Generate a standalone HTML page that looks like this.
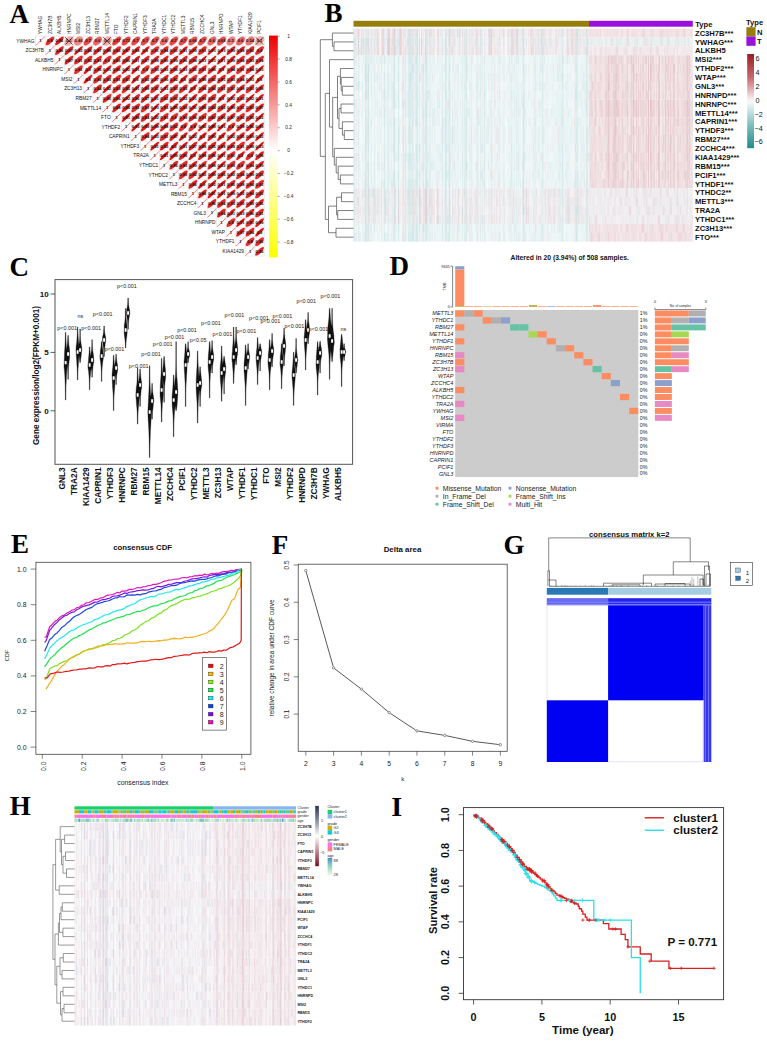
<!DOCTYPE html>
<html><head><meta charset="utf-8"><style>
html,body{margin:0;padding:0;background:#fff;}
svg{display:block;font-family:"Liberation Sans", sans-serif;}
</style></head><body>
<svg width="767" height="1041" viewBox="0 0 767 1041">
<rect width="767" height="1041" fill="#fff"/>
<text x="9.5" y="23" font-size="27" fill="#000" font-weight="bold" font-family='"Liberation Serif", serif'>A</text>
<g font-size="4.8" fill="#111">
<text transform="translate(41.97 34) rotate(-90)">YWHAG</text>
<text transform="translate(51.5 34) rotate(-90)">ZC3H7B</text>
<text transform="translate(61.02 34) rotate(-90)">ALKBH5</text>
<text transform="translate(70.55 34) rotate(-90)">HNRNPC</text>
<text transform="translate(80.08 34) rotate(-90)">MSI2</text>
<text transform="translate(89.61 34) rotate(-90)">ZC3H13</text>
<text transform="translate(99.14 34) rotate(-90)">RBM27</text>
<text transform="translate(108.67 34) rotate(-90)">METTL14</text>
<text transform="translate(118.2 34) rotate(-90)">FTO</text>
<text transform="translate(127.73 34) rotate(-90)">YTHDF2</text>
<text transform="translate(137.26 34) rotate(-90)">CAPRIN1</text>
<text transform="translate(146.79 34) rotate(-90)">YTHDF3</text>
<text transform="translate(156.32 34) rotate(-90)">TRA2A</text>
<text transform="translate(165.85 34) rotate(-90)">YTHDC1</text>
<text transform="translate(175.38 34) rotate(-90)">YTHDC2</text>
<text transform="translate(184.91 34) rotate(-90)">METTL3</text>
<text transform="translate(194.44 34) rotate(-90)">RBM15</text>
<text transform="translate(203.97 34) rotate(-90)">ZCCHC4</text>
<text transform="translate(213.5 34) rotate(-90)">GNL3</text>
<text transform="translate(223.03 34) rotate(-90)">HNRNPD</text>
<text transform="translate(232.56 34) rotate(-90)">WTAP</text>
<text transform="translate(242.09 34) rotate(-90)">YTHDF1</text>
<text transform="translate(251.62 34) rotate(-90)">KIAA1429</text>
<text transform="translate(261.16 34) rotate(-90)">PCIF1</text>
</g><g font-size="4.8" fill="#111" text-anchor="end">
<text x="34.4" y="42.68">YWHAG</text>
<text x="43.93" y="52.24">ZC3H7B</text>
<text x="53.46" y="61.8">ALKBH5</text>
<text x="62.99" y="71.36">HNRNPC</text>
<text x="72.52" y="80.92">MSI2</text>
<text x="82.05" y="90.48">ZC3H13</text>
<text x="91.58" y="100.04">RBM27</text>
<text x="101.11" y="109.6">METTL14</text>
<text x="110.64" y="119.16">FTO</text>
<text x="120.17" y="128.72">YTHDF2</text>
<text x="129.7" y="138.28">CAPRIN1</text>
<text x="139.23" y="147.84">YTHDF3</text>
<text x="148.76" y="157.4">TRA2A</text>
<text x="158.29" y="166.96">YTHDC1</text>
<text x="167.82" y="176.52">YTHDC2</text>
<text x="177.35" y="186.08">METTL3</text>
<text x="186.88" y="195.64">RBM15</text>
<text x="196.41" y="205.2">ZCCHC4</text>
<text x="205.94" y="214.76">GNL3</text>
<text x="215.47" y="224.32">HNRNPD</text>
<text x="225" y="233.88">WTAP</text>
<text x="234.53" y="243.44">YTHDF1</text>
<text x="244.06" y="253">KIAA1429</text>
</g>
<path d="M35.6 36.2H264.32M45.13 45.76H264.32M54.66 55.32H264.32M64.19 64.88H264.32M73.72 74.44H264.32M83.25 84H264.32M92.78 93.56H264.32M102.31 103.12H264.32M111.84 112.68H264.32M121.37 122.24H264.32M130.9 131.8H264.32M140.43 141.36H264.32M149.96 150.92H264.32M159.49 160.48H264.32M169.02 170.04H264.32M178.55 179.6H264.32M188.08 189.16H264.32M197.61 198.72H264.32M207.14 208.28H264.32M216.67 217.84H264.32M226.2 227.4H264.32M235.73 236.96H264.32M245.26 246.52H264.32M245.26 256.08H264.32M35.6 36.2V45.76M45.13 36.2V55.32M54.66 36.2V64.88M64.19 36.2V74.44M73.72 36.2V84M83.25 36.2V93.56M92.78 36.2V103.12M102.31 36.2V112.68M111.84 36.2V122.24M121.37 36.2V131.8M130.9 36.2V141.36M140.43 36.2V150.92M149.96 36.2V160.48M159.49 36.2V170.04M169.02 36.2V179.6M178.55 36.2V189.16M188.08 36.2V198.72M197.61 36.2V208.28M207.14 36.2V217.84M216.67 36.2V227.4M226.2 36.2V236.96M235.73 36.2V246.52M245.26 36.2V256.08M254.79 36.2V256.08M264.32 36.2V256.08" stroke="#d6d6d6" fill="none" stroke-width="0.5"/>
<g transform="rotate(-45)"><ellipse cx="6.31" cy="64.25" rx="5.75" ry="2.3" fill="#e62f2f"/><ellipse cx="13.05" cy="70.99" rx="5.85" ry="1.93" fill="#e41f1f"/><ellipse cx="19.79" cy="77.73" rx="5.3" ry="4" fill="#f7adad"/><ellipse cx="26.53" cy="84.46" rx="5.18" ry="3.78" fill="#f18787"/><ellipse cx="33.27" cy="91.2" rx="5.59" ry="2.82" fill="#e94949"/><ellipse cx="40.01" cy="97.94" rx="5.42" ry="3.25" fill="#ec6363"/><ellipse cx="46.75" cy="104.68" rx="5.3" ry="4" fill="#f7adad"/><ellipse cx="53.49" cy="111.42" rx="5.71" ry="2.47" fill="#e73737"/><ellipse cx="60.22" cy="118.16" rx="5.62" ry="2.72" fill="#e84444"/><ellipse cx="66.96" cy="124.9" rx="5.59" ry="2.82" fill="#e94949"/><ellipse cx="73.7" cy="131.63" rx="5.59" ry="2.82" fill="#e94949"/><ellipse cx="80.44" cy="138.37" rx="5.59" ry="2.82" fill="#e94949"/><ellipse cx="87.18" cy="145.11" rx="5.42" ry="3.25" fill="#ec6363"/><ellipse cx="93.92" cy="151.85" rx="5.59" ry="2.82" fill="#e94949"/><ellipse cx="100.66" cy="158.59" rx="5.59" ry="2.82" fill="#e94949"/><ellipse cx="107.4" cy="165.33" rx="5.53" ry="3" fill="#ea5353"/><ellipse cx="114.13" cy="172.07" rx="5.59" ry="2.82" fill="#e94949"/><ellipse cx="120.87" cy="178.81" rx="5.42" ry="3.25" fill="#ec6363"/><ellipse cx="127.61" cy="185.54" rx="5.56" ry="2.91" fill="#ea4e4e"/><ellipse cx="134.35" cy="192.28" rx="5.25" ry="3.64" fill="#ef7d7d"/><ellipse cx="141.09" cy="199.02" rx="5.42" ry="3.25" fill="#ec6363"/><ellipse cx="147.83" cy="205.76" rx="5.32" ry="3.49" fill="#ee7272"/><ellipse cx="154.57" cy="212.5" rx="5.3" ry="4" fill="#f7adad"/><ellipse cx="6.29" cy="77.75" rx="5.85" ry="1.93" fill="#e41f1f"/><ellipse cx="13.03" cy="84.49" rx="5.87" ry="1.84" fill="#e41c1c"/><ellipse cx="19.77" cy="91.22" rx="5.94" ry="1.45" fill="#e21010"/><ellipse cx="26.51" cy="97.96" rx="5.85" ry="1.92" fill="#e41f1f"/><ellipse cx="33.25" cy="104.7" rx="5.86" ry="1.88" fill="#e41e1e"/><ellipse cx="39.99" cy="111.44" rx="5.87" ry="1.81" fill="#e41b1b"/><ellipse cx="46.73" cy="118.18" rx="5.79" ry="2.16" fill="#e52929"/><ellipse cx="53.46" cy="124.92" rx="5.86" ry="1.88" fill="#e41d1d"/><ellipse cx="60.2" cy="131.66" rx="5.88" ry="1.77" fill="#e31919"/><ellipse cx="66.94" cy="138.39" rx="5.92" ry="1.6" fill="#e31414"/><ellipse cx="73.68" cy="145.13" rx="5.77" ry="2.23" fill="#e62c2c"/><ellipse cx="80.42" cy="151.87" rx="5.82" ry="2.06" fill="#e52525"/><ellipse cx="87.16" cy="158.61" rx="5.77" ry="2.23" fill="#e62c2c"/><ellipse cx="93.9" cy="165.35" rx="5.92" ry="1.58" fill="#e31313"/><ellipse cx="100.64" cy="172.09" rx="5.9" ry="1.71" fill="#e31717"/><ellipse cx="107.37" cy="178.83" rx="5.76" ry="2.27" fill="#e62d2d"/><ellipse cx="114.11" cy="185.57" rx="5.95" ry="1.38" fill="#e20e0e"/><ellipse cx="120.85" cy="192.3" rx="5.95" ry="1.41" fill="#e20e0e"/><ellipse cx="127.59" cy="199.04" rx="5.89" ry="1.75" fill="#e31919"/><ellipse cx="134.33" cy="205.78" rx="5.88" ry="1.78" fill="#e31a1a"/><ellipse cx="141.07" cy="212.52" rx="5.79" ry="2.18" fill="#e52929"/><ellipse cx="147.81" cy="219.26" rx="5.76" ry="2.29" fill="#e62e2e"/><ellipse cx="6.27" cy="91.25" rx="5.86" ry="1.86" fill="#e41d1d"/><ellipse cx="13.01" cy="97.98" rx="5.77" ry="2.26" fill="#e62d2d"/><ellipse cx="19.75" cy="104.72" rx="5.79" ry="2.15" fill="#e52828"/><ellipse cx="26.49" cy="111.46" rx="5.8" ry="2.11" fill="#e52727"/><ellipse cx="33.23" cy="118.2" rx="5.76" ry="2.28" fill="#e62e2e"/><ellipse cx="39.97" cy="124.94" rx="5.85" ry="1.92" fill="#e41f1f"/><ellipse cx="46.7" cy="131.68" rx="5.84" ry="1.94" fill="#e42020"/><ellipse cx="53.44" cy="138.42" rx="5.93" ry="1.55" fill="#e31212"/><ellipse cx="60.18" cy="145.15" rx="5.86" ry="1.87" fill="#e41d1d"/><ellipse cx="66.92" cy="151.89" rx="5.89" ry="1.76" fill="#e31919"/><ellipse cx="73.66" cy="158.63" rx="5.86" ry="1.89" fill="#e41e1e"/><ellipse cx="80.4" cy="165.37" rx="5.89" ry="1.74" fill="#e31818"/><ellipse cx="87.14" cy="172.11" rx="5.85" ry="1.93" fill="#e41f1f"/><ellipse cx="93.88" cy="178.85" rx="5.81" ry="2.08" fill="#e52525"/><ellipse cx="100.61" cy="185.59" rx="5.96" ry="1.36" fill="#e20e0e"/><ellipse cx="107.35" cy="192.33" rx="5.96" ry="1.37" fill="#e20e0e"/><ellipse cx="114.09" cy="199.06" rx="5.93" ry="1.55" fill="#e31212"/><ellipse cx="120.83" cy="205.8" rx="5.9" ry="1.69" fill="#e31717"/><ellipse cx="127.57" cy="212.54" rx="5.82" ry="2.05" fill="#e52424"/><ellipse cx="134.31" cy="219.28" rx="5.8" ry="2.12" fill="#e52727"/><ellipse cx="141.05" cy="226.02" rx="5.81" ry="2.07" fill="#e52525"/><ellipse cx="6.25" cy="104.74" rx="5.77" ry="2.25" fill="#e62c2c"/><ellipse cx="12.99" cy="111.48" rx="5.91" ry="1.63" fill="#e31515"/><ellipse cx="19.73" cy="118.22" rx="5.84" ry="1.98" fill="#e42121"/><ellipse cx="26.47" cy="124.96" rx="5.93" ry="1.54" fill="#e21212"/><ellipse cx="33.21" cy="131.7" rx="5.83" ry="1.99" fill="#e42222"/><ellipse cx="39.94" cy="138.44" rx="5.95" ry="1.41" fill="#e20e0e"/><ellipse cx="46.68" cy="145.18" rx="5.93" ry="1.54" fill="#e21212"/><ellipse cx="53.42" cy="151.91" rx="5.75" ry="2.3" fill="#e62f2f"/><ellipse cx="60.16" cy="158.65" rx="5.8" ry="2.14" fill="#e52828"/><ellipse cx="66.9" cy="165.39" rx="5.94" ry="1.47" fill="#e21010"/><ellipse cx="73.64" cy="172.13" rx="5.85" ry="1.92" fill="#e41f1f"/><ellipse cx="80.38" cy="178.87" rx="5.95" ry="1.39" fill="#e20e0e"/><ellipse cx="87.12" cy="185.61" rx="5.84" ry="1.98" fill="#e42121"/><ellipse cx="93.85" cy="192.35" rx="5.77" ry="2.25" fill="#e62c2c"/><ellipse cx="100.59" cy="199.09" rx="5.88" ry="1.77" fill="#e31919"/><ellipse cx="107.33" cy="205.82" rx="5.91" ry="1.62" fill="#e31414"/><ellipse cx="114.07" cy="212.56" rx="5.81" ry="2.09" fill="#e52626"/><ellipse cx="120.81" cy="219.3" rx="5.77" ry="2.24" fill="#e62c2c"/><ellipse cx="127.55" cy="226.04" rx="5.82" ry="2.04" fill="#e52424"/><ellipse cx="134.29" cy="232.78" rx="5.95" ry="1.41" fill="#e20e0e"/><ellipse cx="6.23" cy="118.24" rx="5.91" ry="1.64" fill="#e31515"/><ellipse cx="12.97" cy="124.98" rx="5.78" ry="2.21" fill="#e52b2b"/><ellipse cx="19.71" cy="131.72" rx="5.8" ry="2.11" fill="#e52626"/><ellipse cx="26.45" cy="138.46" rx="5.77" ry="2.22" fill="#e62b2b"/><ellipse cx="33.18" cy="145.2" rx="5.77" ry="2.26" fill="#e62d2d"/><ellipse cx="39.92" cy="151.94" rx="5.92" ry="1.6" fill="#e31414"/><ellipse cx="46.66" cy="158.67" rx="5.79" ry="2.16" fill="#e52929"/><ellipse cx="53.4" cy="165.41" rx="5.87" ry="1.84" fill="#e41c1c"/><ellipse cx="60.14" cy="172.15" rx="5.85" ry="1.94" fill="#e42020"/><ellipse cx="66.88" cy="178.89" rx="5.79" ry="2.15" fill="#e52828"/><ellipse cx="73.62" cy="185.63" rx="5.9" ry="1.67" fill="#e31616"/><ellipse cx="80.36" cy="192.37" rx="5.78" ry="2.2" fill="#e52a2a"/><ellipse cx="87.09" cy="199.11" rx="5.89" ry="1.76" fill="#e31919"/><ellipse cx="93.83" cy="205.85" rx="5.78" ry="2.21" fill="#e52b2b"/><ellipse cx="100.57" cy="212.58" rx="5.84" ry="1.96" fill="#e42121"/><ellipse cx="107.31" cy="219.32" rx="5.8" ry="2.14" fill="#e52828"/><ellipse cx="114.05" cy="226.06" rx="5.81" ry="2.09" fill="#e52626"/><ellipse cx="120.79" cy="232.8" rx="5.95" ry="1.4" fill="#e20e0e"/><ellipse cx="127.53" cy="239.54" rx="5.92" ry="1.59" fill="#e31414"/><ellipse cx="6.21" cy="131.74" rx="5.82" ry="2.06" fill="#e52424"/><ellipse cx="12.95" cy="138.48" rx="5.93" ry="1.5" fill="#e21111"/><ellipse cx="19.69" cy="145.22" rx="5.8" ry="2.14" fill="#e52828"/><ellipse cx="26.42" cy="151.96" rx="5.83" ry="1.98" fill="#e42121"/><ellipse cx="33.16" cy="158.7" rx="5.93" ry="1.53" fill="#e21212"/><ellipse cx="39.9" cy="165.43" rx="5.89" ry="1.76" fill="#e31919"/><ellipse cx="46.64" cy="172.17" rx="5.77" ry="2.23" fill="#e62b2b"/><ellipse cx="53.38" cy="178.91" rx="5.96" ry="1.38" fill="#e20e0e"/><ellipse cx="60.12" cy="185.65" rx="5.8" ry="2.14" fill="#e52828"/><ellipse cx="66.86" cy="192.39" rx="5.81" ry="2.1" fill="#e52626"/><ellipse cx="73.6" cy="199.13" rx="5.91" ry="1.62" fill="#e31515"/><ellipse cx="80.33" cy="205.87" rx="5.82" ry="2.04" fill="#e52424"/><ellipse cx="87.07" cy="212.61" rx="5.81" ry="2.07" fill="#e52525"/><ellipse cx="93.81" cy="219.34" rx="5.77" ry="2.25" fill="#e62c2c"/><ellipse cx="100.55" cy="226.08" rx="5.77" ry="2.23" fill="#e62c2c"/><ellipse cx="107.29" cy="232.82" rx="5.87" ry="1.81" fill="#e41b1b"/><ellipse cx="114.03" cy="239.56" rx="5.8" ry="2.11" fill="#e52727"/><ellipse cx="120.77" cy="246.3" rx="5.88" ry="1.8" fill="#e31a1a"/><ellipse cx="6.19" cy="145.24" rx="5.83" ry="2" fill="#e42222"/><ellipse cx="12.93" cy="151.98" rx="5.85" ry="1.93" fill="#e41f1f"/><ellipse cx="19.66" cy="158.72" rx="5.95" ry="1.41" fill="#e20e0e"/><ellipse cx="26.4" cy="165.46" rx="5.85" ry="1.91" fill="#e41e1e"/><ellipse cx="33.14" cy="172.19" rx="5.87" ry="1.82" fill="#e41b1b"/><ellipse cx="39.88" cy="178.93" rx="5.93" ry="1.52" fill="#e21111"/><ellipse cx="46.62" cy="185.67" rx="5.79" ry="2.16" fill="#e52929"/><ellipse cx="53.36" cy="192.41" rx="5.79" ry="2.18" fill="#e52a2a"/><ellipse cx="60.1" cy="199.15" rx="5.94" ry="1.47" fill="#e21010"/><ellipse cx="66.84" cy="205.89" rx="5.92" ry="1.58" fill="#e31313"/><ellipse cx="73.57" cy="212.63" rx="5.81" ry="2.11" fill="#e52626"/><ellipse cx="80.31" cy="219.37" rx="5.79" ry="2.15" fill="#e52828"/><ellipse cx="87.05" cy="226.1" rx="5.91" ry="1.66" fill="#e31616"/><ellipse cx="93.79" cy="232.84" rx="5.95" ry="1.43" fill="#e20f0f"/><ellipse cx="100.53" cy="239.58" rx="5.79" ry="2.15" fill="#e52828"/><ellipse cx="107.27" cy="246.32" rx="5.95" ry="1.42" fill="#e20f0f"/><ellipse cx="114.01" cy="253.06" rx="5.93" ry="1.5" fill="#e21111"/><ellipse cx="6.17" cy="158.74" rx="5.88" ry="1.79" fill="#e31a1a"/><ellipse cx="12.9" cy="165.48" rx="5.84" ry="1.96" fill="#e42121"/><ellipse cx="19.64" cy="172.22" rx="5.78" ry="2.22" fill="#e62b2b"/><ellipse cx="26.38" cy="178.95" rx="5.76" ry="2.27" fill="#e62d2d"/><ellipse cx="33.12" cy="185.69" rx="5.95" ry="1.41" fill="#e20e0e"/><ellipse cx="39.86" cy="192.43" rx="5.8" ry="2.12" fill="#e52727"/><ellipse cx="46.6" cy="199.17" rx="5.9" ry="1.69" fill="#e31717"/><ellipse cx="53.34" cy="205.91" rx="5.81" ry="2.1" fill="#e52626"/><ellipse cx="60.08" cy="212.65" rx="5.92" ry="1.57" fill="#e31313"/><ellipse cx="66.81" cy="219.39" rx="5.88" ry="1.8" fill="#e41b1b"/><ellipse cx="73.55" cy="226.13" rx="5.81" ry="2.07" fill="#e52525"/><ellipse cx="80.29" cy="232.86" rx="5.79" ry="2.17" fill="#e52929"/><ellipse cx="87.03" cy="239.6" rx="5.9" ry="1.68" fill="#e31616"/><ellipse cx="93.77" cy="246.34" rx="5.77" ry="2.25" fill="#e62c2c"/><ellipse cx="100.51" cy="253.08" rx="5.8" ry="2.12" fill="#e52727"/><ellipse cx="107.25" cy="259.82" rx="5.87" ry="1.84" fill="#e41c1c"/><ellipse cx="6.14" cy="172.24" rx="5.93" ry="1.54" fill="#e21212"/><ellipse cx="12.88" cy="178.98" rx="5.88" ry="1.78" fill="#e31a1a"/><ellipse cx="19.62" cy="185.71" rx="5.81" ry="2.08" fill="#e52525"/><ellipse cx="26.36" cy="192.45" rx="5.94" ry="1.46" fill="#e21010"/><ellipse cx="33.1" cy="199.19" rx="5.8" ry="2.14" fill="#e52828"/><ellipse cx="39.84" cy="205.93" rx="5.76" ry="2.29" fill="#e62e2e"/><ellipse cx="46.58" cy="212.67" rx="5.81" ry="2.09" fill="#e52626"/><ellipse cx="53.32" cy="219.41" rx="5.85" ry="1.94" fill="#e42020"/><ellipse cx="60.05" cy="226.15" rx="5.77" ry="2.26" fill="#e62d2d"/><ellipse cx="66.79" cy="232.89" rx="5.79" ry="2.17" fill="#e52929"/><ellipse cx="73.53" cy="239.62" rx="5.83" ry="2.01" fill="#e42222"/><ellipse cx="80.27" cy="246.36" rx="5.87" ry="1.82" fill="#e41b1b"/><ellipse cx="87.01" cy="253.1" rx="5.78" ry="2.2" fill="#e52a2a"/><ellipse cx="93.75" cy="259.84" rx="5.83" ry="2.01" fill="#e42323"/><ellipse cx="100.49" cy="266.58" rx="5.94" ry="1.49" fill="#e21111"/><ellipse cx="6.12" cy="185.74" rx="5.95" ry="1.39" fill="#e20e0e"/><ellipse cx="12.86" cy="192.47" rx="5.89" ry="1.74" fill="#e31919"/><ellipse cx="19.6" cy="199.21" rx="5.9" ry="1.71" fill="#e31717"/><ellipse cx="26.34" cy="205.95" rx="5.87" ry="1.81" fill="#e41b1b"/><ellipse cx="33.08" cy="212.69" rx="5.78" ry="2.19" fill="#e52a2a"/><ellipse cx="39.82" cy="219.43" rx="5.76" ry="2.28" fill="#e62e2e"/><ellipse cx="46.56" cy="226.17" rx="5.76" ry="2.29" fill="#e62e2e"/><ellipse cx="53.29" cy="232.91" rx="5.94" ry="1.47" fill="#e21010"/><ellipse cx="60.03" cy="239.65" rx="5.9" ry="1.7" fill="#e31717"/><ellipse cx="66.77" cy="246.38" rx="5.95" ry="1.41" fill="#e20e0e"/><ellipse cx="73.51" cy="253.12" rx="5.76" ry="2.29" fill="#e62e2e"/><ellipse cx="80.25" cy="259.86" rx="5.88" ry="1.76" fill="#e31919"/><ellipse cx="86.99" cy="266.6" rx="5.85" ry="1.91" fill="#e41e1e"/><ellipse cx="93.73" cy="273.34" rx="5.9" ry="1.67" fill="#e31616"/><ellipse cx="6.1" cy="199.23" rx="5.82" ry="2.05" fill="#e52424"/><ellipse cx="12.84" cy="205.97" rx="5.96" ry="1.36" fill="#e20e0e"/><ellipse cx="19.58" cy="212.71" rx="5.77" ry="2.24" fill="#e62c2c"/><ellipse cx="26.32" cy="219.45" rx="5.87" ry="1.85" fill="#e41c1c"/><ellipse cx="33.06" cy="226.19" rx="5.9" ry="1.66" fill="#e31616"/><ellipse cx="39.8" cy="232.93" rx="5.94" ry="1.48" fill="#e21010"/><ellipse cx="46.53" cy="239.67" rx="5.9" ry="1.66" fill="#e31616"/><ellipse cx="53.27" cy="246.41" rx="5.9" ry="1.7" fill="#e31717"/><ellipse cx="60.01" cy="253.14" rx="5.92" ry="1.6" fill="#e31414"/><ellipse cx="66.75" cy="259.88" rx="5.94" ry="1.47" fill="#e21010"/><ellipse cx="73.49" cy="266.62" rx="5.83" ry="2.02" fill="#e52323"/><ellipse cx="80.23" cy="273.36" rx="5.89" ry="1.71" fill="#e31818"/><ellipse cx="86.97" cy="280.1" rx="5.94" ry="1.48" fill="#e21010"/><ellipse cx="6.08" cy="212.73" rx="5.93" ry="1.52" fill="#e21111"/><ellipse cx="12.82" cy="219.47" rx="5.84" ry="1.96" fill="#e42121"/><ellipse cx="19.56" cy="226.21" rx="5.92" ry="1.6" fill="#e31414"/><ellipse cx="26.3" cy="232.95" rx="5.93" ry="1.52" fill="#e21212"/><ellipse cx="33.04" cy="239.69" rx="5.87" ry="1.82" fill="#e41b1b"/><ellipse cx="39.77" cy="246.43" rx="5.88" ry="1.77" fill="#e31a1a"/><ellipse cx="46.51" cy="253.17" rx="5.83" ry="2" fill="#e42222"/><ellipse cx="53.25" cy="259.9" rx="5.87" ry="1.81" fill="#e41b1b"/><ellipse cx="59.99" cy="266.64" rx="5.88" ry="1.79" fill="#e31a1a"/><ellipse cx="66.73" cy="273.38" rx="5.77" ry="2.24" fill="#e62c2c"/><ellipse cx="73.47" cy="280.12" rx="5.88" ry="1.76" fill="#e31919"/><ellipse cx="80.21" cy="286.86" rx="5.96" ry="1.37" fill="#e20e0e"/><ellipse cx="6.06" cy="226.23" rx="5.93" ry="1.51" fill="#e21111"/><ellipse cx="12.8" cy="232.97" rx="5.9" ry="1.67" fill="#e31616"/><ellipse cx="19.54" cy="239.71" rx="5.83" ry="1.99" fill="#e42222"/><ellipse cx="26.28" cy="246.45" rx="5.9" ry="1.66" fill="#e31616"/><ellipse cx="33.01" cy="253.19" rx="5.87" ry="1.82" fill="#e41b1b"/><ellipse cx="39.75" cy="259.93" rx="5.84" ry="1.94" fill="#e42020"/><ellipse cx="46.49" cy="266.66" rx="5.93" ry="1.55" fill="#e31212"/><ellipse cx="53.23" cy="273.4" rx="5.77" ry="2.24" fill="#e62c2c"/><ellipse cx="59.97" cy="280.14" rx="5.91" ry="1.65" fill="#e31515"/><ellipse cx="66.71" cy="286.88" rx="5.76" ry="2.28" fill="#e62e2e"/><ellipse cx="73.45" cy="293.62" rx="5.88" ry="1.8" fill="#e31a1a"/><ellipse cx="6.04" cy="239.73" rx="5.85" ry="1.91" fill="#e41f1f"/><ellipse cx="12.78" cy="246.47" rx="5.8" ry="2.12" fill="#e52727"/><ellipse cx="19.52" cy="253.21" rx="5.9" ry="1.7" fill="#e31717"/><ellipse cx="26.25" cy="259.95" rx="5.86" ry="1.89" fill="#e41e1e"/><ellipse cx="32.99" cy="266.69" rx="5.88" ry="1.78" fill="#e31a1a"/><ellipse cx="39.73" cy="273.42" rx="5.94" ry="1.46" fill="#e21010"/><ellipse cx="46.47" cy="280.16" rx="5.81" ry="2.1" fill="#e52626"/><ellipse cx="53.21" cy="286.9" rx="5.76" ry="2.29" fill="#e62e2e"/><ellipse cx="59.95" cy="293.64" rx="5.82" ry="2.06" fill="#e52525"/><ellipse cx="66.69" cy="300.38" rx="5.89" ry="1.72" fill="#e31818"/><ellipse cx="6.02" cy="253.23" rx="5.8" ry="2.14" fill="#e52828"/><ellipse cx="12.76" cy="259.97" rx="5.79" ry="2.17" fill="#e52929"/><ellipse cx="19.49" cy="266.71" rx="5.94" ry="1.48" fill="#e21010"/><ellipse cx="26.23" cy="273.45" rx="5.89" ry="1.74" fill="#e31818"/><ellipse cx="32.97" cy="280.18" rx="5.84" ry="1.94" fill="#e42020"/><ellipse cx="39.71" cy="286.92" rx="5.94" ry="1.49" fill="#e21111"/><ellipse cx="46.45" cy="293.66" rx="5.82" ry="2.04" fill="#e52424"/><ellipse cx="53.19" cy="300.4" rx="5.89" ry="1.73" fill="#e31818"/><ellipse cx="59.93" cy="307.14" rx="5.79" ry="2.15" fill="#e52828"/><ellipse cx="6" cy="266.73" rx="5.84" ry="1.95" fill="#e42020"/><ellipse cx="12.73" cy="273.47" rx="5.92" ry="1.59" fill="#e31414"/><ellipse cx="19.47" cy="280.21" rx="5.94" ry="1.47" fill="#e21010"/><ellipse cx="26.21" cy="286.94" rx="5.93" ry="1.51" fill="#e21111"/><ellipse cx="32.95" cy="293.68" rx="5.83" ry="1.99" fill="#e42222"/><ellipse cx="39.69" cy="300.42" rx="5.87" ry="1.81" fill="#e41b1b"/><ellipse cx="46.43" cy="307.16" rx="5.82" ry="2.05" fill="#e52424"/><ellipse cx="53.17" cy="313.9" rx="5.78" ry="2.2" fill="#e52a2a"/><ellipse cx="5.98" cy="280.23" rx="5.86" ry="1.89" fill="#e41e1e"/><ellipse cx="12.71" cy="286.97" rx="5.92" ry="1.55" fill="#e31212"/><ellipse cx="19.45" cy="293.7" rx="5.93" ry="1.54" fill="#e21212"/><ellipse cx="26.19" cy="300.44" rx="5.9" ry="1.69" fill="#e31717"/><ellipse cx="32.93" cy="307.18" rx="5.95" ry="1.42" fill="#e20f0f"/><ellipse cx="39.67" cy="313.92" rx="5.81" ry="2.08" fill="#e52525"/><ellipse cx="46.41" cy="320.66" rx="5.79" ry="2.17" fill="#e52929"/><ellipse cx="5.95" cy="293.73" rx="5.85" ry="1.94" fill="#e42020"/><ellipse cx="12.69" cy="300.46" rx="5.81" ry="2.09" fill="#e52525"/><ellipse cx="19.43" cy="307.2" rx="5.8" ry="2.14" fill="#e52828"/><ellipse cx="26.17" cy="313.94" rx="5.84" ry="1.97" fill="#e42121"/><ellipse cx="32.91" cy="320.68" rx="5.88" ry="1.77" fill="#e31a1a"/><ellipse cx="39.65" cy="327.42" rx="5.86" ry="1.9" fill="#e41e1e"/><ellipse cx="5.93" cy="307.22" rx="5.82" ry="2.05" fill="#e52424"/><ellipse cx="12.67" cy="313.96" rx="5.93" ry="1.55" fill="#e31212"/><ellipse cx="19.41" cy="320.7" rx="5.95" ry="1.38" fill="#e20e0e"/><ellipse cx="26.15" cy="327.44" rx="5.85" ry="1.93" fill="#e41f1f"/><ellipse cx="32.89" cy="334.18" rx="5.77" ry="2.24" fill="#e62c2c"/><ellipse cx="5.91" cy="320.72" rx="5.76" ry="2.28" fill="#e62e2e"/><ellipse cx="12.65" cy="327.46" rx="5.93" ry="1.51" fill="#e21111"/><ellipse cx="19.39" cy="334.2" rx="5.76" ry="2.27" fill="#e62d2d"/><ellipse cx="26.13" cy="340.94" rx="5.9" ry="1.69" fill="#e31717"/><ellipse cx="5.89" cy="334.22" rx="5.87" ry="1.83" fill="#e41b1b"/><ellipse cx="12.63" cy="340.96" rx="5.82" ry="2.06" fill="#e52424"/><ellipse cx="19.37" cy="347.7" rx="5.92" ry="1.6" fill="#e31414"/><ellipse cx="5.87" cy="347.72" rx="5.76" ry="2.29" fill="#e62e2e"/><ellipse cx="12.61" cy="354.46" rx="5.78" ry="2.2" fill="#e52a2a"/><ellipse cx="5.85" cy="361.22" rx="5.85" ry="1.93" fill="#e41f1f"/></g>
<path d="M36.1 45.23L44.63 36.7M45.63 54.79L54.16 46.26M55.16 64.35L63.69 55.82M64.69 73.91L73.22 65.38M74.22 83.47L82.75 74.94M83.75 93.03L92.28 84.5M93.28 102.59L101.81 94.06M102.81 112.15L111.34 103.62M112.34 121.71L120.87 113.18M121.87 131.27L130.4 122.74M131.4 140.83L139.93 132.3M140.93 150.39L149.46 141.86M150.46 159.95L158.99 151.42M159.99 169.51L168.52 160.98M169.52 179.07L178.05 170.54M179.05 188.63L187.58 180.1M188.58 198.19L197.11 189.66M198.11 207.75L206.64 199.22M207.64 217.31L216.17 208.78M217.17 226.87L225.7 218.34M226.7 236.43L235.23 227.9M236.23 245.99L244.76 237.46M245.76 255.55L254.29 247.02" stroke="#ee2222" fill="none" stroke-width="0.6"/>
<path d="M65.19 37.2L72.72 44.73M65.19 44.73L72.72 37.2M103.31 37.2L110.84 44.73M103.31 44.73L110.84 37.2M255.79 37.2L263.32 44.73M255.79 44.73L263.32 37.2" stroke="#111" fill="none" stroke-width="0.7"/>
<g font-size="4.1" fill="#111" text-anchor="middle" font-weight="bold">
<text x="49.9" y="42.42">0.8</text>
<text x="59.42" y="42.42">0.86</text>
<text x="68.95" y="42.42">0.1</text>
<text x="78.48" y="42.42">0.46</text>
<text x="88.02" y="42.42">0.7</text>
<text x="97.55" y="42.42">0.6</text>
<text x="107.08" y="42.42">0.1</text>
<text x="116.61" y="42.42">0.77</text>
<text x="126.14" y="42.42">0.72</text>
<text x="135.66" y="42.42">0.7</text>
<text x="145.19" y="42.42">0.7</text>
<text x="154.72" y="42.42">0.7</text>
<text x="164.25" y="42.42">0.6</text>
<text x="173.78" y="42.42">0.7</text>
<text x="183.31" y="42.42">0.7</text>
<text x="192.84" y="42.42">0.66</text>
<text x="202.37" y="42.42">0.7</text>
<text x="211.9" y="42.42">0.6</text>
<text x="221.43" y="42.42">0.68</text>
<text x="230.96" y="42.42">0.5</text>
<text x="240.49" y="42.42">0.6</text>
<text x="250.02" y="42.42">0.54</text>
<text x="259.56" y="42.42">0.1</text>
<text x="59.42" y="51.98">0.86</text>
<text x="68.95" y="51.98">0.87</text>
<text x="78.48" y="51.98">0.92</text>
<text x="88.02" y="51.98">0.86</text>
<text x="97.55" y="51.98">0.87</text>
<text x="107.08" y="51.98">0.88</text>
<text x="116.61" y="51.98">0.82</text>
<text x="126.14" y="51.98">0.87</text>
<text x="135.66" y="51.98">0.88</text>
<text x="145.19" y="51.98">0.9</text>
<text x="154.72" y="51.98">0.81</text>
<text x="164.25" y="51.98">0.84</text>
<text x="173.78" y="51.98">0.81</text>
<text x="183.31" y="51.98">0.91</text>
<text x="192.84" y="51.98">0.89</text>
<text x="202.37" y="51.98">0.81</text>
<text x="211.9" y="51.98">0.93</text>
<text x="221.43" y="51.98">0.93</text>
<text x="230.96" y="51.98">0.89</text>
<text x="240.49" y="51.98">0.88</text>
<text x="250.02" y="51.98">0.82</text>
<text x="259.56" y="51.98">0.8</text>
<text x="68.95" y="61.54">0.87</text>
<text x="78.48" y="61.54">0.81</text>
<text x="88.02" y="61.54">0.82</text>
<text x="97.55" y="61.54">0.83</text>
<text x="107.08" y="61.54">0.8</text>
<text x="116.61" y="61.54">0.86</text>
<text x="126.14" y="61.54">0.86</text>
<text x="135.66" y="61.54">0.91</text>
<text x="145.19" y="61.54">0.87</text>
<text x="154.72" y="61.54">0.88</text>
<text x="164.25" y="61.54">0.86</text>
<text x="173.78" y="61.54">0.89</text>
<text x="183.31" y="61.54">0.86</text>
<text x="192.84" y="61.54">0.84</text>
<text x="202.37" y="61.54">0.93</text>
<text x="211.9" y="61.54">0.93</text>
<text x="221.43" y="61.54">0.91</text>
<text x="230.96" y="61.54">0.89</text>
<text x="240.49" y="61.54">0.84</text>
<text x="250.02" y="61.54">0.83</text>
<text x="259.56" y="61.54">0.84</text>
<text x="78.48" y="71.09">0.81</text>
<text x="88.02" y="71.09">0.9</text>
<text x="97.55" y="71.09">0.85</text>
<text x="107.08" y="71.09">0.91</text>
<text x="116.61" y="71.09">0.85</text>
<text x="126.14" y="71.09">0.92</text>
<text x="135.66" y="71.09">0.91</text>
<text x="145.19" y="71.09">0.8</text>
<text x="154.72" y="71.09">0.83</text>
<text x="164.25" y="71.09">0.92</text>
<text x="173.78" y="71.09">0.86</text>
<text x="183.31" y="71.09">0.93</text>
<text x="192.84" y="71.09">0.85</text>
<text x="202.37" y="71.09">0.81</text>
<text x="211.9" y="71.09">0.88</text>
<text x="221.43" y="71.09">0.9</text>
<text x="230.96" y="71.09">0.84</text>
<text x="240.49" y="71.09">0.81</text>
<text x="250.02" y="71.09">0.84</text>
<text x="259.56" y="71.09">0.93</text>
<text x="88.02" y="80.66">0.9</text>
<text x="97.55" y="80.66">0.82</text>
<text x="107.08" y="80.66">0.83</text>
<text x="116.61" y="80.66">0.81</text>
<text x="126.14" y="80.66">0.81</text>
<text x="135.66" y="80.66">0.9</text>
<text x="145.19" y="80.66">0.82</text>
<text x="154.72" y="80.66">0.87</text>
<text x="164.25" y="80.66">0.86</text>
<text x="173.78" y="80.66">0.82</text>
<text x="183.31" y="80.66">0.9</text>
<text x="192.84" y="80.66">0.82</text>
<text x="202.37" y="80.66">0.88</text>
<text x="211.9" y="80.66">0.82</text>
<text x="221.43" y="80.66">0.85</text>
<text x="230.96" y="80.66">0.83</text>
<text x="240.49" y="80.66">0.84</text>
<text x="250.02" y="80.66">0.93</text>
<text x="259.56" y="80.66">0.9</text>
<text x="97.55" y="90.22">0.84</text>
<text x="107.08" y="90.22">0.92</text>
<text x="116.61" y="90.22">0.83</text>
<text x="126.14" y="90.22">0.85</text>
<text x="135.66" y="90.22">0.91</text>
<text x="145.19" y="90.22">0.88</text>
<text x="154.72" y="90.22">0.81</text>
<text x="164.25" y="90.22">0.93</text>
<text x="173.78" y="90.22">0.83</text>
<text x="183.31" y="90.22">0.83</text>
<text x="192.84" y="90.22">0.9</text>
<text x="202.37" y="90.22">0.84</text>
<text x="211.9" y="90.22">0.84</text>
<text x="221.43" y="90.22">0.81</text>
<text x="230.96" y="90.22">0.81</text>
<text x="240.49" y="90.22">0.88</text>
<text x="250.02" y="90.22">0.83</text>
<text x="259.56" y="90.22">0.88</text>
<text x="107.08" y="99.78">0.85</text>
<text x="116.61" y="99.78">0.86</text>
<text x="126.14" y="99.78">0.92</text>
<text x="135.66" y="99.78">0.86</text>
<text x="145.19" y="99.78">0.87</text>
<text x="154.72" y="99.78">0.91</text>
<text x="164.25" y="99.78">0.82</text>
<text x="173.78" y="99.78">0.82</text>
<text x="183.31" y="99.78">0.92</text>
<text x="192.84" y="99.78">0.91</text>
<text x="202.37" y="99.78">0.83</text>
<text x="211.9" y="99.78">0.82</text>
<text x="221.43" y="99.78">0.9</text>
<text x="230.96" y="99.78">0.92</text>
<text x="240.49" y="99.78">0.83</text>
<text x="250.02" y="99.78">0.92</text>
<text x="259.56" y="99.78">0.91</text>
<text x="116.61" y="109.34">0.88</text>
<text x="126.14" y="109.34">0.85</text>
<text x="135.66" y="109.34">0.81</text>
<text x="145.19" y="109.34">0.81</text>
<text x="154.72" y="109.34">0.93</text>
<text x="164.25" y="109.34">0.83</text>
<text x="173.78" y="109.34">0.89</text>
<text x="183.31" y="109.34">0.83</text>
<text x="192.84" y="109.34">0.91</text>
<text x="202.37" y="109.34">0.88</text>
<text x="211.9" y="109.34">0.84</text>
<text x="221.43" y="109.34">0.82</text>
<text x="230.96" y="109.34">0.89</text>
<text x="240.49" y="109.34">0.81</text>
<text x="250.02" y="109.34">0.83</text>
<text x="259.56" y="109.34">0.87</text>
<text x="126.14" y="118.9">0.91</text>
<text x="135.66" y="118.9">0.88</text>
<text x="145.19" y="118.9">0.84</text>
<text x="154.72" y="118.9">0.92</text>
<text x="164.25" y="118.9">0.83</text>
<text x="173.78" y="118.9">0.8</text>
<text x="183.31" y="118.9">0.83</text>
<text x="192.84" y="118.9">0.86</text>
<text x="202.37" y="118.9">0.81</text>
<text x="211.9" y="118.9">0.82</text>
<text x="221.43" y="118.9">0.85</text>
<text x="230.96" y="118.9">0.87</text>
<text x="240.49" y="118.9">0.82</text>
<text x="250.02" y="118.9">0.85</text>
<text x="259.56" y="118.9">0.92</text>
<text x="135.66" y="128.46">0.93</text>
<text x="145.19" y="128.46">0.89</text>
<text x="154.72" y="128.46">0.89</text>
<text x="164.25" y="128.46">0.88</text>
<text x="173.78" y="128.46">0.82</text>
<text x="183.31" y="128.46">0.8</text>
<text x="192.84" y="128.46">0.8</text>
<text x="202.37" y="128.46">0.92</text>
<text x="211.9" y="128.46">0.89</text>
<text x="221.43" y="128.46">0.93</text>
<text x="230.96" y="128.46">0.8</text>
<text x="240.49" y="128.46">0.88</text>
<text x="250.02" y="128.46">0.86</text>
<text x="259.56" y="128.46">0.89</text>
<text x="145.19" y="138.01">0.84</text>
<text x="154.72" y="138.01">0.93</text>
<text x="164.25" y="138.01">0.81</text>
<text x="173.78" y="138.01">0.87</text>
<text x="183.31" y="138.01">0.9</text>
<text x="192.84" y="138.01">0.92</text>
<text x="202.37" y="138.01">0.9</text>
<text x="211.9" y="138.01">0.89</text>
<text x="221.43" y="138.01">0.9</text>
<text x="230.96" y="138.01">0.92</text>
<text x="240.49" y="138.01">0.85</text>
<text x="250.02" y="138.01">0.89</text>
<text x="259.56" y="138.01">0.92</text>
<text x="154.72" y="147.57">0.91</text>
<text x="164.25" y="147.57">0.85</text>
<text x="173.78" y="147.57">0.9</text>
<text x="183.31" y="147.57">0.91</text>
<text x="192.84" y="147.57">0.87</text>
<text x="202.37" y="147.57">0.88</text>
<text x="211.9" y="147.57">0.85</text>
<text x="221.43" y="147.57">0.88</text>
<text x="230.96" y="147.57">0.88</text>
<text x="240.49" y="147.57">0.81</text>
<text x="250.02" y="147.57">0.88</text>
<text x="259.56" y="147.57">0.93</text>
<text x="164.25" y="157.13">0.91</text>
<text x="173.78" y="157.13">0.89</text>
<text x="183.31" y="157.13">0.85</text>
<text x="192.84" y="157.13">0.9</text>
<text x="202.37" y="157.13">0.88</text>
<text x="211.9" y="157.13">0.86</text>
<text x="221.43" y="157.13">0.91</text>
<text x="230.96" y="157.13">0.81</text>
<text x="240.49" y="157.13">0.9</text>
<text x="250.02" y="157.13">0.8</text>
<text x="259.56" y="157.13">0.88</text>
<text x="173.78" y="166.69">0.86</text>
<text x="183.31" y="166.69">0.83</text>
<text x="192.84" y="166.69">0.89</text>
<text x="202.37" y="166.69">0.86</text>
<text x="211.9" y="166.69">0.88</text>
<text x="221.43" y="166.69">0.92</text>
<text x="230.96" y="166.69">0.83</text>
<text x="240.49" y="166.69">0.8</text>
<text x="250.02" y="166.69">0.84</text>
<text x="259.56" y="166.69">0.89</text>
<text x="183.31" y="176.25">0.83</text>
<text x="192.84" y="176.25">0.82</text>
<text x="202.37" y="176.25">0.92</text>
<text x="211.9" y="176.25">0.89</text>
<text x="221.43" y="176.25">0.86</text>
<text x="230.96" y="176.25">0.92</text>
<text x="240.49" y="176.25">0.84</text>
<text x="250.02" y="176.25">0.89</text>
<text x="259.56" y="176.25">0.83</text>
<text x="192.84" y="185.81">0.86</text>
<text x="202.37" y="185.81">0.9</text>
<text x="211.9" y="185.81">0.92</text>
<text x="221.43" y="185.81">0.91</text>
<text x="230.96" y="185.81">0.85</text>
<text x="240.49" y="185.81">0.88</text>
<text x="250.02" y="185.81">0.84</text>
<text x="259.56" y="185.81">0.82</text>
<text x="202.37" y="195.38">0.86</text>
<text x="211.9" y="195.38">0.91</text>
<text x="221.43" y="195.38">0.91</text>
<text x="230.96" y="195.38">0.89</text>
<text x="240.49" y="195.38">0.92</text>
<text x="250.02" y="195.38">0.84</text>
<text x="259.56" y="195.38">0.82</text>
<text x="211.9" y="204.94">0.86</text>
<text x="221.43" y="204.94">0.84</text>
<text x="230.96" y="204.94">0.83</text>
<text x="240.49" y="204.94">0.85</text>
<text x="250.02" y="204.94">0.88</text>
<text x="259.56" y="204.94">0.86</text>
<text x="221.43" y="214.5">0.84</text>
<text x="230.96" y="214.5">0.91</text>
<text x="240.49" y="214.5">0.93</text>
<text x="250.02" y="214.5">0.86</text>
<text x="259.56" y="214.5">0.81</text>
<text x="230.96" y="224.06">0.8</text>
<text x="240.49" y="224.06">0.91</text>
<text x="250.02" y="224.06">0.81</text>
<text x="259.56" y="224.06">0.89</text>
<text x="240.49" y="233.62">0.87</text>
<text x="250.02" y="233.62">0.84</text>
<text x="259.56" y="233.62">0.9</text>
<text x="250.02" y="243.18">0.8</text>
<text x="259.56" y="243.18">0.82</text>
<text x="259.56" y="252.74">0.86</text>
</g><g font-size="4.1" fill="#111" text-anchor="middle" font-weight="bold">
<text x="40.37" y="42.37">1</text>
<text x="49.9" y="51.93">1</text>
<text x="59.42" y="61.49">1</text>
<text x="68.95" y="71.05">1</text>
<text x="78.48" y="80.61">1</text>
<text x="88.02" y="90.17">1</text>
<text x="97.55" y="99.73">1</text>
<text x="107.08" y="109.29">1</text>
<text x="116.61" y="118.85">1</text>
<text x="126.14" y="128.41">1</text>
<text x="135.66" y="137.97">1</text>
<text x="145.19" y="147.53">1</text>
<text x="154.72" y="157.09">1</text>
<text x="164.25" y="166.65">1</text>
<text x="173.78" y="176.21">1</text>
<text x="183.31" y="185.77">1</text>
<text x="192.84" y="195.33">1</text>
<text x="202.37" y="204.89">1</text>
<text x="211.9" y="214.45">1</text>
<text x="221.43" y="224.01">1</text>
<text x="230.96" y="233.57">1</text>
<text x="240.49" y="243.13">1</text>
<text x="250.02" y="252.69">1</text>
</g>
<defs><linearGradient id="gA" x1="0" y1="0" x2="0" y2="1"><stop offset="0" stop-color="#ee0000"/><stop offset="0.5175" stop-color="#ffffff"/><stop offset="1" stop-color="#ffff00"/></linearGradient></defs>
<rect x="269" y="35.6" width="8.8" height="221.8" fill="url(#gA)"/>
<g font-size="4.8" fill="#222" text-anchor="middle">
<text x="288.6" y="37.9">1</text>
<text x="288.6" y="60.78">0.8</text>
<text x="288.6" y="83.66">0.6</text>
<text x="288.6" y="106.54">0.4</text>
<text x="288.6" y="129.42">0.2</text>
<text x="288.6" y="152.3">0</text>
<text x="288.6" y="175.18">−0.2</text>
<text x="288.6" y="198.06">−0.4</text>
<text x="288.6" y="220.94">−0.6</text>
<text x="288.6" y="243.82">−0.8</text>
</g>
<path d="M277.8 36.2H279.6M277.8 59.08H279.6M277.8 81.96H279.6M277.8 104.84H279.6M277.8 127.72H279.6M277.8 150.6H279.6M277.8 173.48H279.6M277.8 196.36H279.6M277.8 219.24H279.6M277.8 242.12H279.6" stroke="#444" fill="none" stroke-width="0.5"/>
<text x="324.6" y="22" font-size="27" fill="#000" font-weight="bold" font-family='"Liberation Serif", serif'>B</text>
<rect x="353.5" y="20.8" width="235.5" height="5.9" fill="#967d0c"/>
<rect x="589" y="20.8" width="103.8" height="5.9" fill="#9810dc"/>
<rect x="353.5" y="28.6" width="235.5" height="8.88" fill="#eee9eb"/>
<rect x="353.5" y="37.48" width="235.5" height="8.88" fill="#e8ecee"/>
<rect x="353.5" y="46.35" width="235.5" height="8.88" fill="#eee9eb"/>
<rect x="353.5" y="55.23" width="235.5" height="133.12" fill="#eaf4f5"/>
<rect x="353.5" y="188.35" width="235.5" height="35.5" fill="#ecedef"/>
<rect x="353.5" y="223.85" width="235.5" height="17.75" fill="#eaf4f5"/>
<rect x="589" y="28.6" width="103.8" height="8.88" fill="#f3e2e4"/>
<rect x="589" y="37.48" width="103.8" height="8.88" fill="#e8eef0"/>
<rect x="589" y="46.35" width="103.8" height="8.88" fill="#f2e8ea"/>
<rect x="589" y="55.23" width="103.8" height="44.38" fill="#eedbde"/>
<rect x="589" y="99.6" width="103.8" height="17.75" fill="#ecd5d8"/>
<rect x="589" y="117.35" width="103.8" height="71" fill="#eedbde"/>
<rect x="589" y="188.35" width="103.8" height="35.5" fill="#eeecef"/>
<rect x="589" y="223.85" width="103.8" height="17.75" fill="#f1e1e4"/>
<defs><linearGradient id="sN1" gradientUnits="userSpaceOnUse" x1="353.5" y1="0" x2="589" y2="0"><stop offset="0.0%" stop-color="#b4dada" stop-opacity="0.37"/><stop offset="0.4%" stop-color="#b4dada" stop-opacity="0.42"/><stop offset="0.9%" stop-color="#fff" stop-opacity="0.00"/><stop offset="1.3%" stop-color="#ecccd4" stop-opacity="0.32"/><stop offset="1.7%" stop-color="#ffffff" stop-opacity="0.25"/><stop offset="2.1%" stop-color="#b4dada" stop-opacity="0.29"/><stop offset="2.6%" stop-color="#fff" stop-opacity="0.00"/><stop offset="3.0%" stop-color="#ffffff" stop-opacity="0.42"/><stop offset="3.4%" stop-color="#ffffff" stop-opacity="0.37"/><stop offset="3.8%" stop-color="#fff" stop-opacity="0.00"/><stop offset="4.3%" stop-color="#ffffff" stop-opacity="0.08"/><stop offset="4.7%" stop-color="#ffffff" stop-opacity="0.16"/><stop offset="5.1%" stop-color="#78aaaa" stop-opacity="0.19"/><stop offset="5.5%" stop-color="#b4dada" stop-opacity="0.33"/><stop offset="6.0%" stop-color="#ecccd4" stop-opacity="0.34"/><stop offset="6.4%" stop-color="#78aaaa" stop-opacity="0.19"/><stop offset="6.8%" stop-color="#ffffff" stop-opacity="0.13"/><stop offset="7.2%" stop-color="#fff" stop-opacity="0.00"/><stop offset="7.7%" stop-color="#b4dada" stop-opacity="0.08"/><stop offset="8.1%" stop-color="#ffffff" stop-opacity="0.19"/><stop offset="8.5%" stop-color="#ffffff" stop-opacity="0.20"/><stop offset="8.9%" stop-color="#b4dada" stop-opacity="0.10"/><stop offset="9.4%" stop-color="#ffffff" stop-opacity="0.36"/><stop offset="9.8%" stop-color="#ffffff" stop-opacity="0.37"/><stop offset="10.2%" stop-color="#b4dada" stop-opacity="0.08"/><stop offset="10.6%" stop-color="#fff" stop-opacity="0.00"/><stop offset="11.1%" stop-color="#fff" stop-opacity="0.00"/><stop offset="11.5%" stop-color="#ffffff" stop-opacity="0.36"/><stop offset="11.9%" stop-color="#ecccd4" stop-opacity="0.21"/><stop offset="12.3%" stop-color="#ffffff" stop-opacity="0.37"/><stop offset="12.8%" stop-color="#fff" stop-opacity="0.00"/><stop offset="13.2%" stop-color="#b4dada" stop-opacity="0.40"/><stop offset="13.6%" stop-color="#fff" stop-opacity="0.00"/><stop offset="14.0%" stop-color="#ffffff" stop-opacity="0.21"/><stop offset="14.5%" stop-color="#ecccd4" stop-opacity="0.21"/><stop offset="14.9%" stop-color="#b4dada" stop-opacity="0.20"/><stop offset="15.3%" stop-color="#ffffff" stop-opacity="0.11"/><stop offset="15.7%" stop-color="#fff" stop-opacity="0.00"/><stop offset="16.2%" stop-color="#ecccd4" stop-opacity="0.14"/><stop offset="16.6%" stop-color="#fff" stop-opacity="0.00"/><stop offset="17.0%" stop-color="#b4dada" stop-opacity="0.23"/><stop offset="17.4%" stop-color="#b4dada" stop-opacity="0.39"/><stop offset="17.9%" stop-color="#ffffff" stop-opacity="0.10"/><stop offset="18.3%" stop-color="#ffffff" stop-opacity="0.26"/><stop offset="18.7%" stop-color="#ffffff" stop-opacity="0.35"/><stop offset="19.1%" stop-color="#b4dada" stop-opacity="0.37"/><stop offset="19.6%" stop-color="#fff" stop-opacity="0.00"/><stop offset="20.0%" stop-color="#ffffff" stop-opacity="0.39"/><stop offset="20.4%" stop-color="#ffffff" stop-opacity="0.45"/><stop offset="20.9%" stop-color="#ecccd4" stop-opacity="0.25"/><stop offset="21.3%" stop-color="#b4dada" stop-opacity="0.26"/><stop offset="21.7%" stop-color="#ffffff" stop-opacity="0.13"/><stop offset="22.1%" stop-color="#ecccd4" stop-opacity="0.44"/><stop offset="22.6%" stop-color="#ffffff" stop-opacity="0.21"/><stop offset="23.0%" stop-color="#fff" stop-opacity="0.00"/><stop offset="23.4%" stop-color="#b4dada" stop-opacity="0.40"/><stop offset="23.8%" stop-color="#b4dada" stop-opacity="0.37"/><stop offset="24.3%" stop-color="#b4dada" stop-opacity="0.36"/><stop offset="24.7%" stop-color="#b4dada" stop-opacity="0.18"/><stop offset="25.1%" stop-color="#b4dada" stop-opacity="0.34"/><stop offset="25.5%" stop-color="#ecccd4" stop-opacity="0.32"/><stop offset="26.0%" stop-color="#ffffff" stop-opacity="0.28"/><stop offset="26.4%" stop-color="#b4dada" stop-opacity="0.25"/><stop offset="26.8%" stop-color="#b4dada" stop-opacity="0.38"/><stop offset="27.2%" stop-color="#b4dada" stop-opacity="0.35"/><stop offset="27.7%" stop-color="#ffffff" stop-opacity="0.39"/><stop offset="28.1%" stop-color="#b4dada" stop-opacity="0.44"/><stop offset="28.5%" stop-color="#ffffff" stop-opacity="0.28"/><stop offset="28.9%" stop-color="#fff" stop-opacity="0.00"/><stop offset="29.4%" stop-color="#ecccd4" stop-opacity="0.26"/><stop offset="29.8%" stop-color="#b4dada" stop-opacity="0.35"/><stop offset="30.2%" stop-color="#fff" stop-opacity="0.00"/><stop offset="30.6%" stop-color="#b4dada" stop-opacity="0.33"/><stop offset="31.1%" stop-color="#b4dada" stop-opacity="0.37"/><stop offset="31.5%" stop-color="#b4dada" stop-opacity="0.09"/><stop offset="31.9%" stop-color="#fff" stop-opacity="0.00"/><stop offset="32.3%" stop-color="#b4dada" stop-opacity="0.16"/><stop offset="32.8%" stop-color="#b4dada" stop-opacity="0.10"/><stop offset="33.2%" stop-color="#ffffff" stop-opacity="0.10"/><stop offset="33.6%" stop-color="#fff" stop-opacity="0.00"/><stop offset="34.0%" stop-color="#ffffff" stop-opacity="0.15"/><stop offset="34.5%" stop-color="#fff" stop-opacity="0.00"/><stop offset="34.9%" stop-color="#ffffff" stop-opacity="0.31"/><stop offset="35.3%" stop-color="#ffffff" stop-opacity="0.41"/><stop offset="35.7%" stop-color="#fff" stop-opacity="0.00"/><stop offset="36.2%" stop-color="#ffffff" stop-opacity="0.23"/><stop offset="36.6%" stop-color="#fff" stop-opacity="0.00"/><stop offset="37.0%" stop-color="#ffffff" stop-opacity="0.09"/><stop offset="37.4%" stop-color="#ffffff" stop-opacity="0.28"/><stop offset="37.9%" stop-color="#b4dada" stop-opacity="0.43"/><stop offset="38.3%" stop-color="#ffffff" stop-opacity="0.38"/><stop offset="38.7%" stop-color="#ffffff" stop-opacity="0.13"/><stop offset="39.1%" stop-color="#b4dada" stop-opacity="0.43"/><stop offset="39.6%" stop-color="#b4dada" stop-opacity="0.21"/><stop offset="40.0%" stop-color="#ffffff" stop-opacity="0.12"/><stop offset="40.4%" stop-color="#b4dada" stop-opacity="0.13"/><stop offset="40.9%" stop-color="#78aaaa" stop-opacity="0.22"/><stop offset="41.3%" stop-color="#ffffff" stop-opacity="0.19"/><stop offset="41.7%" stop-color="#ffffff" stop-opacity="0.44"/><stop offset="42.1%" stop-color="#b4dada" stop-opacity="0.18"/><stop offset="42.6%" stop-color="#ffffff" stop-opacity="0.23"/><stop offset="43.0%" stop-color="#ecccd4" stop-opacity="0.26"/><stop offset="43.4%" stop-color="#ffffff" stop-opacity="0.13"/><stop offset="43.8%" stop-color="#ffffff" stop-opacity="0.19"/><stop offset="44.3%" stop-color="#b4dada" stop-opacity="0.08"/><stop offset="44.7%" stop-color="#ffffff" stop-opacity="0.43"/><stop offset="45.1%" stop-color="#ffffff" stop-opacity="0.18"/><stop offset="45.5%" stop-color="#fff" stop-opacity="0.00"/><stop offset="46.0%" stop-color="#ffffff" stop-opacity="0.30"/><stop offset="46.4%" stop-color="#b4dada" stop-opacity="0.30"/><stop offset="46.8%" stop-color="#ffffff" stop-opacity="0.36"/><stop offset="47.2%" stop-color="#b4dada" stop-opacity="0.20"/><stop offset="47.7%" stop-color="#b4dada" stop-opacity="0.25"/><stop offset="48.1%" stop-color="#b4dada" stop-opacity="0.30"/><stop offset="48.5%" stop-color="#fff" stop-opacity="0.00"/><stop offset="48.9%" stop-color="#ffffff" stop-opacity="0.42"/><stop offset="49.4%" stop-color="#b4dada" stop-opacity="0.09"/><stop offset="49.8%" stop-color="#ffffff" stop-opacity="0.29"/><stop offset="50.2%" stop-color="#b4dada" stop-opacity="0.26"/><stop offset="50.6%" stop-color="#ffffff" stop-opacity="0.22"/><stop offset="51.1%" stop-color="#ffffff" stop-opacity="0.19"/><stop offset="51.5%" stop-color="#ffffff" stop-opacity="0.39"/><stop offset="51.9%" stop-color="#ffffff" stop-opacity="0.19"/><stop offset="52.3%" stop-color="#ecccd4" stop-opacity="0.13"/><stop offset="52.8%" stop-color="#b4dada" stop-opacity="0.26"/><stop offset="53.2%" stop-color="#ffffff" stop-opacity="0.30"/><stop offset="53.6%" stop-color="#ffffff" stop-opacity="0.17"/><stop offset="54.0%" stop-color="#b4dada" stop-opacity="0.33"/><stop offset="54.5%" stop-color="#fff" stop-opacity="0.00"/><stop offset="54.9%" stop-color="#ecccd4" stop-opacity="0.45"/><stop offset="55.3%" stop-color="#ffffff" stop-opacity="0.39"/><stop offset="55.7%" stop-color="#b4dada" stop-opacity="0.43"/><stop offset="56.2%" stop-color="#ffffff" stop-opacity="0.19"/><stop offset="56.6%" stop-color="#ffffff" stop-opacity="0.31"/><stop offset="57.0%" stop-color="#ffffff" stop-opacity="0.31"/><stop offset="57.4%" stop-color="#fff" stop-opacity="0.00"/><stop offset="57.9%" stop-color="#fff" stop-opacity="0.00"/><stop offset="58.3%" stop-color="#ffffff" stop-opacity="0.10"/><stop offset="58.7%" stop-color="#b4dada" stop-opacity="0.41"/><stop offset="59.1%" stop-color="#fff" stop-opacity="0.00"/><stop offset="59.6%" stop-color="#ffffff" stop-opacity="0.30"/><stop offset="60.0%" stop-color="#ecccd4" stop-opacity="0.22"/><stop offset="60.4%" stop-color="#fff" stop-opacity="0.00"/><stop offset="60.9%" stop-color="#ffffff" stop-opacity="0.31"/><stop offset="61.3%" stop-color="#ecccd4" stop-opacity="0.29"/><stop offset="61.7%" stop-color="#ffffff" stop-opacity="0.28"/><stop offset="62.1%" stop-color="#b4dada" stop-opacity="0.27"/><stop offset="62.6%" stop-color="#fff" stop-opacity="0.00"/><stop offset="63.0%" stop-color="#ffffff" stop-opacity="0.35"/><stop offset="63.4%" stop-color="#fff" stop-opacity="0.00"/><stop offset="63.8%" stop-color="#b4dada" stop-opacity="0.11"/><stop offset="64.3%" stop-color="#ffffff" stop-opacity="0.13"/><stop offset="64.7%" stop-color="#ffffff" stop-opacity="0.40"/><stop offset="65.1%" stop-color="#ffffff" stop-opacity="0.37"/><stop offset="65.5%" stop-color="#fff" stop-opacity="0.00"/><stop offset="66.0%" stop-color="#ffffff" stop-opacity="0.14"/><stop offset="66.4%" stop-color="#b4dada" stop-opacity="0.16"/><stop offset="66.8%" stop-color="#fff" stop-opacity="0.00"/><stop offset="67.2%" stop-color="#b4dada" stop-opacity="0.38"/><stop offset="67.7%" stop-color="#fff" stop-opacity="0.00"/><stop offset="68.1%" stop-color="#ffffff" stop-opacity="0.17"/><stop offset="68.5%" stop-color="#b4dada" stop-opacity="0.21"/><stop offset="68.9%" stop-color="#ffffff" stop-opacity="0.39"/><stop offset="69.4%" stop-color="#b4dada" stop-opacity="0.24"/><stop offset="69.8%" stop-color="#ffffff" stop-opacity="0.30"/><stop offset="70.2%" stop-color="#b4dada" stop-opacity="0.23"/><stop offset="70.6%" stop-color="#fff" stop-opacity="0.00"/><stop offset="71.1%" stop-color="#fff" stop-opacity="0.00"/><stop offset="71.5%" stop-color="#ffffff" stop-opacity="0.41"/><stop offset="71.9%" stop-color="#b4dada" stop-opacity="0.08"/><stop offset="72.3%" stop-color="#78aaaa" stop-opacity="0.31"/><stop offset="72.8%" stop-color="#ffffff" stop-opacity="0.12"/><stop offset="73.2%" stop-color="#fff" stop-opacity="0.00"/><stop offset="73.6%" stop-color="#fff" stop-opacity="0.00"/><stop offset="74.0%" stop-color="#ffffff" stop-opacity="0.41"/><stop offset="74.5%" stop-color="#fff" stop-opacity="0.00"/><stop offset="74.9%" stop-color="#ffffff" stop-opacity="0.14"/><stop offset="75.3%" stop-color="#ffffff" stop-opacity="0.26"/><stop offset="75.7%" stop-color="#fff" stop-opacity="0.00"/><stop offset="76.2%" stop-color="#ffffff" stop-opacity="0.43"/><stop offset="76.6%" stop-color="#b4dada" stop-opacity="0.25"/><stop offset="77.0%" stop-color="#ffffff" stop-opacity="0.33"/><stop offset="77.4%" stop-color="#b4dada" stop-opacity="0.35"/><stop offset="77.9%" stop-color="#fff" stop-opacity="0.00"/><stop offset="78.3%" stop-color="#ffffff" stop-opacity="0.17"/><stop offset="78.7%" stop-color="#fff" stop-opacity="0.00"/><stop offset="79.1%" stop-color="#ecccd4" stop-opacity="0.21"/><stop offset="79.6%" stop-color="#ffffff" stop-opacity="0.18"/><stop offset="80.0%" stop-color="#b4dada" stop-opacity="0.14"/><stop offset="80.4%" stop-color="#b4dada" stop-opacity="0.43"/><stop offset="80.9%" stop-color="#ffffff" stop-opacity="0.44"/><stop offset="81.3%" stop-color="#fff" stop-opacity="0.00"/><stop offset="81.7%" stop-color="#fff" stop-opacity="0.00"/><stop offset="82.1%" stop-color="#ffffff" stop-opacity="0.10"/><stop offset="82.6%" stop-color="#ecccd4" stop-opacity="0.27"/><stop offset="83.0%" stop-color="#ffffff" stop-opacity="0.11"/><stop offset="83.4%" stop-color="#ffffff" stop-opacity="0.43"/><stop offset="83.8%" stop-color="#fff" stop-opacity="0.00"/><stop offset="84.3%" stop-color="#ffffff" stop-opacity="0.23"/><stop offset="84.7%" stop-color="#fff" stop-opacity="0.00"/><stop offset="85.1%" stop-color="#ffffff" stop-opacity="0.19"/><stop offset="85.5%" stop-color="#fff" stop-opacity="0.00"/><stop offset="86.0%" stop-color="#fff" stop-opacity="0.00"/><stop offset="86.4%" stop-color="#ffffff" stop-opacity="0.27"/><stop offset="86.8%" stop-color="#b4dada" stop-opacity="0.11"/><stop offset="87.2%" stop-color="#ffffff" stop-opacity="0.28"/><stop offset="87.7%" stop-color="#b4dada" stop-opacity="0.40"/><stop offset="88.1%" stop-color="#ffffff" stop-opacity="0.28"/><stop offset="88.5%" stop-color="#b4dada" stop-opacity="0.22"/><stop offset="88.9%" stop-color="#b4dada" stop-opacity="0.42"/><stop offset="89.4%" stop-color="#ffffff" stop-opacity="0.39"/><stop offset="89.8%" stop-color="#ffffff" stop-opacity="0.20"/><stop offset="90.2%" stop-color="#fff" stop-opacity="0.00"/><stop offset="90.6%" stop-color="#b4dada" stop-opacity="0.20"/><stop offset="91.1%" stop-color="#fff" stop-opacity="0.00"/><stop offset="91.5%" stop-color="#fff" stop-opacity="0.00"/><stop offset="91.9%" stop-color="#ffffff" stop-opacity="0.24"/><stop offset="92.3%" stop-color="#ffffff" stop-opacity="0.10"/><stop offset="92.8%" stop-color="#ffffff" stop-opacity="0.15"/><stop offset="93.2%" stop-color="#ffffff" stop-opacity="0.12"/><stop offset="93.6%" stop-color="#ffffff" stop-opacity="0.36"/><stop offset="94.0%" stop-color="#ecccd4" stop-opacity="0.32"/><stop offset="94.5%" stop-color="#b4dada" stop-opacity="0.24"/><stop offset="94.9%" stop-color="#b4dada" stop-opacity="0.43"/><stop offset="95.3%" stop-color="#b4dada" stop-opacity="0.18"/><stop offset="95.7%" stop-color="#ffffff" stop-opacity="0.13"/><stop offset="96.2%" stop-color="#fff" stop-opacity="0.00"/><stop offset="96.6%" stop-color="#fff" stop-opacity="0.00"/><stop offset="97.0%" stop-color="#b4dada" stop-opacity="0.19"/><stop offset="97.4%" stop-color="#fff" stop-opacity="0.00"/><stop offset="97.9%" stop-color="#b4dada" stop-opacity="0.09"/><stop offset="98.3%" stop-color="#fff" stop-opacity="0.00"/><stop offset="98.7%" stop-color="#fff" stop-opacity="0.00"/><stop offset="99.1%" stop-color="#78aaaa" stop-opacity="0.43"/><stop offset="99.6%" stop-color="#ffffff" stop-opacity="0.24"/><stop offset="100.0%" stop-color="#ffffff" stop-opacity="0.08"/></linearGradient></defs>
<defs><linearGradient id="sN2" gradientUnits="userSpaceOnUse" x1="353.5" y1="0" x2="589" y2="0" spreadMethod="repeat"><stop offset="0.0%" stop-color="#e4c4cc" stop-opacity="0.19"/><stop offset="0.6%" stop-color="#fff" stop-opacity="0.00"/><stop offset="1.1%" stop-color="#ffffff" stop-opacity="0.19"/><stop offset="1.7%" stop-color="#e4c4cc" stop-opacity="0.21"/><stop offset="2.2%" stop-color="#fff" stop-opacity="0.00"/><stop offset="2.8%" stop-color="#e4c4cc" stop-opacity="0.14"/><stop offset="3.3%" stop-color="#ffffff" stop-opacity="0.20"/><stop offset="3.9%" stop-color="#ffffff" stop-opacity="0.24"/><stop offset="4.4%" stop-color="#ffffff" stop-opacity="0.21"/><stop offset="5.0%" stop-color="#ffffff" stop-opacity="0.25"/><stop offset="5.5%" stop-color="#fff" stop-opacity="0.00"/><stop offset="6.1%" stop-color="#ffffff" stop-opacity="0.23"/><stop offset="6.6%" stop-color="#ffffff" stop-opacity="0.10"/><stop offset="7.2%" stop-color="#b4dada" stop-opacity="0.11"/><stop offset="7.7%" stop-color="#ffffff" stop-opacity="0.11"/><stop offset="8.3%" stop-color="#e4c4cc" stop-opacity="0.22"/><stop offset="8.8%" stop-color="#b4dada" stop-opacity="0.12"/><stop offset="9.4%" stop-color="#fff" stop-opacity="0.00"/><stop offset="9.9%" stop-color="#ffffff" stop-opacity="0.05"/><stop offset="10.5%" stop-color="#fff" stop-opacity="0.00"/><stop offset="11.0%" stop-color="#fff" stop-opacity="0.00"/><stop offset="11.6%" stop-color="#e4c4cc" stop-opacity="0.08"/><stop offset="12.2%" stop-color="#ffffff" stop-opacity="0.18"/><stop offset="12.7%" stop-color="#b4dada" stop-opacity="0.21"/><stop offset="13.3%" stop-color="#ffffff" stop-opacity="0.15"/><stop offset="13.8%" stop-color="#ffffff" stop-opacity="0.12"/><stop offset="14.4%" stop-color="#ffffff" stop-opacity="0.11"/><stop offset="14.9%" stop-color="#ffffff" stop-opacity="0.19"/><stop offset="15.5%" stop-color="#e4c4cc" stop-opacity="0.21"/><stop offset="16.0%" stop-color="#b4dada" stop-opacity="0.18"/><stop offset="16.6%" stop-color="#b4dada" stop-opacity="0.12"/><stop offset="17.1%" stop-color="#b4dada" stop-opacity="0.15"/><stop offset="17.7%" stop-color="#ffffff" stop-opacity="0.06"/><stop offset="18.2%" stop-color="#b4dada" stop-opacity="0.20"/><stop offset="18.8%" stop-color="#ffffff" stop-opacity="0.24"/><stop offset="19.3%" stop-color="#b4dada" stop-opacity="0.06"/><stop offset="19.9%" stop-color="#b4dada" stop-opacity="0.24"/><stop offset="20.4%" stop-color="#b4dada" stop-opacity="0.22"/><stop offset="21.0%" stop-color="#b4dada" stop-opacity="0.08"/><stop offset="21.5%" stop-color="#e4c4cc" stop-opacity="0.09"/><stop offset="22.1%" stop-color="#b4dada" stop-opacity="0.12"/><stop offset="22.7%" stop-color="#fff" stop-opacity="0.00"/><stop offset="23.2%" stop-color="#ffffff" stop-opacity="0.18"/><stop offset="23.8%" stop-color="#e4c4cc" stop-opacity="0.17"/><stop offset="24.3%" stop-color="#ffffff" stop-opacity="0.18"/><stop offset="24.9%" stop-color="#b4dada" stop-opacity="0.12"/><stop offset="25.4%" stop-color="#ffffff" stop-opacity="0.10"/><stop offset="26.0%" stop-color="#b4dada" stop-opacity="0.23"/><stop offset="26.5%" stop-color="#fff" stop-opacity="0.00"/><stop offset="27.1%" stop-color="#b4dada" stop-opacity="0.09"/><stop offset="27.6%" stop-color="#fff" stop-opacity="0.00"/><stop offset="28.2%" stop-color="#e4c4cc" stop-opacity="0.22"/><stop offset="28.7%" stop-color="#ffffff" stop-opacity="0.13"/><stop offset="29.3%" stop-color="#e4c4cc" stop-opacity="0.10"/><stop offset="29.8%" stop-color="#b4dada" stop-opacity="0.24"/><stop offset="30.4%" stop-color="#fff" stop-opacity="0.00"/><stop offset="30.9%" stop-color="#fff" stop-opacity="0.00"/><stop offset="31.5%" stop-color="#fff" stop-opacity="0.00"/><stop offset="32.0%" stop-color="#b4dada" stop-opacity="0.08"/><stop offset="32.6%" stop-color="#fff" stop-opacity="0.00"/><stop offset="33.1%" stop-color="#b4dada" stop-opacity="0.18"/><stop offset="33.7%" stop-color="#ffffff" stop-opacity="0.14"/><stop offset="34.3%" stop-color="#e4c4cc" stop-opacity="0.11"/><stop offset="34.8%" stop-color="#b4dada" stop-opacity="0.23"/><stop offset="35.4%" stop-color="#b4dada" stop-opacity="0.22"/><stop offset="35.9%" stop-color="#ffffff" stop-opacity="0.08"/><stop offset="36.5%" stop-color="#fff" stop-opacity="0.00"/><stop offset="37.0%" stop-color="#fff" stop-opacity="0.00"/><stop offset="37.6%" stop-color="#fff" stop-opacity="0.00"/><stop offset="38.1%" stop-color="#ffffff" stop-opacity="0.20"/><stop offset="38.7%" stop-color="#e4c4cc" stop-opacity="0.21"/><stop offset="39.2%" stop-color="#e4c4cc" stop-opacity="0.24"/><stop offset="39.8%" stop-color="#e4c4cc" stop-opacity="0.06"/><stop offset="40.3%" stop-color="#fff" stop-opacity="0.00"/><stop offset="40.9%" stop-color="#fff" stop-opacity="0.00"/><stop offset="41.4%" stop-color="#ffffff" stop-opacity="0.14"/><stop offset="42.0%" stop-color="#b4dada" stop-opacity="0.06"/><stop offset="42.5%" stop-color="#b4dada" stop-opacity="0.12"/><stop offset="43.1%" stop-color="#fff" stop-opacity="0.00"/><stop offset="43.6%" stop-color="#ffffff" stop-opacity="0.18"/><stop offset="44.2%" stop-color="#e4c4cc" stop-opacity="0.24"/><stop offset="44.8%" stop-color="#fff" stop-opacity="0.00"/><stop offset="45.3%" stop-color="#b4dada" stop-opacity="0.10"/><stop offset="45.9%" stop-color="#fff" stop-opacity="0.00"/><stop offset="46.4%" stop-color="#ffffff" stop-opacity="0.19"/><stop offset="47.0%" stop-color="#ffffff" stop-opacity="0.10"/><stop offset="47.5%" stop-color="#b4dada" stop-opacity="0.21"/><stop offset="48.1%" stop-color="#ffffff" stop-opacity="0.11"/><stop offset="48.6%" stop-color="#ffffff" stop-opacity="0.05"/><stop offset="49.2%" stop-color="#ffffff" stop-opacity="0.18"/><stop offset="49.7%" stop-color="#fff" stop-opacity="0.00"/><stop offset="50.3%" stop-color="#ffffff" stop-opacity="0.14"/><stop offset="50.8%" stop-color="#b4dada" stop-opacity="0.12"/><stop offset="51.4%" stop-color="#ffffff" stop-opacity="0.11"/><stop offset="51.9%" stop-color="#ffffff" stop-opacity="0.20"/><stop offset="52.5%" stop-color="#ffffff" stop-opacity="0.09"/><stop offset="53.0%" stop-color="#ffffff" stop-opacity="0.15"/><stop offset="53.6%" stop-color="#fff" stop-opacity="0.00"/><stop offset="54.1%" stop-color="#e4c4cc" stop-opacity="0.13"/><stop offset="54.7%" stop-color="#ffffff" stop-opacity="0.10"/><stop offset="55.2%" stop-color="#b4dada" stop-opacity="0.15"/><stop offset="55.8%" stop-color="#fff" stop-opacity="0.00"/><stop offset="56.4%" stop-color="#b4dada" stop-opacity="0.13"/><stop offset="56.9%" stop-color="#e4c4cc" stop-opacity="0.18"/><stop offset="57.5%" stop-color="#ffffff" stop-opacity="0.05"/><stop offset="58.0%" stop-color="#ffffff" stop-opacity="0.22"/><stop offset="58.6%" stop-color="#e4c4cc" stop-opacity="0.12"/><stop offset="59.1%" stop-color="#b4dada" stop-opacity="0.23"/><stop offset="59.7%" stop-color="#fff" stop-opacity="0.00"/><stop offset="60.2%" stop-color="#ffffff" stop-opacity="0.24"/><stop offset="60.8%" stop-color="#ffffff" stop-opacity="0.13"/><stop offset="61.3%" stop-color="#ffffff" stop-opacity="0.10"/><stop offset="61.9%" stop-color="#ffffff" stop-opacity="0.08"/><stop offset="62.4%" stop-color="#ffffff" stop-opacity="0.12"/><stop offset="63.0%" stop-color="#e4c4cc" stop-opacity="0.08"/><stop offset="63.5%" stop-color="#fff" stop-opacity="0.00"/><stop offset="64.1%" stop-color="#e4c4cc" stop-opacity="0.17"/><stop offset="64.6%" stop-color="#fff" stop-opacity="0.00"/><stop offset="65.2%" stop-color="#e4c4cc" stop-opacity="0.24"/><stop offset="65.7%" stop-color="#fff" stop-opacity="0.00"/><stop offset="66.3%" stop-color="#fff" stop-opacity="0.00"/><stop offset="66.9%" stop-color="#ffffff" stop-opacity="0.20"/><stop offset="67.4%" stop-color="#b4dada" stop-opacity="0.07"/><stop offset="68.0%" stop-color="#e4c4cc" stop-opacity="0.19"/><stop offset="68.5%" stop-color="#fff" stop-opacity="0.00"/><stop offset="69.1%" stop-color="#fff" stop-opacity="0.00"/><stop offset="69.6%" stop-color="#ffffff" stop-opacity="0.12"/><stop offset="70.2%" stop-color="#b4dada" stop-opacity="0.24"/><stop offset="70.7%" stop-color="#b4dada" stop-opacity="0.10"/><stop offset="71.3%" stop-color="#b4dada" stop-opacity="0.07"/><stop offset="71.8%" stop-color="#b4dada" stop-opacity="0.04"/><stop offset="72.4%" stop-color="#ffffff" stop-opacity="0.15"/><stop offset="72.9%" stop-color="#b4dada" stop-opacity="0.05"/><stop offset="73.5%" stop-color="#ffffff" stop-opacity="0.12"/><stop offset="74.0%" stop-color="#ffffff" stop-opacity="0.10"/><stop offset="74.6%" stop-color="#b4dada" stop-opacity="0.23"/><stop offset="75.1%" stop-color="#ffffff" stop-opacity="0.19"/><stop offset="75.7%" stop-color="#e4c4cc" stop-opacity="0.25"/><stop offset="76.2%" stop-color="#ffffff" stop-opacity="0.24"/><stop offset="76.8%" stop-color="#fff" stop-opacity="0.00"/><stop offset="77.3%" stop-color="#b4dada" stop-opacity="0.15"/><stop offset="77.9%" stop-color="#e4c4cc" stop-opacity="0.10"/><stop offset="78.5%" stop-color="#e4c4cc" stop-opacity="0.07"/><stop offset="79.0%" stop-color="#ffffff" stop-opacity="0.16"/><stop offset="79.6%" stop-color="#ffffff" stop-opacity="0.05"/><stop offset="80.1%" stop-color="#fff" stop-opacity="0.00"/><stop offset="80.7%" stop-color="#ffffff" stop-opacity="0.24"/><stop offset="81.2%" stop-color="#ffffff" stop-opacity="0.20"/><stop offset="81.8%" stop-color="#ffffff" stop-opacity="0.21"/><stop offset="82.3%" stop-color="#ffffff" stop-opacity="0.17"/><stop offset="82.9%" stop-color="#ffffff" stop-opacity="0.22"/><stop offset="83.4%" stop-color="#e4c4cc" stop-opacity="0.08"/><stop offset="84.0%" stop-color="#fff" stop-opacity="0.00"/><stop offset="84.5%" stop-color="#fff" stop-opacity="0.00"/><stop offset="85.1%" stop-color="#b4dada" stop-opacity="0.04"/><stop offset="85.6%" stop-color="#fff" stop-opacity="0.00"/><stop offset="86.2%" stop-color="#ffffff" stop-opacity="0.22"/><stop offset="86.7%" stop-color="#fff" stop-opacity="0.00"/><stop offset="87.3%" stop-color="#ffffff" stop-opacity="0.19"/><stop offset="87.8%" stop-color="#b4dada" stop-opacity="0.09"/><stop offset="88.4%" stop-color="#ffffff" stop-opacity="0.05"/><stop offset="89.0%" stop-color="#ffffff" stop-opacity="0.05"/><stop offset="89.5%" stop-color="#b4dada" stop-opacity="0.23"/><stop offset="90.1%" stop-color="#ffffff" stop-opacity="0.18"/><stop offset="90.6%" stop-color="#ffffff" stop-opacity="0.20"/><stop offset="91.2%" stop-color="#ffffff" stop-opacity="0.04"/><stop offset="91.7%" stop-color="#ffffff" stop-opacity="0.23"/><stop offset="92.3%" stop-color="#ffffff" stop-opacity="0.09"/><stop offset="92.8%" stop-color="#e4c4cc" stop-opacity="0.08"/><stop offset="93.4%" stop-color="#fff" stop-opacity="0.00"/><stop offset="93.9%" stop-color="#ffffff" stop-opacity="0.13"/><stop offset="94.5%" stop-color="#b4dada" stop-opacity="0.08"/><stop offset="95.0%" stop-color="#fff" stop-opacity="0.00"/><stop offset="95.6%" stop-color="#b4dada" stop-opacity="0.13"/><stop offset="96.1%" stop-color="#e4c4cc" stop-opacity="0.07"/><stop offset="96.7%" stop-color="#ffffff" stop-opacity="0.15"/><stop offset="97.2%" stop-color="#b4dada" stop-opacity="0.18"/><stop offset="97.8%" stop-color="#b4dada" stop-opacity="0.22"/><stop offset="98.3%" stop-color="#ffffff" stop-opacity="0.09"/><stop offset="98.9%" stop-color="#e4c4cc" stop-opacity="0.10"/><stop offset="99.4%" stop-color="#b4dada" stop-opacity="0.24"/><stop offset="100.0%" stop-color="#fff" stop-opacity="0.00"/></linearGradient></defs>
<defs><linearGradient id="sT1" gradientUnits="userSpaceOnUse" x1="589" y1="0" x2="692.8" y2="0"><stop offset="0.0%" stop-color="#ffffff" stop-opacity="0.12"/><stop offset="1.0%" stop-color="#f4e4e6" stop-opacity="0.28"/><stop offset="1.9%" stop-color="#fff" stop-opacity="0.00"/><stop offset="2.9%" stop-color="#dcb0b6" stop-opacity="0.30"/><stop offset="3.9%" stop-color="#ffffff" stop-opacity="0.22"/><stop offset="4.9%" stop-color="#ffffff" stop-opacity="0.10"/><stop offset="5.8%" stop-color="#dcb0b6" stop-opacity="0.38"/><stop offset="6.8%" stop-color="#fff" stop-opacity="0.00"/><stop offset="7.8%" stop-color="#ffffff" stop-opacity="0.40"/><stop offset="8.7%" stop-color="#f4e4e6" stop-opacity="0.25"/><stop offset="9.7%" stop-color="#fff" stop-opacity="0.00"/><stop offset="10.7%" stop-color="#ffffff" stop-opacity="0.09"/><stop offset="11.7%" stop-color="#ffffff" stop-opacity="0.12"/><stop offset="12.6%" stop-color="#f4e4e6" stop-opacity="0.40"/><stop offset="13.6%" stop-color="#ffffff" stop-opacity="0.34"/><stop offset="14.6%" stop-color="#fff" stop-opacity="0.00"/><stop offset="15.5%" stop-color="#ffffff" stop-opacity="0.42"/><stop offset="16.5%" stop-color="#dcb0b6" stop-opacity="0.17"/><stop offset="17.5%" stop-color="#f4e4e6" stop-opacity="0.23"/><stop offset="18.4%" stop-color="#dcb0b6" stop-opacity="0.39"/><stop offset="19.4%" stop-color="#dcb0b6" stop-opacity="0.39"/><stop offset="20.4%" stop-color="#f4e4e6" stop-opacity="0.26"/><stop offset="21.4%" stop-color="#fff" stop-opacity="0.00"/><stop offset="22.3%" stop-color="#fff" stop-opacity="0.00"/><stop offset="23.3%" stop-color="#dcb0b6" stop-opacity="0.23"/><stop offset="24.3%" stop-color="#dcb0b6" stop-opacity="0.25"/><stop offset="25.2%" stop-color="#c89098" stop-opacity="0.17"/><stop offset="26.2%" stop-color="#c89098" stop-opacity="0.29"/><stop offset="27.2%" stop-color="#fff" stop-opacity="0.00"/><stop offset="28.2%" stop-color="#dcb0b6" stop-opacity="0.33"/><stop offset="29.1%" stop-color="#fff" stop-opacity="0.00"/><stop offset="30.1%" stop-color="#ffffff" stop-opacity="0.14"/><stop offset="31.1%" stop-color="#fff" stop-opacity="0.00"/><stop offset="32.0%" stop-color="#dcb0b6" stop-opacity="0.37"/><stop offset="33.0%" stop-color="#fff" stop-opacity="0.00"/><stop offset="34.0%" stop-color="#ffffff" stop-opacity="0.28"/><stop offset="35.0%" stop-color="#ffffff" stop-opacity="0.10"/><stop offset="35.9%" stop-color="#ffffff" stop-opacity="0.34"/><stop offset="36.9%" stop-color="#dcb0b6" stop-opacity="0.30"/><stop offset="37.9%" stop-color="#f4e4e6" stop-opacity="0.39"/><stop offset="38.8%" stop-color="#ffffff" stop-opacity="0.38"/><stop offset="39.8%" stop-color="#fff" stop-opacity="0.00"/><stop offset="40.8%" stop-color="#dcb0b6" stop-opacity="0.41"/><stop offset="41.7%" stop-color="#fff" stop-opacity="0.00"/><stop offset="42.7%" stop-color="#c89098" stop-opacity="0.33"/><stop offset="43.7%" stop-color="#fff" stop-opacity="0.00"/><stop offset="44.7%" stop-color="#ffffff" stop-opacity="0.37"/><stop offset="45.6%" stop-color="#dcb0b6" stop-opacity="0.36"/><stop offset="46.6%" stop-color="#ffffff" stop-opacity="0.33"/><stop offset="47.6%" stop-color="#dcb0b6" stop-opacity="0.29"/><stop offset="48.5%" stop-color="#ffffff" stop-opacity="0.25"/><stop offset="49.5%" stop-color="#fff" stop-opacity="0.00"/><stop offset="50.5%" stop-color="#f4e4e6" stop-opacity="0.36"/><stop offset="51.5%" stop-color="#fff" stop-opacity="0.00"/><stop offset="52.4%" stop-color="#dcb0b6" stop-opacity="0.12"/><stop offset="53.4%" stop-color="#f4e4e6" stop-opacity="0.37"/><stop offset="54.4%" stop-color="#f4e4e6" stop-opacity="0.30"/><stop offset="55.3%" stop-color="#dcb0b6" stop-opacity="0.16"/><stop offset="56.3%" stop-color="#ffffff" stop-opacity="0.30"/><stop offset="57.3%" stop-color="#c89098" stop-opacity="0.25"/><stop offset="58.3%" stop-color="#ffffff" stop-opacity="0.33"/><stop offset="59.2%" stop-color="#dcb0b6" stop-opacity="0.34"/><stop offset="60.2%" stop-color="#dcb0b6" stop-opacity="0.10"/><stop offset="61.2%" stop-color="#f4e4e6" stop-opacity="0.13"/><stop offset="62.1%" stop-color="#fff" stop-opacity="0.00"/><stop offset="63.1%" stop-color="#fff" stop-opacity="0.00"/><stop offset="64.1%" stop-color="#ffffff" stop-opacity="0.24"/><stop offset="65.0%" stop-color="#f4e4e6" stop-opacity="0.24"/><stop offset="66.0%" stop-color="#ffffff" stop-opacity="0.35"/><stop offset="67.0%" stop-color="#dcb0b6" stop-opacity="0.36"/><stop offset="68.0%" stop-color="#dcb0b6" stop-opacity="0.37"/><stop offset="68.9%" stop-color="#ffffff" stop-opacity="0.38"/><stop offset="69.9%" stop-color="#ffffff" stop-opacity="0.10"/><stop offset="70.9%" stop-color="#ffffff" stop-opacity="0.21"/><stop offset="71.8%" stop-color="#fff" stop-opacity="0.00"/><stop offset="72.8%" stop-color="#ffffff" stop-opacity="0.23"/><stop offset="73.8%" stop-color="#c89098" stop-opacity="0.21"/><stop offset="74.8%" stop-color="#fff" stop-opacity="0.00"/><stop offset="75.7%" stop-color="#f4e4e6" stop-opacity="0.31"/><stop offset="76.7%" stop-color="#dcb0b6" stop-opacity="0.23"/><stop offset="77.7%" stop-color="#ffffff" stop-opacity="0.23"/><stop offset="78.6%" stop-color="#dcb0b6" stop-opacity="0.37"/><stop offset="79.6%" stop-color="#f4e4e6" stop-opacity="0.38"/><stop offset="80.6%" stop-color="#f4e4e6" stop-opacity="0.22"/><stop offset="81.6%" stop-color="#dcb0b6" stop-opacity="0.38"/><stop offset="82.5%" stop-color="#dcb0b6" stop-opacity="0.14"/><stop offset="83.5%" stop-color="#ffffff" stop-opacity="0.31"/><stop offset="84.5%" stop-color="#ffffff" stop-opacity="0.26"/><stop offset="85.4%" stop-color="#dcb0b6" stop-opacity="0.11"/><stop offset="86.4%" stop-color="#dcb0b6" stop-opacity="0.13"/><stop offset="87.4%" stop-color="#ffffff" stop-opacity="0.13"/><stop offset="88.3%" stop-color="#ffffff" stop-opacity="0.08"/><stop offset="89.3%" stop-color="#f4e4e6" stop-opacity="0.36"/><stop offset="90.3%" stop-color="#f4e4e6" stop-opacity="0.11"/><stop offset="91.3%" stop-color="#fff" stop-opacity="0.00"/><stop offset="92.2%" stop-color="#fff" stop-opacity="0.00"/><stop offset="93.2%" stop-color="#fff" stop-opacity="0.00"/><stop offset="94.2%" stop-color="#c89098" stop-opacity="0.24"/><stop offset="95.1%" stop-color="#dcb0b6" stop-opacity="0.39"/><stop offset="96.1%" stop-color="#dcb0b6" stop-opacity="0.14"/><stop offset="97.1%" stop-color="#dcb0b6" stop-opacity="0.36"/><stop offset="98.1%" stop-color="#ffffff" stop-opacity="0.36"/><stop offset="99.0%" stop-color="#fff" stop-opacity="0.00"/><stop offset="100.0%" stop-color="#ffffff" stop-opacity="0.31"/></linearGradient></defs>
<defs><linearGradient id="sT2" gradientUnits="userSpaceOnUse" x1="589" y1="0" x2="692.8" y2="0" spreadMethod="repeat"><stop offset="0.0%" stop-color="#ffffff" stop-opacity="0.23"/><stop offset="1.3%" stop-color="#ffffff" stop-opacity="0.26"/><stop offset="2.5%" stop-color="#ffffff" stop-opacity="0.22"/><stop offset="3.8%" stop-color="#fff" stop-opacity="0.00"/><stop offset="5.1%" stop-color="#ffffff" stop-opacity="0.21"/><stop offset="6.3%" stop-color="#d8b0b6" stop-opacity="0.06"/><stop offset="7.6%" stop-color="#ffffff" stop-opacity="0.16"/><stop offset="8.9%" stop-color="#fff" stop-opacity="0.00"/><stop offset="10.1%" stop-color="#ffffff" stop-opacity="0.07"/><stop offset="11.4%" stop-color="#ffffff" stop-opacity="0.12"/><stop offset="12.7%" stop-color="#fff" stop-opacity="0.00"/><stop offset="13.9%" stop-color="#c0d4d4" stop-opacity="0.12"/><stop offset="15.2%" stop-color="#fff" stop-opacity="0.00"/><stop offset="16.5%" stop-color="#c0d4d4" stop-opacity="0.07"/><stop offset="17.7%" stop-color="#ffffff" stop-opacity="0.22"/><stop offset="19.0%" stop-color="#ffffff" stop-opacity="0.27"/><stop offset="20.3%" stop-color="#d8b0b6" stop-opacity="0.16"/><stop offset="21.5%" stop-color="#ffffff" stop-opacity="0.11"/><stop offset="22.8%" stop-color="#ffffff" stop-opacity="0.26"/><stop offset="24.1%" stop-color="#ffffff" stop-opacity="0.18"/><stop offset="25.3%" stop-color="#d8b0b6" stop-opacity="0.16"/><stop offset="26.6%" stop-color="#d8b0b6" stop-opacity="0.15"/><stop offset="27.8%" stop-color="#ffffff" stop-opacity="0.16"/><stop offset="29.1%" stop-color="#ffffff" stop-opacity="0.14"/><stop offset="30.4%" stop-color="#d8b0b6" stop-opacity="0.09"/><stop offset="31.6%" stop-color="#d8b0b6" stop-opacity="0.06"/><stop offset="32.9%" stop-color="#fff" stop-opacity="0.00"/><stop offset="34.2%" stop-color="#c0d4d4" stop-opacity="0.07"/><stop offset="35.4%" stop-color="#fff" stop-opacity="0.00"/><stop offset="36.7%" stop-color="#ffffff" stop-opacity="0.21"/><stop offset="38.0%" stop-color="#fff" stop-opacity="0.00"/><stop offset="39.2%" stop-color="#ffffff" stop-opacity="0.13"/><stop offset="40.5%" stop-color="#d8b0b6" stop-opacity="0.26"/><stop offset="41.8%" stop-color="#d8b0b6" stop-opacity="0.26"/><stop offset="43.0%" stop-color="#fff" stop-opacity="0.00"/><stop offset="44.3%" stop-color="#ffffff" stop-opacity="0.21"/><stop offset="45.6%" stop-color="#fff" stop-opacity="0.00"/><stop offset="46.8%" stop-color="#ffffff" stop-opacity="0.25"/><stop offset="48.1%" stop-color="#c0d4d4" stop-opacity="0.15"/><stop offset="49.4%" stop-color="#c0d4d4" stop-opacity="0.08"/><stop offset="50.6%" stop-color="#d8b0b6" stop-opacity="0.16"/><stop offset="51.9%" stop-color="#ffffff" stop-opacity="0.15"/><stop offset="53.2%" stop-color="#ffffff" stop-opacity="0.11"/><stop offset="54.4%" stop-color="#ffffff" stop-opacity="0.20"/><stop offset="55.7%" stop-color="#ffffff" stop-opacity="0.06"/><stop offset="57.0%" stop-color="#d8b0b6" stop-opacity="0.11"/><stop offset="58.2%" stop-color="#d8b0b6" stop-opacity="0.18"/><stop offset="59.5%" stop-color="#d8b0b6" stop-opacity="0.13"/><stop offset="60.8%" stop-color="#d8b0b6" stop-opacity="0.09"/><stop offset="62.0%" stop-color="#ffffff" stop-opacity="0.17"/><stop offset="63.3%" stop-color="#d8b0b6" stop-opacity="0.06"/><stop offset="64.6%" stop-color="#c0d4d4" stop-opacity="0.25"/><stop offset="65.8%" stop-color="#ffffff" stop-opacity="0.06"/><stop offset="67.1%" stop-color="#fff" stop-opacity="0.00"/><stop offset="68.4%" stop-color="#fff" stop-opacity="0.00"/><stop offset="69.6%" stop-color="#ffffff" stop-opacity="0.11"/><stop offset="70.9%" stop-color="#fff" stop-opacity="0.00"/><stop offset="72.2%" stop-color="#fff" stop-opacity="0.00"/><stop offset="73.4%" stop-color="#d8b0b6" stop-opacity="0.28"/><stop offset="74.7%" stop-color="#d8b0b6" stop-opacity="0.11"/><stop offset="75.9%" stop-color="#fff" stop-opacity="0.00"/><stop offset="77.2%" stop-color="#ffffff" stop-opacity="0.09"/><stop offset="78.5%" stop-color="#ffffff" stop-opacity="0.05"/><stop offset="79.7%" stop-color="#c0d4d4" stop-opacity="0.26"/><stop offset="81.0%" stop-color="#d8b0b6" stop-opacity="0.28"/><stop offset="82.3%" stop-color="#ffffff" stop-opacity="0.19"/><stop offset="83.5%" stop-color="#ffffff" stop-opacity="0.11"/><stop offset="84.8%" stop-color="#ffffff" stop-opacity="0.07"/><stop offset="86.1%" stop-color="#ffffff" stop-opacity="0.29"/><stop offset="87.3%" stop-color="#c0d4d4" stop-opacity="0.24"/><stop offset="88.6%" stop-color="#ffffff" stop-opacity="0.15"/><stop offset="89.9%" stop-color="#d8b0b6" stop-opacity="0.26"/><stop offset="91.1%" stop-color="#ffffff" stop-opacity="0.09"/><stop offset="92.4%" stop-color="#fff" stop-opacity="0.00"/><stop offset="93.7%" stop-color="#ffffff" stop-opacity="0.05"/><stop offset="94.9%" stop-color="#ffffff" stop-opacity="0.10"/><stop offset="96.2%" stop-color="#d8b0b6" stop-opacity="0.12"/><stop offset="97.5%" stop-color="#ffffff" stop-opacity="0.28"/><stop offset="98.7%" stop-color="#fff" stop-opacity="0.00"/><stop offset="100.0%" stop-color="#d8b0b6" stop-opacity="0.23"/></linearGradient></defs>
<rect x="353.5" y="28.6" width="235.5" height="213" fill="url(#sN1)"/>
<defs><linearGradient id="sNp" gradientUnits="userSpaceOnUse" x1="353.5" y1="0" x2="589" y2="0" spreadMethod="repeat"><stop offset="0.0%" stop-color="#f0d0d4" stop-opacity="0.41"/><stop offset="0.4%" stop-color="#ffffff" stop-opacity="0.19"/><stop offset="0.9%" stop-color="#e0a8b0" stop-opacity="0.15"/><stop offset="1.3%" stop-color="#ffffff" stop-opacity="0.34"/><stop offset="1.7%" stop-color="#f0d0d4" stop-opacity="0.25"/><stop offset="2.1%" stop-color="#e0a8b0" stop-opacity="0.43"/><stop offset="2.6%" stop-color="#fff" stop-opacity="0.00"/><stop offset="3.0%" stop-color="#fff" stop-opacity="0.00"/><stop offset="3.4%" stop-color="#e0a8b0" stop-opacity="0.42"/><stop offset="3.8%" stop-color="#fff" stop-opacity="0.00"/><stop offset="4.3%" stop-color="#e0a8b0" stop-opacity="0.20"/><stop offset="4.7%" stop-color="#fff" stop-opacity="0.00"/><stop offset="5.1%" stop-color="#ffffff" stop-opacity="0.35"/><stop offset="5.5%" stop-color="#fff" stop-opacity="0.00"/><stop offset="6.0%" stop-color="#fff" stop-opacity="0.00"/><stop offset="6.4%" stop-color="#fff" stop-opacity="0.00"/><stop offset="6.8%" stop-color="#fff" stop-opacity="0.00"/><stop offset="7.2%" stop-color="#f0d0d4" stop-opacity="0.14"/><stop offset="7.7%" stop-color="#fff" stop-opacity="0.00"/><stop offset="8.1%" stop-color="#e0a8b0" stop-opacity="0.11"/><stop offset="8.5%" stop-color="#fff" stop-opacity="0.00"/><stop offset="8.9%" stop-color="#fff" stop-opacity="0.00"/><stop offset="9.4%" stop-color="#e0a8b0" stop-opacity="0.23"/><stop offset="9.8%" stop-color="#e0a8b0" stop-opacity="0.17"/><stop offset="10.2%" stop-color="#e0a8b0" stop-opacity="0.34"/><stop offset="10.6%" stop-color="#f0d0d4" stop-opacity="0.58"/><stop offset="11.1%" stop-color="#ffffff" stop-opacity="0.35"/><stop offset="11.5%" stop-color="#ffffff" stop-opacity="0.44"/><stop offset="11.9%" stop-color="#fff" stop-opacity="0.00"/><stop offset="12.3%" stop-color="#e0a8b0" stop-opacity="0.44"/><stop offset="12.8%" stop-color="#e0a8b0" stop-opacity="0.45"/><stop offset="13.2%" stop-color="#ffffff" stop-opacity="0.41"/><stop offset="13.6%" stop-color="#ffffff" stop-opacity="0.48"/><stop offset="14.0%" stop-color="#fff" stop-opacity="0.00"/><stop offset="14.5%" stop-color="#e0a8b0" stop-opacity="0.46"/><stop offset="14.9%" stop-color="#e0a8b0" stop-opacity="0.57"/><stop offset="15.3%" stop-color="#e0a8b0" stop-opacity="0.60"/><stop offset="15.7%" stop-color="#fff" stop-opacity="0.00"/><stop offset="16.2%" stop-color="#f0d0d4" stop-opacity="0.14"/><stop offset="16.6%" stop-color="#e0a8b0" stop-opacity="0.37"/><stop offset="17.0%" stop-color="#f0d0d4" stop-opacity="0.17"/><stop offset="17.4%" stop-color="#e0a8b0" stop-opacity="0.45"/><stop offset="17.9%" stop-color="#f0d0d4" stop-opacity="0.51"/><stop offset="18.3%" stop-color="#fff" stop-opacity="0.00"/><stop offset="18.7%" stop-color="#f0d0d4" stop-opacity="0.57"/><stop offset="19.1%" stop-color="#ffffff" stop-opacity="0.48"/><stop offset="19.6%" stop-color="#e0a8b0" stop-opacity="0.42"/><stop offset="20.0%" stop-color="#e0a8b0" stop-opacity="0.59"/><stop offset="20.4%" stop-color="#e0a8b0" stop-opacity="0.43"/><stop offset="20.9%" stop-color="#ffffff" stop-opacity="0.58"/><stop offset="21.3%" stop-color="#fff" stop-opacity="0.00"/><stop offset="21.7%" stop-color="#ffffff" stop-opacity="0.20"/><stop offset="22.1%" stop-color="#ffffff" stop-opacity="0.25"/><stop offset="22.6%" stop-color="#ffffff" stop-opacity="0.43"/><stop offset="23.0%" stop-color="#f0d0d4" stop-opacity="0.34"/><stop offset="23.4%" stop-color="#fff" stop-opacity="0.00"/><stop offset="23.8%" stop-color="#fff" stop-opacity="0.00"/><stop offset="24.3%" stop-color="#fff" stop-opacity="0.00"/><stop offset="24.7%" stop-color="#fff" stop-opacity="0.00"/><stop offset="25.1%" stop-color="#fff" stop-opacity="0.00"/><stop offset="25.5%" stop-color="#fff" stop-opacity="0.00"/><stop offset="26.0%" stop-color="#fff" stop-opacity="0.00"/><stop offset="26.4%" stop-color="#f0d0d4" stop-opacity="0.28"/><stop offset="26.8%" stop-color="#fff" stop-opacity="0.00"/><stop offset="27.2%" stop-color="#fff" stop-opacity="0.00"/><stop offset="27.7%" stop-color="#e0a8b0" stop-opacity="0.16"/><stop offset="28.1%" stop-color="#ffffff" stop-opacity="0.17"/><stop offset="28.5%" stop-color="#ffffff" stop-opacity="0.32"/><stop offset="28.9%" stop-color="#e0a8b0" stop-opacity="0.54"/><stop offset="29.4%" stop-color="#fff" stop-opacity="0.00"/><stop offset="29.8%" stop-color="#ffffff" stop-opacity="0.55"/><stop offset="30.2%" stop-color="#ffffff" stop-opacity="0.23"/><stop offset="30.6%" stop-color="#e0a8b0" stop-opacity="0.47"/><stop offset="31.1%" stop-color="#ffffff" stop-opacity="0.25"/><stop offset="31.5%" stop-color="#f0d0d4" stop-opacity="0.55"/><stop offset="31.9%" stop-color="#fff" stop-opacity="0.00"/><stop offset="32.3%" stop-color="#e0a8b0" stop-opacity="0.25"/><stop offset="32.8%" stop-color="#fff" stop-opacity="0.00"/><stop offset="33.2%" stop-color="#e0a8b0" stop-opacity="0.33"/><stop offset="33.6%" stop-color="#fff" stop-opacity="0.00"/><stop offset="34.0%" stop-color="#e0a8b0" stop-opacity="0.25"/><stop offset="34.5%" stop-color="#ffffff" stop-opacity="0.31"/><stop offset="34.9%" stop-color="#fff" stop-opacity="0.00"/><stop offset="35.3%" stop-color="#fff" stop-opacity="0.00"/><stop offset="35.7%" stop-color="#e0a8b0" stop-opacity="0.36"/><stop offset="36.2%" stop-color="#e0a8b0" stop-opacity="0.36"/><stop offset="36.6%" stop-color="#fff" stop-opacity="0.00"/><stop offset="37.0%" stop-color="#fff" stop-opacity="0.00"/><stop offset="37.4%" stop-color="#fff" stop-opacity="0.00"/><stop offset="37.9%" stop-color="#fff" stop-opacity="0.00"/><stop offset="38.3%" stop-color="#ffffff" stop-opacity="0.44"/><stop offset="38.7%" stop-color="#fff" stop-opacity="0.00"/><stop offset="39.1%" stop-color="#fff" stop-opacity="0.00"/><stop offset="39.6%" stop-color="#fff" stop-opacity="0.00"/><stop offset="40.0%" stop-color="#ffffff" stop-opacity="0.53"/><stop offset="40.4%" stop-color="#ffffff" stop-opacity="0.14"/><stop offset="40.9%" stop-color="#e0a8b0" stop-opacity="0.25"/><stop offset="41.3%" stop-color="#ffffff" stop-opacity="0.54"/><stop offset="41.7%" stop-color="#e0a8b0" stop-opacity="0.13"/><stop offset="42.1%" stop-color="#f0d0d4" stop-opacity="0.40"/><stop offset="42.6%" stop-color="#fff" stop-opacity="0.00"/><stop offset="43.0%" stop-color="#fff" stop-opacity="0.00"/><stop offset="43.4%" stop-color="#fff" stop-opacity="0.00"/><stop offset="43.8%" stop-color="#ffffff" stop-opacity="0.32"/><stop offset="44.3%" stop-color="#f0d0d4" stop-opacity="0.35"/><stop offset="44.7%" stop-color="#ffffff" stop-opacity="0.57"/><stop offset="45.1%" stop-color="#e0a8b0" stop-opacity="0.54"/><stop offset="45.5%" stop-color="#fff" stop-opacity="0.00"/><stop offset="46.0%" stop-color="#ffffff" stop-opacity="0.56"/><stop offset="46.4%" stop-color="#f0d0d4" stop-opacity="0.46"/><stop offset="46.8%" stop-color="#fff" stop-opacity="0.00"/><stop offset="47.2%" stop-color="#fff" stop-opacity="0.00"/><stop offset="47.7%" stop-color="#f0d0d4" stop-opacity="0.44"/><stop offset="48.1%" stop-color="#fff" stop-opacity="0.00"/><stop offset="48.5%" stop-color="#fff" stop-opacity="0.00"/><stop offset="48.9%" stop-color="#fff" stop-opacity="0.00"/><stop offset="49.4%" stop-color="#fff" stop-opacity="0.00"/><stop offset="49.8%" stop-color="#fff" stop-opacity="0.00"/><stop offset="50.2%" stop-color="#ffffff" stop-opacity="0.23"/><stop offset="50.6%" stop-color="#f0d0d4" stop-opacity="0.40"/><stop offset="51.1%" stop-color="#f0d0d4" stop-opacity="0.12"/><stop offset="51.5%" stop-color="#ffffff" stop-opacity="0.20"/><stop offset="51.9%" stop-color="#f0d0d4" stop-opacity="0.41"/><stop offset="52.3%" stop-color="#e0a8b0" stop-opacity="0.31"/><stop offset="52.8%" stop-color="#fff" stop-opacity="0.00"/><stop offset="53.2%" stop-color="#fff" stop-opacity="0.00"/><stop offset="53.6%" stop-color="#fff" stop-opacity="0.00"/><stop offset="54.0%" stop-color="#fff" stop-opacity="0.00"/><stop offset="54.5%" stop-color="#f0d0d4" stop-opacity="0.27"/><stop offset="54.9%" stop-color="#ffffff" stop-opacity="0.49"/><stop offset="55.3%" stop-color="#ffffff" stop-opacity="0.54"/><stop offset="55.7%" stop-color="#ffffff" stop-opacity="0.33"/><stop offset="56.2%" stop-color="#fff" stop-opacity="0.00"/><stop offset="56.6%" stop-color="#ffffff" stop-opacity="0.25"/><stop offset="57.0%" stop-color="#fff" stop-opacity="0.00"/><stop offset="57.4%" stop-color="#e0a8b0" stop-opacity="0.34"/><stop offset="57.9%" stop-color="#e0a8b0" stop-opacity="0.57"/><stop offset="58.3%" stop-color="#f0d0d4" stop-opacity="0.57"/><stop offset="58.7%" stop-color="#e0a8b0" stop-opacity="0.49"/><stop offset="59.1%" stop-color="#ffffff" stop-opacity="0.31"/><stop offset="59.6%" stop-color="#fff" stop-opacity="0.00"/><stop offset="60.0%" stop-color="#fff" stop-opacity="0.00"/><stop offset="60.4%" stop-color="#ffffff" stop-opacity="0.23"/><stop offset="60.9%" stop-color="#fff" stop-opacity="0.00"/><stop offset="61.3%" stop-color="#fff" stop-opacity="0.00"/><stop offset="61.7%" stop-color="#ffffff" stop-opacity="0.32"/><stop offset="62.1%" stop-color="#f0d0d4" stop-opacity="0.45"/><stop offset="62.6%" stop-color="#fff" stop-opacity="0.00"/><stop offset="63.0%" stop-color="#ffffff" stop-opacity="0.39"/><stop offset="63.4%" stop-color="#ffffff" stop-opacity="0.54"/><stop offset="63.8%" stop-color="#e0a8b0" stop-opacity="0.17"/><stop offset="64.3%" stop-color="#ffffff" stop-opacity="0.41"/><stop offset="64.7%" stop-color="#ffffff" stop-opacity="0.23"/><stop offset="65.1%" stop-color="#fff" stop-opacity="0.00"/><stop offset="65.5%" stop-color="#e0a8b0" stop-opacity="0.34"/><stop offset="66.0%" stop-color="#e0a8b0" stop-opacity="0.23"/><stop offset="66.4%" stop-color="#fff" stop-opacity="0.00"/><stop offset="66.8%" stop-color="#fff" stop-opacity="0.00"/><stop offset="67.2%" stop-color="#e0a8b0" stop-opacity="0.59"/><stop offset="67.7%" stop-color="#f0d0d4" stop-opacity="0.59"/><stop offset="68.1%" stop-color="#e0a8b0" stop-opacity="0.34"/><stop offset="68.5%" stop-color="#fff" stop-opacity="0.00"/><stop offset="68.9%" stop-color="#e0a8b0" stop-opacity="0.16"/><stop offset="69.4%" stop-color="#e0a8b0" stop-opacity="0.47"/><stop offset="69.8%" stop-color="#e0a8b0" stop-opacity="0.39"/><stop offset="70.2%" stop-color="#fff" stop-opacity="0.00"/><stop offset="70.6%" stop-color="#fff" stop-opacity="0.00"/><stop offset="71.1%" stop-color="#ffffff" stop-opacity="0.16"/><stop offset="71.5%" stop-color="#e0a8b0" stop-opacity="0.48"/><stop offset="71.9%" stop-color="#fff" stop-opacity="0.00"/><stop offset="72.3%" stop-color="#fff" stop-opacity="0.00"/><stop offset="72.8%" stop-color="#ffffff" stop-opacity="0.43"/><stop offset="73.2%" stop-color="#ffffff" stop-opacity="0.10"/><stop offset="73.6%" stop-color="#f0d0d4" stop-opacity="0.39"/><stop offset="74.0%" stop-color="#ffffff" stop-opacity="0.47"/><stop offset="74.5%" stop-color="#e0a8b0" stop-opacity="0.25"/><stop offset="74.9%" stop-color="#fff" stop-opacity="0.00"/><stop offset="75.3%" stop-color="#e0a8b0" stop-opacity="0.55"/><stop offset="75.7%" stop-color="#e0a8b0" stop-opacity="0.43"/><stop offset="76.2%" stop-color="#e0a8b0" stop-opacity="0.23"/><stop offset="76.6%" stop-color="#e0a8b0" stop-opacity="0.12"/><stop offset="77.0%" stop-color="#fff" stop-opacity="0.00"/><stop offset="77.4%" stop-color="#fff" stop-opacity="0.00"/><stop offset="77.9%" stop-color="#e0a8b0" stop-opacity="0.35"/><stop offset="78.3%" stop-color="#ffffff" stop-opacity="0.28"/><stop offset="78.7%" stop-color="#e0a8b0" stop-opacity="0.31"/><stop offset="79.1%" stop-color="#ffffff" stop-opacity="0.37"/><stop offset="79.6%" stop-color="#f0d0d4" stop-opacity="0.20"/><stop offset="80.0%" stop-color="#e0a8b0" stop-opacity="0.57"/><stop offset="80.4%" stop-color="#fff" stop-opacity="0.00"/><stop offset="80.9%" stop-color="#e0a8b0" stop-opacity="0.60"/><stop offset="81.3%" stop-color="#fff" stop-opacity="0.00"/><stop offset="81.7%" stop-color="#fff" stop-opacity="0.00"/><stop offset="82.1%" stop-color="#fff" stop-opacity="0.00"/><stop offset="82.6%" stop-color="#ffffff" stop-opacity="0.52"/><stop offset="83.0%" stop-color="#fff" stop-opacity="0.00"/><stop offset="83.4%" stop-color="#fff" stop-opacity="0.00"/><stop offset="83.8%" stop-color="#e0a8b0" stop-opacity="0.48"/><stop offset="84.3%" stop-color="#fff" stop-opacity="0.00"/><stop offset="84.7%" stop-color="#fff" stop-opacity="0.00"/><stop offset="85.1%" stop-color="#fff" stop-opacity="0.00"/><stop offset="85.5%" stop-color="#ffffff" stop-opacity="0.55"/><stop offset="86.0%" stop-color="#e0a8b0" stop-opacity="0.23"/><stop offset="86.4%" stop-color="#f0d0d4" stop-opacity="0.40"/><stop offset="86.8%" stop-color="#fff" stop-opacity="0.00"/><stop offset="87.2%" stop-color="#f0d0d4" stop-opacity="0.40"/><stop offset="87.7%" stop-color="#fff" stop-opacity="0.00"/><stop offset="88.1%" stop-color="#fff" stop-opacity="0.00"/><stop offset="88.5%" stop-color="#ffffff" stop-opacity="0.10"/><stop offset="88.9%" stop-color="#fff" stop-opacity="0.00"/><stop offset="89.4%" stop-color="#fff" stop-opacity="0.00"/><stop offset="89.8%" stop-color="#ffffff" stop-opacity="0.38"/><stop offset="90.2%" stop-color="#ffffff" stop-opacity="0.39"/><stop offset="90.6%" stop-color="#f0d0d4" stop-opacity="0.39"/><stop offset="91.1%" stop-color="#e0a8b0" stop-opacity="0.51"/><stop offset="91.5%" stop-color="#fff" stop-opacity="0.00"/><stop offset="91.9%" stop-color="#fff" stop-opacity="0.00"/><stop offset="92.3%" stop-color="#f0d0d4" stop-opacity="0.10"/><stop offset="92.8%" stop-color="#e0a8b0" stop-opacity="0.53"/><stop offset="93.2%" stop-color="#e0a8b0" stop-opacity="0.16"/><stop offset="93.6%" stop-color="#e0a8b0" stop-opacity="0.34"/><stop offset="94.0%" stop-color="#fff" stop-opacity="0.00"/><stop offset="94.5%" stop-color="#fff" stop-opacity="0.00"/><stop offset="94.9%" stop-color="#e0a8b0" stop-opacity="0.21"/><stop offset="95.3%" stop-color="#f0d0d4" stop-opacity="0.19"/><stop offset="95.7%" stop-color="#fff" stop-opacity="0.00"/><stop offset="96.2%" stop-color="#e0a8b0" stop-opacity="0.34"/><stop offset="96.6%" stop-color="#ffffff" stop-opacity="0.40"/><stop offset="97.0%" stop-color="#fff" stop-opacity="0.00"/><stop offset="97.4%" stop-color="#fff" stop-opacity="0.00"/><stop offset="97.9%" stop-color="#e0a8b0" stop-opacity="0.55"/><stop offset="98.3%" stop-color="#fff" stop-opacity="0.00"/><stop offset="98.7%" stop-color="#ffffff" stop-opacity="0.27"/><stop offset="99.1%" stop-color="#fff" stop-opacity="0.00"/><stop offset="99.6%" stop-color="#fff" stop-opacity="0.00"/><stop offset="100.0%" stop-color="#ffffff" stop-opacity="0.52"/></linearGradient></defs>
<rect x="353.5" y="28.6" width="235.5" height="26.62" fill="url(#sNp)" opacity="0.75"/>
<rect x="316.5" y="188.35" width="235.5" height="35.5" fill="url(#sNp)" opacity="0.45" transform="translate(37 0)"/>
<rect x="589" y="55.23" width="103.8" height="133.12" fill="url(#sT1)"/>
<rect x="296.3" y="28.6" width="235.5" height="8.88" fill="url(#sN2)" transform="translate(57.2 0)"/>
<rect x="577.3" y="28.6" width="103.8" height="8.88" fill="url(#sT2)" transform="translate(11.7 0)"/>
<rect x="391.4" y="37.48" width="235.5" height="8.88" fill="url(#sN2)" transform="translate(-37.9 0)"/>
<rect x="593.1" y="37.48" width="103.8" height="8.88" fill="url(#sT2)" transform="translate(-4.1 0)"/>
<rect x="393.5" y="46.35" width="235.5" height="8.88" fill="url(#sN2)" transform="translate(-40 0)"/>
<rect x="604" y="46.35" width="103.8" height="8.88" fill="url(#sT2)" transform="translate(-15 0)"/>
<rect x="373.3" y="55.23" width="235.5" height="8.88" fill="url(#sN2)" transform="translate(-19.8 0)"/>
<rect x="609" y="55.23" width="103.8" height="8.88" fill="url(#sT2)" transform="translate(-20 0)"/>
<rect x="331.9" y="64.1" width="235.5" height="8.88" fill="url(#sN2)" transform="translate(21.6 0)"/>
<rect x="587.6" y="64.1" width="103.8" height="8.88" fill="url(#sT2)" transform="translate(1.4 0)"/>
<rect x="378.6" y="72.97" width="235.5" height="8.88" fill="url(#sN2)" transform="translate(-25.1 0)"/>
<rect x="603.7" y="72.97" width="103.8" height="8.88" fill="url(#sT2)" transform="translate(-14.7 0)"/>
<rect x="396.4" y="81.85" width="235.5" height="8.88" fill="url(#sN2)" transform="translate(-42.9 0)"/>
<rect x="612.1" y="81.85" width="103.8" height="8.88" fill="url(#sT2)" transform="translate(-23.1 0)"/>
<rect x="360.9" y="90.72" width="235.5" height="8.88" fill="url(#sN2)" transform="translate(-7.4 0)"/>
<rect x="614.5" y="90.72" width="103.8" height="8.88" fill="url(#sT2)" transform="translate(-25.5 0)"/>
<rect x="350.8" y="99.6" width="235.5" height="8.88" fill="url(#sN2)" transform="translate(2.7 0)"/>
<rect x="603.7" y="99.6" width="103.8" height="8.88" fill="url(#sT2)" transform="translate(-14.7 0)"/>
<rect x="320.8" y="108.47" width="235.5" height="8.88" fill="url(#sN2)" transform="translate(32.7 0)"/>
<rect x="603" y="108.47" width="103.8" height="8.88" fill="url(#sT2)" transform="translate(-14 0)"/>
<rect x="310.8" y="117.35" width="235.5" height="8.88" fill="url(#sN2)" transform="translate(42.7 0)"/>
<rect x="562.3" y="117.35" width="103.8" height="8.88" fill="url(#sT2)" transform="translate(26.7 0)"/>
<rect x="301.9" y="126.22" width="235.5" height="8.88" fill="url(#sN2)" transform="translate(51.6 0)"/>
<rect x="605.3" y="126.22" width="103.8" height="8.88" fill="url(#sT2)" transform="translate(-16.3 0)"/>
<rect x="302" y="135.1" width="235.5" height="8.88" fill="url(#sN2)" transform="translate(51.5 0)"/>
<rect x="590.7" y="135.1" width="103.8" height="8.88" fill="url(#sT2)" transform="translate(-1.7 0)"/>
<rect x="307.3" y="143.97" width="235.5" height="8.88" fill="url(#sN2)" transform="translate(46.2 0)"/>
<rect x="591.2" y="143.97" width="103.8" height="8.88" fill="url(#sT2)" transform="translate(-2.2 0)"/>
<rect x="348.6" y="152.85" width="235.5" height="8.88" fill="url(#sN2)" transform="translate(4.9 0)"/>
<rect x="603.5" y="152.85" width="103.8" height="8.88" fill="url(#sT2)" transform="translate(-14.5 0)"/>
<rect x="322.6" y="161.72" width="235.5" height="8.88" fill="url(#sN2)" transform="translate(30.9 0)"/>
<rect x="596.9" y="161.72" width="103.8" height="8.88" fill="url(#sT2)" transform="translate(-7.9 0)"/>
<rect x="307.4" y="170.6" width="235.5" height="8.88" fill="url(#sN2)" transform="translate(46.1 0)"/>
<rect x="576.6" y="170.6" width="103.8" height="8.88" fill="url(#sT2)" transform="translate(12.4 0)"/>
<rect x="362" y="179.47" width="235.5" height="8.88" fill="url(#sN2)" transform="translate(-8.5 0)"/>
<rect x="617.1" y="179.47" width="103.8" height="8.88" fill="url(#sT2)" transform="translate(-28.1 0)"/>
<rect x="381.3" y="188.35" width="235.5" height="8.88" fill="url(#sN2)" transform="translate(-27.8 0)"/>
<rect x="594" y="188.35" width="103.8" height="8.88" fill="url(#sT2)" transform="translate(-5 0)"/>
<rect x="369.1" y="197.22" width="235.5" height="8.88" fill="url(#sN2)" transform="translate(-15.6 0)"/>
<rect x="584" y="197.22" width="103.8" height="8.88" fill="url(#sT2)" transform="translate(5 0)"/>
<rect x="412.9" y="206.1" width="235.5" height="8.88" fill="url(#sN2)" transform="translate(-59.4 0)"/>
<rect x="590.9" y="206.1" width="103.8" height="8.88" fill="url(#sT2)" transform="translate(-1.9 0)"/>
<rect x="306.4" y="214.97" width="235.5" height="8.88" fill="url(#sN2)" transform="translate(47.1 0)"/>
<rect x="561.8" y="214.97" width="103.8" height="8.88" fill="url(#sT2)" transform="translate(27.2 0)"/>
<rect x="330.9" y="223.85" width="235.5" height="8.88" fill="url(#sN2)" transform="translate(22.6 0)"/>
<rect x="577.8" y="223.85" width="103.8" height="8.88" fill="url(#sT2)" transform="translate(11.2 0)"/>
<rect x="341.2" y="232.72" width="235.5" height="8.88" fill="url(#sN2)" transform="translate(12.3 0)"/>
<rect x="559" y="232.72" width="103.8" height="8.88" fill="url(#sT2)" transform="translate(30 0)"/>
<g font-size="7.6" font-weight="bold" fill="#111">
<text x="695" y="35.74">ZC3H7B***</text>
<text x="695" y="44.61">YWHAG***</text>
<text x="695" y="53.49">ALKBH5</text>
<text x="695" y="62.36">MSI2***</text>
<text x="695" y="71.24">YTHDF2***</text>
<text x="695" y="80.11">WTAP***</text>
<text x="695" y="88.99">GNL3***</text>
<text x="695" y="97.86">HNRNPD***</text>
<text x="695" y="106.74">HNRNPC***</text>
<text x="695" y="115.61">METTL14***</text>
<text x="695" y="124.49">CAPRIN1***</text>
<text x="695" y="133.36">YTHDF3***</text>
<text x="695" y="142.24">RBM27***</text>
<text x="695" y="151.11">ZCCHC4***</text>
<text x="695" y="159.99">KIAA1429***</text>
<text x="695" y="168.86">RBM15***</text>
<text x="695" y="177.74">PCIF1***</text>
<text x="695" y="186.61">YTHDF1***</text>
<text x="695" y="195.49">YTHDC2**</text>
<text x="695" y="204.36">METTL3***</text>
<text x="695" y="213.24">TRA2A</text>
<text x="695" y="222.11">YTHDC1***</text>
<text x="695" y="230.99">ZC3H13***</text>
<text x="695" y="239.86">FTO***</text>
<text x="695.3" y="26.8">Type</text>
<text x="746" y="24.8">Type</text>
<text x="757" y="34.7">N</text><text x="757" y="44.2">T</text>
</g>
<rect x="746.4" y="27.2" width="9.2" height="9.3" fill="#967d0c"/>
<rect x="746.4" y="36.5" width="9.2" height="9.3" fill="#9810dc"/>
<defs><linearGradient id="gB" x1="0" y1="0" x2="0" y2="1"><stop offset="0" stop-color="#9b1c22"/><stop offset="0.25" stop-color="#c46a6e"/><stop offset="0.49" stop-color="#fbf2f2"/><stop offset="0.52" stop-color="#f2f8f8"/><stop offset="0.75" stop-color="#7fbfbf"/><stop offset="1" stop-color="#218a8c"/></linearGradient></defs>
<rect x="747.2" y="54" width="6.8" height="94.2" fill="url(#gB)"/>
<g font-size="7.2" fill="#111">
<text x="755.6" y="61.3">6</text>
<text x="755.6" y="75.15">4</text>
<text x="755.6" y="89">2</text>
<text x="755.6" y="102.85">0</text>
<text x="754.6" y="116.7">−2</text>
<text x="754.6" y="130.55">−4</text>
<text x="754.6" y="144.4">−6</text>
</g>
<path d="M353.5 41.91H334V50.79H353.5M353.5 33.04H332.4V46.35H334M353.5 86.29H342.3V95.16H353.5M353.5 77.41H341.2V90.72H342.3M353.5 68.54H340.4V84.07H341.2M353.5 104.04H341V112.91H353.5M353.5 130.66H344.3V139.54H353.5M353.5 121.79H342.4V135.1H344.3M341 108.47H339V128.44H342.4M340.4 76.3H337.5V118.46H339M353.5 175.04H340.4V183.91H353.5M353.5 166.16H338.2V179.47H340.4M353.5 157.29H336.2V172.82H338.2M353.5 148.41H334.3V165.05H336.2M337.5 97.38H332.7V156.73H334.3M353.5 59.66H329.5V127.06H332.7M353.5 192.79H341.5V201.66H353.5M353.5 210.54H337.7V219.41H353.5M341.5 197.22H336.6V214.97H337.7M353.5 228.29H336V237.16H353.5M336.6 206.1H328.5V232.72H336M329.5 93.36H325.3V219.41H328.5M332.4 39.69H320.3V156.39H325.3" stroke="#555" fill="none" stroke-width="0.75"/>
<text x="9.5" y="275.5" font-size="27" fill="#000" font-weight="bold" font-family='"Liberation Serif", serif'>C</text>
<rect x="55" y="279.6" width="297.6" height="184.7" fill="none" stroke="#555" stroke-width="1"/>
<g font-size="8" font-weight="bold" fill="#111" text-anchor="end">
<text x="48.6" y="413.7">0</text>
<text x="48.6" y="355.3">5</text>
<text x="48.6" y="296.9">10</text>
</g>
<path d="M50.5 410.8H55M50.5 352.4H55M50.5 294H55" stroke="#333" fill="none" stroke-width="0.8"/>
<text font-size="8.2" font-weight="bold" fill="#111" text-anchor="middle" transform="translate(39.4 375.5) rotate(-90)">Gene expression/log2(FPKM+0.001)</text>
<g font-size="8.3" font-weight="bold" fill="#111" text-anchor="end">
<text transform="translate(64.7 467.3) rotate(-90)">GNL3</text>
<text transform="translate(76.7 467.3) rotate(-90)">TRA2A</text>
<text transform="translate(88.7 467.3) rotate(-90)">KIAA1429</text>
<text transform="translate(100.7 467.3) rotate(-90)">CAPRIN1</text>
<text transform="translate(112.7 467.3) rotate(-90)">YTHDF3</text>
<text transform="translate(124.7 467.3) rotate(-90)">HNRNPC</text>
<text transform="translate(136.7 467.3) rotate(-90)">RBM27</text>
<text transform="translate(148.7 467.3) rotate(-90)">RBM15</text>
<text transform="translate(160.7 467.3) rotate(-90)">METTL14</text>
<text transform="translate(172.7 467.3) rotate(-90)">ZCCHC4</text>
<text transform="translate(184.7 467.3) rotate(-90)">PCIF1</text>
<text transform="translate(196.7 467.3) rotate(-90)">YTHDC2</text>
<text transform="translate(208.7 467.3) rotate(-90)">METTL3</text>
<text transform="translate(220.7 467.3) rotate(-90)">ZC3H13</text>
<text transform="translate(232.7 467.3) rotate(-90)">WTAP</text>
<text transform="translate(244.7 467.3) rotate(-90)">YTHDF1</text>
<text transform="translate(256.7 467.3) rotate(-90)">YTHDC1</text>
<text transform="translate(268.7 467.3) rotate(-90)">FTO</text>
<text transform="translate(280.7 467.3) rotate(-90)">MSI2</text>
<text transform="translate(292.7 467.3) rotate(-90)">YTHDF2</text>
<text transform="translate(304.7 467.3) rotate(-90)">HNRNPD</text>
<text transform="translate(316.7 467.3) rotate(-90)">ZC3H7B</text>
<text transform="translate(328.7 467.3) rotate(-90)">YWHAG</text>
<text transform="translate(340.7 467.3) rotate(-90)">ALKBH5</text>
</g>
<path d="M65.95 332.4L66.02 337.23L66.14 342.06L66.41 346.89L66.77 351.71L66.94 356.54L67.09 361.37L67.35 366.2L66.86 371.03L66.51 375.86L66.3 380.69L66.07 385.51L66 390.34L65.96 395.17L65.95 400L65.35 400L65.34 395.17L65.3 390.34L65.23 385.51L65 380.69L64.79 375.86L64.44 371.03L63.95 366.2L64.21 361.37L64.36 356.54L64.53 351.71L64.89 346.89L65.16 342.06L65.28 337.23L65.35 332.4ZM68.4 335.5L68.51 338.63L68.7 341.76L68.96 344.89L69.38 348.01L69.7 351.14L69.57 354.27L69.68 357.4L69.28 360.53L68.86 363.66L68.6 366.79L68.5 369.91L68.43 373.04L68.41 376.17L68.4 379.3L67.8 379.3L67.79 376.17L67.77 373.04L67.7 369.91L67.6 366.79L67.34 363.66L66.92 360.53L66.52 357.4L66.63 354.27L66.5 351.14L66.82 348.01L67.24 344.89L67.5 341.76L67.69 338.63L67.8 335.5ZM77.95 327L78.01 330.79L78.09 334.57L78.32 338.36L78.6 342.14L79.11 345.93L79.4 349.71L79.12 353.5L78.93 357.29L78.62 361.07L78.41 364.86L78.12 368.64L78.02 372.43L77.97 376.21L77.95 380L77.35 380L77.33 376.21L77.28 372.43L77.18 368.64L76.89 364.86L76.68 361.07L76.37 357.29L76.18 353.5L75.9 349.71L76.19 345.93L76.7 342.14L76.98 338.36L77.21 334.57L77.29 330.79L77.35 327ZM80.4 329L80.4 331.4L80.41 333.8L80.44 336.2L80.54 338.6L80.72 341L81.09 343.4L81.48 345.8L81.86 348.2L81.81 350.6L81.43 353L81.28 355.4L80.91 357.8L80.63 360.2L80.4 362.6L79.8 362.6L79.57 360.2L79.29 357.8L78.92 355.4L78.77 353L78.39 350.6L78.34 348.2L78.72 345.8L79.11 343.4L79.48 341L79.66 338.6L79.76 336.2L79.79 333.8L79.8 331.4L79.8 329ZM89.95 347L90.05 350.05L90.25 353.1L90.52 356.15L90.81 359.2L91.03 362.25L91.44 365.3L91.31 368.35L90.69 371.4L90.48 374.45L90.17 377.5L90.03 380.55L89.98 383.6L89.96 386.65L89.95 389.7L89.35 389.7L89.34 386.65L89.32 383.6L89.27 380.55L89.13 377.5L88.82 374.45L88.61 371.4L87.99 368.35L87.86 365.3L88.27 362.25L88.49 359.2L88.78 356.15L89.05 353.1L89.25 350.05L89.35 347ZM92.4 339.7L92.41 342.38L92.44 345.06L92.56 347.74L92.73 350.41L93.15 353.09L93.59 355.77L93.71 358.45L93.92 361.13L93.43 363.81L93.04 366.49L92.8 369.16L92.55 371.84L92.46 374.52L92.4 377.2L91.8 377.2L91.74 374.52L91.65 371.84L91.4 369.16L91.16 366.49L90.77 363.81L90.28 361.13L90.49 358.45L90.61 355.77L91.05 353.09L91.47 350.41L91.64 347.74L91.76 345.06L91.79 342.38L91.8 339.7ZM101.95 341.7L102.17 344.54L102.39 347.37L102.92 350.21L103.09 353.04L103.49 355.88L103.32 358.71L102.82 361.55L102.48 364.39L102.21 367.22L102.06 370.06L101.98 372.89L101.96 375.73L101.95 378.56L101.95 381.4L101.35 381.4L101.35 378.56L101.34 375.73L101.32 372.89L101.24 370.06L101.09 367.22L100.82 364.39L100.48 361.55L99.98 358.71L99.81 355.88L100.21 353.04L100.38 350.21L100.91 347.37L101.13 344.54L101.35 341.7ZM104.4 326L104.46 328.17L104.58 330.34L104.76 332.51L105.08 334.69L105.64 336.86L105.73 339.03L105.73 341.2L105.29 343.37L105.06 345.54L104.77 347.71L104.53 349.89L104.45 352.06L104.42 354.23L104.4 356.4L103.8 356.4L103.78 354.23L103.75 352.06L103.67 349.89L103.43 347.71L103.14 345.54L102.91 343.37L102.47 341.2L102.47 339.03L102.56 336.86L103.12 334.69L103.44 332.51L103.62 330.34L103.74 328.17L103.8 326ZM113.95 355.3L114.07 359.25L114.27 363.2L114.53 367.15L114.99 371.1L115.31 375.05L115.1 379L114.94 382.95L114.78 386.9L114.45 390.85L114.14 394.8L114.02 398.75L113.97 402.7L113.95 406.65L113.95 410.6L113.35 410.6L113.35 406.65L113.33 402.7L113.28 398.75L113.16 394.8L112.85 390.85L112.52 386.9L112.36 382.95L112.2 379L111.99 375.05L112.31 371.1L112.77 367.15L113.03 363.2L113.23 359.25L113.35 355.3ZM116.4 354.3L116.46 356.46L116.59 358.61L116.79 360.77L117.13 362.93L117.6 365.09L117.54 367.24L117.72 369.4L117.49 371.56L117.01 373.71L116.7 375.87L116.55 378.03L116.44 380.19L116.41 382.34L116.4 384.5L115.8 384.5L115.79 382.34L115.76 380.19L115.65 378.03L115.5 375.87L115.19 373.71L114.71 371.56L114.48 369.4L114.66 367.24L114.6 365.09L115.07 362.93L115.41 360.77L115.61 358.61L115.74 356.46L115.8 354.3ZM125.95 308.4L125.96 311.23L125.99 314.06L126.08 316.89L126.32 319.71L126.59 322.54L127.08 325.37L127.12 328.2L127.22 331.03L127.11 333.86L126.79 336.69L126.35 339.51L126.12 342.34L126.01 345.17L125.95 348L125.35 348L125.29 345.17L125.18 342.34L124.95 339.51L124.51 336.69L124.19 333.86L124.08 331.03L124.18 328.2L124.22 325.37L124.71 322.54L124.98 319.71L125.22 316.89L125.31 314.06L125.34 311.23L125.35 308.4ZM128.4 298L128.45 300.23L128.54 302.46L128.68 304.69L128.97 306.91L129.48 309.14L129.73 311.37L129.86 313.6L129.49 315.83L129.1 318.06L128.81 320.29L128.62 322.51L128.47 324.74L128.42 326.97L128.4 329.2L127.8 329.2L127.78 326.97L127.73 324.74L127.58 322.51L127.39 320.29L127.1 318.06L126.71 315.83L126.34 313.6L126.47 311.37L126.72 309.14L127.23 306.91L127.52 304.69L127.66 302.46L127.75 300.23L127.8 298ZM137.95 367.8L137.99 371.82L138.09 375.84L138.22 379.86L138.46 383.89L139.05 387.91L139.36 391.93L139.49 395.95L139.08 399.97L138.85 403.99L138.45 408.01L138.14 412.04L138.03 416.06L137.97 420.08L137.95 424.1L137.35 424.1L137.33 420.08L137.27 416.06L137.16 412.04L136.85 408.01L136.45 403.99L136.22 399.97L135.81 395.95L135.94 391.93L136.25 387.91L136.84 383.89L137.08 379.86L137.21 375.84L137.31 371.82L137.35 367.8ZM140.4 368.9L140.49 371.58L140.64 374.26L140.88 376.94L141.17 379.61L141.64 382.29L141.66 384.97L141.73 387.65L141.17 390.33L140.99 393.01L140.67 395.69L140.51 398.36L140.43 401.04L140.41 403.72L140.4 406.4L139.8 406.4L139.79 403.72L139.77 401.04L139.69 398.36L139.53 395.69L139.21 393.01L139.03 390.33L138.47 387.65L138.54 384.97L138.56 382.29L139.03 379.61L139.32 376.94L139.56 374.26L139.71 371.58L139.8 368.9ZM149.95 365.7L149.98 372.26L150.03 378.81L150.17 385.37L150.48 391.93L150.82 398.49L151.12 405.04L151.48 411.6L151.22 418.16L150.82 424.71L150.45 431.27L150.24 437.83L150.05 444.39L149.99 450.94L149.95 457.5L149.35 457.5L149.31 450.94L149.25 444.39L149.06 437.83L148.85 431.27L148.48 424.71L148.08 418.16L147.82 411.6L148.18 405.04L148.48 398.49L148.82 391.93L149.13 385.37L149.27 378.81L149.32 372.26L149.35 365.7ZM152.4 383.5L152.43 386.04L152.52 388.57L152.64 391.11L153 393.64L153.44 396.18L153.75 398.71L153.88 401.25L153.41 403.79L153.28 406.32L152.94 408.86L152.6 411.39L152.48 413.93L152.42 416.46L152.4 419L151.8 419L151.78 416.46L151.72 413.93L151.6 411.39L151.26 408.86L150.92 406.32L150.79 403.79L150.32 401.25L150.45 398.71L150.76 396.18L151.2 393.64L151.56 391.11L151.68 388.57L151.77 386.04L151.8 383.5ZM161.95 358.4L161.98 362.94L162.06 367.49L162.17 372.03L162.42 376.57L162.75 381.11L163.04 385.66L163.12 390.2L163.32 394.74L162.91 399.29L162.4 403.83L162.19 408.37L162.04 412.91L161.98 417.46L161.95 422L161.35 422L161.32 417.46L161.26 412.91L161.11 408.37L160.9 403.83L160.39 399.29L159.98 394.74L160.18 390.2L160.26 385.66L160.55 381.11L160.88 376.57L161.13 372.03L161.24 367.49L161.32 362.94L161.35 358.4ZM164.4 356.4L164.58 359.67L164.79 362.94L165.07 366.21L165.45 369.49L165.58 372.76L165.72 376.03L165.49 379.3L165.03 382.57L164.7 385.84L164.53 389.11L164.45 392.39L164.41 395.66L164.4 398.93L164.4 402.2L163.8 402.2L163.8 398.93L163.79 395.66L163.75 392.39L163.67 389.11L163.5 385.84L163.17 382.57L162.71 379.3L162.48 376.03L162.62 372.76L162.75 369.49L163.13 366.21L163.41 362.94L163.62 359.67L163.8 356.4ZM173.95 375L174.09 379.41L174.27 383.81L174.56 388.22L174.95 392.63L175.32 397.04L175.25 401.44L175.14 405.85L174.7 410.26L174.34 414.66L174.14 419.07L174.02 423.48L173.97 427.89L173.95 432.29L173.95 436.7L173.35 436.7L173.35 432.29L173.33 427.89L173.28 423.48L173.16 419.07L172.96 414.66L172.6 410.26L172.16 405.85L172.05 401.44L171.98 397.04L172.35 392.63L172.74 388.22L173.03 383.81L173.21 379.41L173.35 375ZM176.4 341.7L176.4 346.62L176.4 351.54L176.41 356.46L176.42 361.39L176.47 366.31L176.6 371.23L176.8 376.15L177.28 381.07L177.61 385.99L177.9 390.91L177.78 395.84L177.42 400.76L177.04 405.68L176.4 410.6L175.8 410.6L175.16 405.68L174.78 400.76L174.42 395.84L174.3 390.91L174.59 385.99L174.92 381.07L175.4 376.15L175.6 371.23L175.73 366.31L175.78 361.39L175.79 356.46L175.8 351.54L175.8 346.62L175.8 341.7ZM185.95 343.8L186.27 348.27L186.47 352.74L186.83 357.21L187.33 361.69L187.11 366.16L186.95 370.63L186.64 375.1L186.44 379.57L186.13 384.04L186.01 388.51L185.97 392.99L185.95 397.46L185.95 401.93L185.95 406.4L185.35 406.4L185.35 401.93L185.35 397.46L185.33 392.99L185.29 388.51L185.17 384.04L184.86 379.57L184.66 375.1L184.35 370.63L184.19 366.16L183.97 361.69L184.47 357.21L184.83 352.74L185.03 348.27L185.35 343.8ZM188.4 341.7L188.41 343.19L188.42 344.69L188.48 346.18L188.57 347.67L188.88 349.16L189.2 350.66L189.62 352.15L189.58 353.64L189.76 355.14L189.5 356.63L188.92 358.12L188.69 359.61L188.53 361.11L188.4 362.6L187.8 362.6L187.67 361.11L187.51 359.61L187.28 358.12L186.7 356.63L186.44 355.14L186.62 353.64L186.58 352.15L187 350.66L187.32 349.16L187.63 347.67L187.72 346.18L187.78 344.69L187.79 343.19L187.8 341.7ZM197.95 351.1L197.99 356.24L198.08 361.37L198.31 366.51L198.66 371.64L198.95 376.78L199.2 381.91L199.24 387.05L199 392.19L198.67 397.32L198.3 402.46L198.13 407.59L198.02 412.73L197.97 417.86L197.95 423L197.35 423L197.33 417.86L197.28 412.73L197.17 407.59L197 402.46L196.63 397.32L196.3 392.19L196.06 387.05L196.1 381.91L196.35 376.78L196.64 371.64L196.99 366.51L197.22 361.37L197.31 356.24L197.35 351.1ZM200.4 366.8L200.54 369.63L200.74 372.46L201.05 375.29L201.39 378.11L201.67 380.94L201.8 383.77L201.67 386.6L201.1 389.43L200.78 392.26L200.61 395.09L200.48 397.91L200.42 400.74L200.41 403.57L200.4 406.4L199.8 406.4L199.79 403.57L199.78 400.74L199.72 397.91L199.59 395.09L199.42 392.26L199.1 389.43L198.53 386.6L198.4 383.77L198.53 380.94L198.81 378.11L199.15 375.29L199.46 372.46L199.66 369.63L199.8 366.8ZM209.95 341.7L210.17 345.72L210.41 349.74L210.84 353.76L211.09 357.79L211.19 361.81L211.25 365.83L210.98 369.85L210.46 373.87L210.23 377.89L210.05 381.91L209.99 385.94L209.96 389.96L209.95 393.98L209.95 398L209.35 398L209.35 393.98L209.34 389.96L209.31 385.94L209.25 381.91L209.07 377.89L208.84 373.87L208.32 369.85L208.05 365.83L208.11 361.81L208.21 357.79L208.46 353.76L208.89 349.74L209.13 345.72L209.35 341.7ZM212.4 340.7L212.43 343.01L212.49 345.31L212.61 347.62L212.88 349.93L213.22 352.24L213.7 354.54L213.61 356.85L213.81 359.16L213.3 361.46L212.96 363.77L212.66 366.08L212.51 368.39L212.44 370.69L212.4 373L211.8 373L211.76 370.69L211.69 368.39L211.54 366.08L211.24 363.77L210.9 361.46L210.39 359.16L210.59 356.85L210.5 354.54L210.98 352.24L211.32 349.93L211.59 347.62L211.71 345.31L211.77 343.01L211.8 340.7ZM221.95 346L221.99 349.94L222.08 353.89L222.22 357.83L222.56 361.77L223.02 365.71L223.19 369.66L223.19 373.6L223.03 377.54L222.83 381.49L222.45 385.43L222.2 389.37L222.04 393.31L221.97 397.26L221.95 401.2L221.35 401.2L221.33 397.26L221.26 393.31L221.1 389.37L220.85 385.43L220.47 381.49L220.27 377.54L220.11 373.6L220.11 369.66L220.28 365.71L220.74 361.77L221.08 357.83L221.22 353.89L221.31 349.94L221.35 346ZM224.4 356.4L224.69 359.08L225.06 361.76L225.5 364.44L225.83 367.11L225.64 369.79L225.65 372.47L225.13 375.15L224.82 377.83L224.61 380.51L224.46 383.19L224.42 385.86L224.41 388.54L224.4 391.22L224.4 393.9L223.8 393.9L223.8 391.22L223.79 388.54L223.78 385.86L223.74 383.19L223.59 380.51L223.38 377.83L223.07 375.15L222.55 372.47L222.56 369.79L222.37 367.11L222.7 364.44L223.14 361.76L223.51 359.08L223.8 356.4ZM233.95 327.1L233.97 331.13L234 335.16L234.11 339.19L234.34 343.21L234.67 347.24L234.95 351.27L235.31 355.3L235.43 359.33L234.95 363.36L234.63 367.39L234.26 371.41L234.09 375.44L234 379.47L233.95 383.5L233.35 383.5L233.3 379.47L233.21 375.44L233.04 371.41L232.67 367.39L232.35 363.36L231.87 359.33L231.99 355.3L232.35 351.27L232.63 347.24L232.96 343.21L233.19 339.19L233.3 335.16L233.33 331.13L233.35 327.1ZM236.4 327L236.4 329.69L236.41 332.39L236.46 335.08L236.55 337.77L236.79 340.46L237.14 343.16L237.39 345.85L237.78 348.54L237.78 351.24L237.58 353.93L237.06 356.62L236.81 359.31L236.59 362.01L236.4 364.7L235.8 364.7L235.61 362.01L235.39 359.31L235.14 356.62L234.62 353.93L234.42 351.24L234.42 348.54L234.81 345.85L235.06 343.16L235.41 340.46L235.65 337.77L235.74 335.08L235.79 332.39L235.8 329.69L235.8 327ZM245.95 344.9L246.11 349.22L246.36 353.54L246.67 357.86L247.14 362.19L247.35 366.51L247.27 370.83L246.87 375.15L246.62 379.47L246.29 383.79L246.07 388.11L246 392.44L245.96 396.76L245.95 401.08L245.95 405.4L245.35 405.4L245.35 401.08L245.34 396.76L245.3 392.44L245.23 388.11L245.01 383.79L244.68 379.47L244.43 375.15L244.03 370.83L243.95 366.51L244.16 362.19L244.63 357.86L244.94 353.54L245.19 349.22L245.35 344.9ZM248.4 343.8L248.42 345.59L248.47 347.39L248.59 349.18L248.82 350.97L249.18 352.76L249.5 354.56L249.66 356.35L249.57 358.14L249.29 359.94L249.09 361.73L248.76 363.52L248.54 365.31L248.45 367.11L248.4 368.9L247.8 368.9L247.75 367.11L247.66 365.31L247.44 363.52L247.11 361.73L246.91 359.94L246.63 358.14L246.54 356.35L246.7 354.56L247.02 352.76L247.38 350.97L247.61 349.18L247.73 347.39L247.78 345.59L247.8 343.8ZM257.95 337.6L258.03 340.95L258.21 344.3L258.38 347.65L258.8 351L259.05 354.35L259.41 357.7L259.13 361.05L258.82 364.4L258.49 367.75L258.22 371.1L258.06 374.45L257.98 377.8L257.96 381.15L257.95 384.5L257.35 384.5L257.34 381.15L257.32 377.8L257.24 374.45L257.08 371.1L256.81 367.75L256.48 364.4L256.17 361.05L255.89 357.7L256.25 354.35L256.5 351L256.92 347.65L257.09 344.3L257.27 340.95L257.35 337.6ZM260.4 343.8L260.67 345.74L260.94 347.69L261.47 349.63L261.76 351.57L261.61 353.51L261.43 355.46L261.17 357.4L260.87 359.34L260.62 361.29L260.48 363.23L260.42 365.17L260.4 367.11L260.4 369.06L260.4 371L259.8 371L259.8 369.06L259.8 367.11L259.78 365.17L259.72 363.23L259.58 361.29L259.33 359.34L259.03 357.4L258.77 355.46L258.59 353.51L258.44 351.57L258.73 349.63L259.26 347.69L259.53 345.74L259.8 343.8ZM269.95 339.7L270.09 343.27L270.24 346.84L270.53 350.41L271.04 353.99L271.05 357.56L271.41 361.13L271.21 364.7L270.82 368.27L270.36 371.84L270.14 375.41L270.02 378.99L269.97 382.56L269.96 386.13L269.95 389.7L269.35 389.7L269.34 386.13L269.33 382.56L269.28 378.99L269.16 375.41L268.94 371.84L268.48 368.27L268.09 364.7L267.89 361.13L268.25 357.56L268.26 353.99L268.77 350.41L269.06 346.84L269.21 343.27L269.35 339.7ZM272.4 333.4L272.42 335.79L272.46 338.17L272.58 340.56L272.83 342.94L273.03 345.33L273.6 347.71L273.79 350.1L273.69 352.49L273.43 354.87L273.05 357.26L272.71 359.64L272.54 362.03L272.44 364.41L272.4 366.8L271.8 366.8L271.76 364.41L271.66 362.03L271.49 359.64L271.15 357.26L270.77 354.87L270.51 352.49L270.41 350.1L270.6 347.71L271.17 345.33L271.37 342.94L271.62 340.56L271.74 338.17L271.78 335.79L271.8 333.4ZM281.95 343.8L282.08 347.01L282.28 350.21L282.67 353.42L283.07 356.63L283.1 359.84L283.4 363.04L283.11 366.25L282.61 369.46L282.35 372.66L282.12 375.87L282.01 379.08L281.97 382.29L281.96 385.49L281.95 388.7L281.35 388.7L281.34 385.49L281.33 382.29L281.29 379.08L281.18 375.87L280.95 372.66L280.69 369.46L280.19 366.25L279.9 363.04L280.2 359.84L280.23 356.63L280.63 353.42L281.02 350.21L281.22 347.01L281.35 343.8ZM284.4 328.2L284.45 330.88L284.52 333.56L284.77 336.24L285.07 338.91L285.54 341.59L285.78 344.27L285.83 346.95L285.46 349.63L285.22 352.31L284.87 354.99L284.6 357.66L284.46 360.34L284.42 363.02L284.4 365.7L283.8 365.7L283.78 363.02L283.74 360.34L283.6 357.66L283.33 354.99L282.98 352.31L282.74 349.63L282.37 346.95L282.42 344.27L282.66 341.59L283.13 338.91L283.43 336.24L283.68 333.56L283.75 330.88L283.8 328.2ZM293.95 352.2L294.03 356L294.17 359.8L294.43 363.6L294.75 367.4L295.16 371.2L295.38 375L295.18 378.8L294.81 382.6L294.5 386.4L294.19 390.2L294.05 394L293.98 397.8L293.96 401.6L293.95 405.4L293.35 405.4L293.34 401.6L293.32 397.8L293.25 394L293.11 390.2L292.8 386.4L292.49 382.6L292.12 378.8L291.92 375L292.14 371.2L292.55 367.4L292.87 363.6L293.13 359.8L293.27 356L293.35 352.2ZM296.4 338.6L296.4 341.06L296.41 343.51L296.44 345.97L296.53 348.43L296.73 350.89L296.97 353.34L297.24 355.8L297.57 358.26L297.85 360.71L297.41 363.17L297.17 365.63L296.79 368.09L296.58 370.54L296.4 373L295.8 373L295.62 370.54L295.41 368.09L295.03 365.63L294.79 363.17L294.35 360.71L294.63 358.26L294.96 355.8L295.23 353.34L295.47 350.89L295.67 348.43L295.76 345.97L295.79 343.51L295.8 341.06L295.8 338.6ZM305.95 319.8L306.08 323.38L306.24 326.96L306.52 330.54L306.86 334.11L307.24 337.69L307.11 341.27L306.9 344.85L306.69 348.43L306.35 352.01L306.14 355.59L306.01 359.16L305.97 362.74L305.95 366.32L305.95 369.9L305.35 369.9L305.35 366.32L305.33 362.74L305.29 359.16L305.16 355.59L304.95 352.01L304.61 348.43L304.4 344.85L304.19 341.27L304.06 337.69L304.44 334.11L304.78 330.54L305.06 326.96L305.22 323.38L305.35 319.8ZM308.4 312.5L308.41 314.74L308.43 316.97L308.51 319.21L308.66 321.44L309 323.68L309.31 325.91L309.51 328.15L309.56 330.39L309.65 332.62L309.17 334.86L308.91 337.09L308.61 339.33L308.49 341.56L308.4 343.8L307.8 343.8L307.71 341.56L307.59 339.33L307.29 337.09L307.03 334.86L306.55 332.62L306.64 330.39L306.69 328.15L306.89 325.91L307.2 323.68L307.54 321.44L307.69 319.21L307.77 316.97L307.79 314.74L307.8 312.5ZM317.95 341.7L318.12 345.51L318.41 349.31L318.74 353.12L319.02 356.93L319.12 360.74L319.31 364.54L319.1 368.35L318.61 372.16L318.23 375.96L318.07 379.77L317.99 383.58L317.96 387.39L317.95 391.19L317.95 395L317.35 395L317.35 391.19L317.34 387.39L317.31 383.58L317.23 379.77L317.07 375.96L316.69 372.16L316.2 368.35L315.99 364.54L316.18 360.74L316.28 356.93L316.56 353.12L316.89 349.31L317.18 345.51L317.35 341.7ZM320.4 341.3L320.64 343.56L320.83 345.83L321.34 348.09L321.56 350.36L321.87 352.62L321.81 354.89L321.47 357.15L320.9 359.41L320.67 361.68L320.52 363.94L320.44 366.21L320.41 368.47L320.4 370.74L320.4 373L319.8 373L319.8 370.74L319.79 368.47L319.76 366.21L319.68 363.94L319.53 361.68L319.3 359.41L318.73 357.15L318.39 354.89L318.33 352.62L318.64 350.36L318.86 348.09L319.37 345.83L319.56 343.56L319.8 341.3ZM329.95 308.4L330.18 313.46L330.46 318.53L331.01 323.59L331.67 328.66L331.63 333.72L331.92 338.79L331.53 343.85L331 348.91L330.46 353.98L330.19 359.04L330.02 364.11L329.97 369.17L329.95 374.24L329.95 379.3L329.35 379.3L329.35 374.24L329.33 369.17L329.28 364.11L329.11 359.04L328.84 353.98L328.3 348.91L327.77 343.85L327.38 338.79L327.67 333.72L327.63 328.66L328.29 323.59L328.84 318.53L329.12 313.46L329.35 308.4ZM332.4 308.4L332.4 312.2L332.42 316L332.48 319.8L332.61 323.6L332.92 327.4L333.31 331.2L333.86 335L334.04 338.8L334.38 342.6L333.72 346.4L333.41 350.2L333 354L332.65 357.8L332.4 361.6L331.8 361.6L331.55 357.8L331.2 354L330.79 350.2L330.48 346.4L329.82 342.6L330.16 338.8L330.34 335L330.89 331.2L331.28 327.4L331.59 323.6L331.72 319.8L331.78 316L331.8 312.2L331.8 308.4ZM341.95 334.4L342.3 338.13L342.6 341.86L343.05 345.59L343.37 349.31L343.27 353.04L343.22 356.77L342.79 360.5L342.36 364.23L342.14 367.96L342.01 371.69L341.97 375.41L341.96 379.14L341.95 382.87L341.95 386.6L341.35 386.6L341.35 382.87L341.34 379.14L341.33 375.41L341.29 371.69L341.16 367.96L340.94 364.23L340.51 360.5L340.08 356.77L340.03 353.04L339.93 349.31L340.25 345.59L340.7 341.86L341 338.13L341.35 334.4ZM344.4 343.8L344.43 344.99L344.52 346.19L344.66 347.38L344.89 348.57L345.24 349.76L345.7 350.96L345.78 352.15L345.41 353.34L345.17 354.54L344.95 355.73L344.61 356.92L344.49 358.11L344.43 359.31L344.4 360.5L343.8 360.5L343.77 359.31L343.71 358.11L343.59 356.92L343.25 355.73L343.03 354.54L342.79 353.34L342.42 352.15L342.5 350.96L342.96 349.76L343.31 348.57L343.54 347.38L343.68 346.19L343.77 344.99L343.8 343.8Z" stroke="#111" fill="#111" stroke-width="0.3"/>
<path d="M64.7 360.9h1.9v3.4h-1.9ZM67.15 352.3h1.9v3.4h-1.9ZM76.7 350.3h1.9v3.4h-1.9ZM79.15 348.3h1.9v3.4h-1.9ZM88.7 363.3h1.9v3.4h-1.9ZM91.15 358.3h1.9v3.4h-1.9ZM100.7 354.3h1.9v3.4h-1.9ZM103.15 338.3h1.9v3.4h-1.9ZM112.7 376.3h1.9v3.4h-1.9ZM115.15 366.3h1.9v3.4h-1.9ZM124.7 328.3h1.9v3.4h-1.9ZM127.15 311.3h1.9v3.4h-1.9ZM136.7 393.3h1.9v3.4h-1.9ZM139.15 383.3h1.9v3.4h-1.9ZM148.7 410.3h1.9v3.4h-1.9ZM151.15 399.3h1.9v3.4h-1.9ZM160.7 388.3h1.9v3.4h-1.9ZM163.15 372.3h1.9v3.4h-1.9ZM172.7 398.3h1.9v3.4h-1.9ZM175.15 390.3h1.9v3.4h-1.9ZM184.7 363.3h1.9v3.4h-1.9ZM187.15 352.3h1.9v3.4h-1.9ZM196.7 383.3h1.9v3.4h-1.9ZM199.15 381.3h1.9v3.4h-1.9ZM208.7 360.3h1.9v3.4h-1.9ZM211.15 355.3h1.9v3.4h-1.9ZM220.7 371.3h1.9v3.4h-1.9ZM223.15 367.3h1.9v3.4h-1.9ZM232.7 355.3h1.9v3.4h-1.9ZM235.15 348.3h1.9v3.4h-1.9ZM244.7 366.3h1.9v3.4h-1.9ZM247.15 355.3h1.9v3.4h-1.9ZM256.7 356.3h1.9v3.4h-1.9ZM259.15 351.3h1.9v3.4h-1.9ZM268.7 358.3h1.9v3.4h-1.9ZM271.15 349.3h1.9v3.4h-1.9ZM280.7 360.3h1.9v3.4h-1.9ZM283.15 344.3h1.9v3.4h-1.9ZM292.7 373.3h1.9v3.4h-1.9ZM295.15 358.3h1.9v3.4h-1.9ZM304.7 338.3h1.9v3.4h-1.9ZM307.15 328.3h1.9v3.4h-1.9ZM316.7 360.3h1.9v3.4h-1.9ZM319.15 351.3h1.9v3.4h-1.9ZM328.7 334.3h1.9v3.4h-1.9ZM331.15 339.3h1.9v3.4h-1.9ZM340.7 350.3h1.9v3.4h-1.9ZM343.15 350.3h1.9v3.4h-1.9Z" stroke="none" fill="#fff" stroke-width="1"/>
<g font-size="5.4" fill="#222">
<text x="57.3" y="330.1">p&lt;0.001</text>
<text x="77.6" y="317.6">ns</text>
<text x="81.3" y="330.1">p&lt;0.001</text>
<text x="92.8" y="316.1">p&lt;0.001</text>
<text x="104.7" y="350.9">p&lt;0.001</text>
<text x="117" y="287.9">p&lt;0.001</text>
<text x="128.8" y="367.6">p&lt;0.001</text>
<text x="141.2" y="355.7">p&lt;0.001</text>
<text x="152.8" y="346.4">p&lt;0.001</text>
<text x="164.7" y="338.6">p&lt;0.001</text>
<text x="177.2" y="331.6">p&lt;0.001</text>
<text x="189.8" y="341.6">p&lt;0.05</text>
<text x="201" y="324.9">p&lt;0.001</text>
<text x="212.5" y="335.7">p&lt;0.001</text>
<text x="224.6" y="316.9">p&lt;0.001</text>
<text x="236.5" y="332.8">p&lt;0.001</text>
<text x="249" y="320.3">p&lt;0.001</text>
<text x="260.5" y="323.2">p&lt;0.001</text>
<text x="272.6" y="317.6">p&lt;0.001</text>
<text x="284.5" y="328">p&lt;0.001</text>
<text x="296.4" y="302.9">p&lt;0.001</text>
<text x="308.5" y="331.1">p&lt;0.001</text>
<text x="320.6" y="297.8">p&lt;0.001</text>
<text x="340.6" y="331.1">ns</text>
</g>
<text x="389.5" y="275.3" font-size="27" fill="#000" font-weight="bold" font-family='"Liberation Serif", serif'>D</text>
<text x="569.7" y="259.8" font-size="6.75" fill="#111" text-anchor="middle" font-weight="bold">Altered in 20 (3.94%) of 508 samples.</text>
<rect x="455.2" y="266.2" width="9.15" height="3.4" fill="#8da0cb"/>
<rect x="455.2" y="269.6" width="9.15" height="37.2" fill="#fc8d62"/>
<rect x="455.7" y="306" width="8.15" height="0.8" fill="#a6d854"/>
<rect x="464.75" y="306.2" width="8.35" height="0.7" fill="#fc8d62"/>
<rect x="473.91" y="306.2" width="8.35" height="0.7" fill="#fc8d62"/>
<rect x="483.06" y="306.2" width="8.35" height="0.7" fill="#c8c070"/>
<rect x="492.22" y="306.2" width="8.35" height="0.7" fill="#fc8d62"/>
<rect x="501.37" y="306.2" width="8.35" height="0.7" fill="#fc8d62"/>
<rect x="510.53" y="306.2" width="8.35" height="0.7" fill="#fc8d62"/>
<rect x="519.68" y="306.2" width="8.35" height="0.7" fill="#fc8d62"/>
<rect x="528.84" y="305.1" width="8.35" height="1.8" fill="#b8b040"/>
<rect x="538" y="306.2" width="8.35" height="0.7" fill="#fc8d62"/>
<rect x="547.15" y="306.2" width="8.35" height="0.7" fill="#8da0cb"/>
<rect x="556.3" y="306.2" width="8.35" height="0.7" fill="#fc8d62"/>
<rect x="565.46" y="306.2" width="8.35" height="0.7" fill="#fc8d62"/>
<rect x="574.61" y="306.2" width="8.35" height="0.7" fill="#fc8d62"/>
<rect x="583.77" y="306.2" width="8.35" height="0.7" fill="#fc8d62"/>
<rect x="592.92" y="305.1" width="8.35" height="1.8" fill="#fc8d62"/>
<rect x="602.08" y="306.2" width="8.35" height="0.7" fill="#fc8d62"/>
<rect x="611.24" y="306.2" width="8.35" height="0.7" fill="#fc8d62"/>
<rect x="620.39" y="306.2" width="8.35" height="0.7" fill="#fc8d62"/>
<rect x="629.54" y="306.2" width="8.35" height="0.7" fill="#fc8d62"/>
<path d="M450.6 266.2H452.6V306.9H450.6" stroke="#333" fill="none" stroke-width="0.6"/>
<text x="449.8" y="267.8" font-size="3.8" fill="#222" text-anchor="end">9635</text>
<text x="449.8" y="308.3" font-size="3.8" fill="#222" text-anchor="end">0</text>
<text font-size="3.8" fill="#222" text-anchor="middle" transform="translate(446.2 286.5) rotate(-90)">TMB</text>
<rect x="455.2" y="310" width="183.1" height="167.04" fill="#cccccc"/>
<rect x="455.2" y="310.35" width="9.15" height="6.26" fill="#fc8d62"/>
<rect x="464.35" y="310.35" width="9.15" height="6.26" fill="#b0b0b0"/>
<rect x="473.51" y="310.35" width="9.15" height="6.26" fill="#fc8d62"/>
<rect x="482.66" y="317.31" width="9.15" height="6.26" fill="#fc8d62"/>
<rect x="491.82" y="317.31" width="9.15" height="6.26" fill="#b0b0b0"/>
<rect x="500.97" y="317.31" width="9.15" height="6.26" fill="#8da0cb"/>
<rect x="455.2" y="324.27" width="9.15" height="6.26" fill="#fc8d62"/>
<rect x="510.13" y="324.27" width="9.15" height="6.26" fill="#66c2a5"/>
<rect x="519.28" y="324.27" width="9.15" height="6.26" fill="#66c2a5"/>
<rect x="528.44" y="331.23" width="9.15" height="6.26" fill="#a6d854"/>
<rect x="537.6" y="331.23" width="9.15" height="6.26" fill="#fc8d62"/>
<rect x="455.2" y="338.19" width="9.15" height="6.26" fill="#fc8d62"/>
<rect x="546.75" y="338.19" width="9.15" height="6.26" fill="#fc8d62"/>
<rect x="555.9" y="345.15" width="9.15" height="6.26" fill="#b0b0b0"/>
<rect x="565.06" y="345.15" width="9.15" height="6.26" fill="#fc8d62"/>
<rect x="455.2" y="352.11" width="9.15" height="6.26" fill="#e78ac3"/>
<rect x="574.21" y="352.11" width="9.15" height="6.26" fill="#fc8d62"/>
<rect x="455.2" y="359.07" width="9.15" height="6.26" fill="#fc8d62"/>
<rect x="583.37" y="359.07" width="9.15" height="6.26" fill="#fc8d62"/>
<rect x="455.2" y="366.03" width="9.15" height="6.26" fill="#e78ac3"/>
<rect x="592.52" y="366.03" width="9.15" height="6.26" fill="#66c2a5"/>
<rect x="601.68" y="372.99" width="9.15" height="6.26" fill="#fc8d62"/>
<rect x="610.84" y="379.95" width="9.15" height="6.26" fill="#8da0cb"/>
<rect x="455.2" y="386.91" width="9.15" height="6.26" fill="#fc8d62"/>
<rect x="619.99" y="393.87" width="9.15" height="6.26" fill="#fc8d62"/>
<rect x="455.2" y="400.83" width="9.15" height="6.26" fill="#e78ac3"/>
<rect x="629.14" y="407.79" width="9.15" height="6.26" fill="#fc8d62"/>
<rect x="455.2" y="414.75" width="9.15" height="6.26" fill="#e78ac3"/>
<g font-size="5.5" fill="#222" font-style="italic" text-anchor="end">
<text x="453.4" y="315.48">METTL3</text>
<text x="453.4" y="322.44">YTHDC1</text>
<text x="453.4" y="329.4">RBM27</text>
<text x="453.4" y="336.36">METTL14</text>
<text x="453.4" y="343.32">YTHDF1</text>
<text x="453.4" y="350.28">HNRNPC</text>
<text x="453.4" y="357.24">RBM15</text>
<text x="453.4" y="364.2">ZC3H7B</text>
<text x="453.4" y="371.16">ZC3H13</text>
<text x="453.4" y="378.12">WTAP</text>
<text x="453.4" y="385.08">ZCCHC4</text>
<text x="453.4" y="392.04">ALKBH5</text>
<text x="453.4" y="399">YTHDC2</text>
<text x="453.4" y="405.96">TRA2A</text>
<text x="453.4" y="412.92">YWHAG</text>
<text x="453.4" y="419.88">MSI2</text>
<text x="453.4" y="426.84">VIRMA</text>
<text x="453.4" y="433.8">FTO</text>
<text x="453.4" y="440.76">YTHDF2</text>
<text x="453.4" y="447.72">YTHDF3</text>
<text x="453.4" y="454.68">HNRNPD</text>
<text x="453.4" y="461.64">CAPRIN1</text>
<text x="453.4" y="468.6">PCIF1</text>
<text x="453.4" y="475.56">GNL3</text>
</g><g font-size="5.3" fill="#222">
<text x="639.8" y="315.38">1%</text>
<text x="639.8" y="322.34">1%</text>
<text x="639.8" y="329.3">1%</text>
<text x="639.8" y="336.26">0%</text>
<text x="639.8" y="343.22">0%</text>
<text x="639.8" y="350.18">0%</text>
<text x="639.8" y="357.14">0%</text>
<text x="639.8" y="364.1">0%</text>
<text x="639.8" y="371.06">0%</text>
<text x="639.8" y="378.02">0%</text>
<text x="639.8" y="384.98">0%</text>
<text x="639.8" y="391.94">0%</text>
<text x="639.8" y="398.9">0%</text>
<text x="639.8" y="405.86">0%</text>
<text x="639.8" y="412.82">0%</text>
<text x="639.8" y="419.78">0%</text>
<text x="639.8" y="426.74">0%</text>
<text x="639.8" y="433.7">0%</text>
<text x="639.8" y="440.66">0%</text>
<text x="639.8" y="447.62">0%</text>
<text x="639.8" y="454.58">0%</text>
<text x="639.8" y="461.54">0%</text>
<text x="639.8" y="468.5">0%</text>
<text x="639.8" y="475.46">0%</text>
</g>
<rect x="654.9" y="310.5" width="33.9" height="5.96" fill="#fc8d62"/>
<rect x="688.8" y="310.5" width="16.95" height="5.96" fill="#b0b0b0"/>
<rect x="654.9" y="317.46" width="16.95" height="5.96" fill="#fc8d62"/>
<rect x="671.85" y="317.46" width="16.95" height="5.96" fill="#b0b0b0"/>
<rect x="688.8" y="317.46" width="16.95" height="5.96" fill="#8da0cb"/>
<rect x="654.9" y="324.42" width="16.95" height="5.96" fill="#fc8d62"/>
<rect x="671.85" y="324.42" width="33.9" height="5.96" fill="#66c2a5"/>
<rect x="654.9" y="331.38" width="16.95" height="5.96" fill="#fc8d62"/>
<rect x="671.85" y="331.38" width="16.95" height="5.96" fill="#a6d854"/>
<rect x="654.9" y="338.34" width="33.9" height="5.96" fill="#fc8d62"/>
<rect x="654.9" y="345.3" width="16.95" height="5.96" fill="#fc8d62"/>
<rect x="671.85" y="345.3" width="16.95" height="5.96" fill="#b0b0b0"/>
<rect x="654.9" y="352.26" width="16.95" height="5.96" fill="#fc8d62"/>
<rect x="671.85" y="352.26" width="16.95" height="5.96" fill="#e78ac3"/>
<rect x="654.9" y="359.22" width="33.9" height="5.96" fill="#fc8d62"/>
<rect x="654.9" y="366.18" width="16.95" height="5.96" fill="#66c2a5"/>
<rect x="671.85" y="366.18" width="16.95" height="5.96" fill="#e78ac3"/>
<rect x="654.9" y="373.14" width="16.95" height="5.96" fill="#fc8d62"/>
<rect x="654.9" y="380.1" width="16.95" height="5.96" fill="#8da0cb"/>
<rect x="654.9" y="387.06" width="16.95" height="5.96" fill="#fc8d62"/>
<rect x="654.9" y="394.02" width="16.95" height="5.96" fill="#fc8d62"/>
<rect x="654.9" y="400.98" width="16.95" height="5.96" fill="#e78ac3"/>
<rect x="654.9" y="407.94" width="16.95" height="5.96" fill="#fc8d62"/>
<rect x="654.9" y="414.9" width="16.95" height="5.96" fill="#e78ac3"/>
<path d="M654.9 307.6V309.6H705.8V307.6" stroke="#333" fill="none" stroke-width="0.6"/>
<text x="654.9" y="302.9" font-size="3.6" fill="#222" text-anchor="middle">0</text>
<text x="705.8" y="302.9" font-size="3.6" fill="#222" text-anchor="middle">3</text>
<text x="680.3" y="306.8" font-size="3.2" fill="#222" text-anchor="middle">No. of samples</text>
<g font-size="6.8" fill="#222">
<rect x="435.6" y="486.8" width="2.8" height="2.8" fill="#fc8d62"/>
<text x="442.8" y="490.8">Missense_Mutation</text>
<rect x="435.6" y="494.8" width="2.8" height="2.8" fill="#b0b0b0"/>
<text x="442.8" y="498.8">In_Frame_Del</text>
<rect x="435.6" y="502.8" width="2.8" height="2.8" fill="#66c2a5"/>
<text x="442.8" y="506.8">Frame_Shift_Del</text>
<rect x="508.6" y="486.8" width="2.8" height="2.8" fill="#8da0cb"/>
<text x="515.8" y="490.8">Nonsense_Mutation</text>
<rect x="508.6" y="494.8" width="2.8" height="2.8" fill="#a6d854"/>
<text x="515.8" y="498.8">Frame_Shift_Ins</text>
<rect x="508.6" y="502.8" width="2.8" height="2.8" fill="#e78ac3"/>
<text x="515.8" y="506.8">Multi_Hit</text>
</g>
<text x="11" y="553" font-size="27" fill="#000" font-weight="bold" font-family='"Liberation Serif", serif'>E</text>
<text x="142.6" y="549.9" font-size="7.8" fill="#111" text-anchor="middle" font-weight="bold">consensus CDF</text>
<path d="M44.59 637.45L46.29 636.74L49.68 626.77L52.18 624.44L54.67 621.61L57.06 620.21L59.46 617.6L61.85 615.91L64.34 615.1L66.84 613.01L69.33 611.83L71.83 610.22L74.22 609.63L76.61 607.77L79.01 607.23L81.4 605.45L83.8 604.75L86.19 602.92L89.06 602.51L91.94 601.03L94.81 599.46L97.68 599.47L100.55 597.94L102.95 597.62L105.34 596.33L107.74 595.16L110.13 594.98L112.52 594.52L114.92 593.66L117.31 592.27L119.71 592.89L122.1 591.02L124.49 591.12L126.89 590.61L129.28 589.39L132.01 589.46L134.74 588.72L137.46 587.52L140.19 587.95L142.91 586.9L145.64 586.54L148.21 585.63L150.78 585.3L153.35 584.34L155.93 584.32L158.5 583.61L161.07 582.69L163.64 581.3L166.21 580.95L168.78 580.14L171.38 580.01L173.97 579.24L176.56 579.04L179.16 578.87L181.75 577.77L184.34 577.52L186.94 577.78L189.53 576.92L192.12 576.6L194.72 575.72L197.31 575.86L199.71 575.18L202.1 575.45L204.49 574.11L206.89 574.98L209.28 574.2L211.68 573.36L214.07 573.87L216.46 573.03L218.86 573.32L221.25 572.06L223.65 571.57L226.04 571.59L228.67 571.07L231.29 570.23L233.92 570.61L236.55 569.65L239.17 569.38L241.8 569.1" stroke="#e018b8" fill="none" stroke-width="1.2" stroke-linejoin="round"/>
<path d="M44.59 642.44L46.29 640.3L49.68 630.33L52.18 627.28L54.67 624.46L57.06 622.38L59.46 619.7L61.85 618.05L64.34 615.99L66.84 615.24L69.33 613.54L71.83 612.35L74.22 611.85L76.61 609.81L79.01 608.76L81.4 607.14L83.8 606.26L86.19 605.59L89.06 604.83L91.94 603.62L94.81 602.15L97.68 602L100.55 600.25L102.95 599.59L105.34 599.3L107.74 598.66L110.13 598.03L112.52 596.31L114.92 595.98L117.31 595.88L119.71 595.09L122.1 594.26L124.49 592.96L126.89 593.46L129.28 592.24L132.01 591.96L134.74 591.46L137.46 590.63L140.19 590.36L142.91 589.94L145.64 590.1L148.21 589.79L150.78 588.96L153.35 588.41L155.93 587.03L158.5 586.29L161.07 586.8L163.64 586.13L166.21 585.42L168.78 584.41L171.38 584.24L173.97 583.33L176.56 582.63L179.16 582.55L181.75 582.36L184.34 581.22L186.94 580.74L189.53 579.91L192.12 578.81L194.72 578.63L197.31 578.36L199.71 577.87L202.1 577.27L204.49 576.73L206.89 577.15L209.28 575.49L211.68 575.2L214.07 574.6L216.46 574.25L218.86 574.37L221.25 573.9L223.65 573.86L226.04 572.84L228.67 572.02L231.29 572.22L233.92 571.59L236.55 570.76L239.17 570.2L241.8 569.1" stroke="#7818e0" fill="none" stroke-width="1.2" stroke-linejoin="round"/>
<path d="M44.59 651.16L47.14 645.6L49.68 639.59L52.18 637.73L54.67 634.6L57.06 632.94L59.46 630.35L61.85 627.48L64.34 625.87L66.84 623.32L69.33 621.62L71.83 618.76L74.22 616.69L76.61 615.51L79.01 614.63L81.4 612.94L83.8 611.27L86.19 609.51L89.06 608.38L91.94 607.41L94.81 605.06L97.68 603.54L100.55 602.92L102.95 602.14L105.34 601.28L107.74 601.02L110.13 600.16L112.52 598.99L114.92 597.94L117.31 597.8L119.71 596.52L122.1 596.99L124.49 596.72L126.89 594.92L129.28 595.09L132.01 594.81L134.74 595.12L137.46 594.31L140.19 594.81L142.91 593.86L145.64 593.66L148.21 592.19L150.78 591.56L153.35 591.01L155.93 590.84L158.5 589.9L161.07 589.39L163.64 587.74L166.21 587.29L168.78 586.54L171.38 585.56L173.97 585.62L176.56 585.19L179.16 583.77L181.75 582.94L184.34 582.55L186.94 582.03L189.53 581.43L192.12 580.96L194.72 581.11L197.31 580.14L199.71 579.62L202.1 579.36L204.49 579.34L206.89 578.85L209.28 578L211.68 577.54L214.07 576.44L216.46 575.57L218.86 575.81L221.25 574.62L223.65 574.06L226.04 574.26L228.67 572.75L231.29 572.73L233.92 572.08L236.55 571.21L239.17 570.39L241.8 569.1" stroke="#2048e0" fill="none" stroke-width="1.2" stroke-linejoin="round"/>
<path d="M44.59 658.99L47.14 653.98L49.68 648.13L52.18 645.46L54.67 643.15L57.06 640.68L59.46 638.87L61.85 637.45L64.34 635.7L66.84 633.67L69.33 631.69L71.83 630.33L74.22 629.83L76.61 627.91L79.01 626.46L81.4 625.54L83.8 624.49L86.19 623.75L89.06 622.5L91.94 621.64L94.81 619.49L97.68 618.86L100.55 617.34L102.95 615.96L105.34 614.77L107.74 614.64L110.13 613.68L112.52 611.96L114.92 611.64L117.31 610.37L119.71 610.21L122.1 609.33L124.49 608.34L126.89 606.32L129.28 605.95L132.01 604.17L134.74 603.78L137.46 601.48L140.19 599.92L142.91 599.05L145.64 597.94L148.21 597.52L150.78 596.6L153.35 596.56L155.93 596.1L158.5 594.1L161.07 593.93L163.64 593.47L166.21 592.26L168.78 592.24L171.38 591.56L173.97 590.16L176.56 589.45L179.16 589.54L181.75 588.71L184.34 587.87L186.94 587.17L189.53 585.9L192.12 585.59L194.72 584.59L197.31 583.7L199.71 583.57L202.1 581.81L204.49 581.95L206.89 581.14L209.28 580.31L211.68 579.2L214.07 579.24L216.46 577.88L218.86 577.82L221.25 577.12L223.65 576.48L226.04 575.86L228.67 575.42L231.29 573.69L233.92 572.93L236.55 572.06L239.17 569.8L241.8 569.1" stroke="#20e8f0" fill="none" stroke-width="1.2" stroke-linejoin="round"/>
<path d="M44.59 666.82L47.14 663.37L49.68 658.99L52.18 656.89L54.67 654.72L57.06 651.96L59.46 649.77L61.85 647.42L64.34 645.71L66.84 643.48L69.33 641.47L71.83 639.59L74.22 637.88L76.61 637.54L79.01 635.59L81.4 634.72L83.8 633.38L86.19 631.76L89.06 629.91L91.94 628.83L94.81 627.29L97.68 625.55L100.55 624.46L102.95 622.92L105.34 622.64L107.74 621.45L110.13 620.65L112.52 619.69L114.92 618.76L117.31 617.78L119.71 617.41L122.1 616.58L124.49 615.95L126.89 614.57L129.28 614.49L132.01 613.38L134.74 612.29L137.46 611.37L140.19 611.51L142.91 610.25L145.64 609.51L148.5 607.69L151.36 606.65L154.22 605.95L156.65 605.63L159.07 604.82L161.5 603.54L163.93 603.23L166.36 602.16L168.78 600.96L171.62 600.57L174.45 598.73L177.28 597.57L180.11 596.41L182.95 595.98L185.34 595.49L187.74 593.71L190.13 592.81L192.52 592.57L194.92 590.54L197.31 590.1L200.18 588.3L203.06 588.22L205.93 586.04L208.8 585.69L211.68 584.41L214.07 583.33L216.46 581.52L218.86 580.64L221.25 580.5L223.65 579.02L226.04 577.82L228.91 576.55L231.79 575.56L234.66 574.52L237.53 573.1L240.4 571.59L241.8 569.1" stroke="#20e050" fill="none" stroke-width="1.2" stroke-linejoin="round"/>
<path d="M44.59 679.64L46.29 678.57L49.68 668.96L52.18 667.22L54.67 666.11L57.06 665.61L59.46 663.66L61.85 662.55L64.34 661.39L66.84 660.74L69.33 659.05L71.83 657.57L74.22 656.17L76.61 655.12L79.01 654.54L81.4 652.01L83.8 651.07L86.19 650.27L89.06 648.74L91.94 649.12L94.81 648.04L97.68 647.51L100.55 646L102.95 644.65L105.34 644.42L107.74 643.68L110.13 642.31L112.52 640.66L114.92 640.3L117.31 638.66L119.71 638.27L122.1 637.24L124.49 634.96L126.89 634.27L129.28 633.18L132.01 630.97L134.74 629.91L137.46 628.03L140.19 625.2L142.91 623.64L145.64 621.61L148.5 620.79L151.36 618.14L154.22 617.34L156.65 615.49L159.07 613.59L161.5 612.95L163.93 610.19L166.36 609.65L168.78 607.37L171.62 605.43L174.45 604.59L177.28 603.33L180.11 601.6L182.95 600.25L185.34 599.02L187.74 599.33L190.13 598.91L192.52 597.72L194.92 597.51L197.31 596.51L200.18 596.07L203.06 595L205.93 594.16L208.8 592.95L211.68 591.53L214.07 590.97L216.46 590.14L218.86 588.67L221.25 588.5L223.65 587.37L226.04 586.54L229.63 585.22L233.22 582.98L235.62 580.83L238.01 578.92L240.4 575.86L241.8 569.1" stroke="#80e020" fill="none" stroke-width="1.2" stroke-linejoin="round"/>
<path d="M45.99 689.07L48.88 684.62L51.78 680.15L54.67 674.65L57.06 671.47L59.46 668.89L61.85 666.11L64.34 664.42L66.84 661.87L69.33 659.08L71.83 657.57L74.22 656.91L76.61 654.68L79.01 654.01L81.4 652.71L83.8 651.01L86.19 650.27L89.06 649.57L91.94 648.55L94.81 647.44L97.68 646.16L100.55 646L102.95 645.86L105.34 644.81L107.74 644.63L110.13 644.38L112.52 644.35L114.92 643.86L117.31 643.93L119.71 644.2L122.1 643.94L124.49 643.88L126.89 642.78L129.28 642.97L132.01 643.11L134.74 643.03L137.46 642.94L140.19 641.65L142.91 641.4L145.64 641.72L148.21 641.24L150.78 641.56L153.35 641.38L155.93 641.07L158.5 640.6L161.07 640.79L163.64 640.14L166.21 640.16L168.78 639.59L171.62 638.65L174.45 638.35L177.28 638.67L180.11 638.81L182.95 638.16L185.34 637.14L187.74 637.72L190.13 637.3L192.52 637.45L194.92 636.55L197.31 636.03L199.86 635.17L202.4 634.24L204.94 633.78L207.49 632.47L209.88 630.8L212.27 629.85L214.67 627.48L218.16 623.46L221.65 618.76L224.54 615.07L227.44 610.22L231.82 600.25L234.62 598.65L237.61 590.1L240.4 587.26L241.8 569.1" stroke="#f0b020" fill="none" stroke-width="1.2" stroke-linejoin="round"/>
<path d="M44.59 678.21L47.49 677.68L50.28 673.94L53.87 673.11L57.46 671.98L60.33 672.32L63.21 672.02L66.08 671.3L68.95 671.08L71.83 670.38L74.22 669.99L76.61 669.81L79.01 669.22L81.4 669.09L83.8 668.74L86.19 668.78L89.06 667.85L91.94 668.15L94.81 667.85L97.68 666.52L100.55 666.82L102.95 666.97L105.34 665.79L107.74 665.55L110.13 666.05L112.52 664.56L114.92 664.69L117.31 663.86L119.71 663.97L122.1 663.55L124.49 663.17L126.89 663.86L129.28 663.08L132.01 662.72L134.74 662.43L137.46 661.63L140.19 661.34L142.91 660.99L145.64 661.13L148.21 660.61L150.78 659.78L153.35 659.68L155.93 659.27L158.5 659.53L161.07 659.42L163.64 658.88L166.21 658.16L168.78 657.57L171.38 657.72L173.97 656.28L176.56 656.27L179.16 655.77L181.75 655.36L184.34 654.88L186.94 654.75L189.53 655.04L192.12 653.5L194.72 653.17L197.31 653.12L199.71 652.87L202.1 652.59L204.49 652.18L206.89 652.78L209.28 651.59L211.68 652.04L214.07 652.06L216.46 651.55L218.86 650.65L221.25 651.16L223.65 650.16L226.04 650.27L229.63 647.9L233.22 646.89L236.41 645.03L239.61 643.15L241.2 640.3L241.4 569.1" stroke="#e01818" fill="none" stroke-width="1.2" stroke-linejoin="round"/>
<rect x="35.9" y="562.3" width="215" height="192" fill="none" stroke="#444" stroke-width="0.8"/>
<g font-size="6.8" fill="#222" text-anchor="end">
<text x="26.5" y="749.6">0.0</text>
<text x="26.5" y="714">0.2</text>
<text x="26.5" y="678.4">0.4</text>
<text x="26.5" y="642.8">0.6</text>
<text x="26.5" y="607.2">0.8</text>
<text x="26.5" y="571.6">1.0</text>
</g>
<g font-size="6.8" fill="#222" text-anchor="middle">
<text transform="translate(42.3 766.3) rotate(-90)" dy="3.4">0.0</text>
<text transform="translate(82.2 766.3) rotate(-90)" dy="3.4">0.2</text>
<text transform="translate(122.1 766.3) rotate(-90)" dy="3.4">0.4</text>
<text transform="translate(162 766.3) rotate(-90)" dy="3.4">0.6</text>
<text transform="translate(201.9 766.3) rotate(-90)" dy="3.4">0.8</text>
<text transform="translate(241.8 766.3) rotate(-90)" dy="3.4">1.0</text>
</g>
<path d="M30.6 747.1H35.9M30.6 711.5H35.9M30.6 675.9H35.9M30.6 640.3H35.9M30.6 604.7H35.9M30.6 569.1H35.9M42.3 754.3V758.8M82.2 754.3V758.8M122.1 754.3V758.8M162 754.3V758.8M201.9 754.3V758.8M241.8 754.3V758.8" stroke="#333" fill="none" stroke-width="0.6"/>
<text font-size="5.6" fill="#222" text-anchor="middle" transform="translate(9.2 655.5) rotate(-90)">CDF</text>
<text x="142.9" y="784.6" font-size="6.9" fill="#222" text-anchor="middle">consensus index</text>
<rect x="202.5" y="657.7" width="24" height="72.4" fill="#fff" stroke="#333" stroke-width="0.6"/>
<g font-size="7" fill="#222">
<rect x="208.4" y="664.1" width="4.6" height="3.6" fill="#FF0000" stroke="#222" stroke-width="0.4"/>
<text x="219.7" y="668.9">2</text>
<rect x="208.4" y="672.14" width="4.6" height="3.6" fill="#FFBF00" stroke="#222" stroke-width="0.4"/>
<text x="219.7" y="676.94">3</text>
<rect x="208.4" y="680.18" width="4.6" height="3.6" fill="#80FF00" stroke="#222" stroke-width="0.4"/>
<text x="219.7" y="684.98">4</text>
<rect x="208.4" y="688.22" width="4.6" height="3.6" fill="#00FF40" stroke="#222" stroke-width="0.4"/>
<text x="219.7" y="693.02">5</text>
<rect x="208.4" y="696.26" width="4.6" height="3.6" fill="#00FFFF" stroke="#222" stroke-width="0.4"/>
<text x="219.7" y="701.06">6</text>
<rect x="208.4" y="704.3" width="4.6" height="3.6" fill="#0040FF" stroke="#222" stroke-width="0.4"/>
<text x="219.7" y="709.1">7</text>
<rect x="208.4" y="712.34" width="4.6" height="3.6" fill="#8000FF" stroke="#222" stroke-width="0.4"/>
<text x="219.7" y="717.14">8</text>
<rect x="208.4" y="720.38" width="4.6" height="3.6" fill="#FF00BF" stroke="#222" stroke-width="0.4"/>
<text x="219.7" y="725.18">9</text>
</g>
<text x="271.8" y="553.5" font-size="27" fill="#000" font-weight="bold" font-family='"Liberation Serif", serif'>F</text>
<text x="402.5" y="552.2" font-size="7.9" fill="#111" text-anchor="middle" font-weight="bold">Delta area</text>
<path d="M306.24 572.13L333.15 666.35M334.86 668.86L360.11 688.17M362.6 690.18L387.95 711.6M390.51 713.51L415.62 730.02M418.54 731.15L443.17 735.12M446.31 735.71L470.98 741M474.13 741.53L498.74 744.5" stroke="#222" fill="none" stroke-width="0.75"/>
<circle cx="305.8" cy="570.59" r="1.2" fill="none" stroke="#222" stroke-width="0.5"/>
<circle cx="333.59" cy="667.89" r="1.2" fill="none" stroke="#222" stroke-width="0.5"/>
<circle cx="361.38" cy="689.14" r="1.2" fill="none" stroke="#222" stroke-width="0.5"/>
<circle cx="389.17" cy="712.63" r="1.2" fill="none" stroke="#222" stroke-width="0.5"/>
<circle cx="416.96" cy="730.9" r="1.2" fill="none" stroke="#222" stroke-width="0.5"/>
<circle cx="444.75" cy="735.37" r="1.2" fill="none" stroke="#222" stroke-width="0.5"/>
<circle cx="472.54" cy="741.33" r="1.2" fill="none" stroke="#222" stroke-width="0.5"/>
<circle cx="500.33" cy="744.69" r="1.2" fill="none" stroke="#222" stroke-width="0.5"/>
<rect x="298.2" y="564.2" width="209" height="187.1" fill="none" stroke="#444" stroke-width="0.8"/>
<g font-size="6.3" fill="#222" text-anchor="middle">
<text transform="translate(288.9 714.12) rotate(-90)">0.1</text>
<text transform="translate(288.9 676.84) rotate(-90)">0.2</text>
<text transform="translate(288.9 639.56) rotate(-90)">0.3</text>
<text transform="translate(288.9 602.28) rotate(-90)">0.4</text>
<text transform="translate(288.9 565) rotate(-90)">0.5</text>
<text x="305.8" y="765.7" font-size="6.8">2</text>
<text x="333.59" y="765.7" font-size="6.8">3</text>
<text x="361.38" y="765.7" font-size="6.8">4</text>
<text x="389.17" y="765.7" font-size="6.8">5</text>
<text x="416.96" y="765.7" font-size="6.8">6</text>
<text x="444.75" y="765.7" font-size="6.8">7</text>
<text x="472.54" y="765.7" font-size="6.8">8</text>
<text x="500.33" y="765.7" font-size="6.8">9</text>
</g>
<path d="M293.7 714.12H298.2M293.7 676.84H298.2M293.7 639.56H298.2M293.7 602.28H298.2M293.7 565H298.2M305.8 751.3V755.6M333.59 751.3V755.6M361.38 751.3V755.6M389.17 751.3V755.6M416.96 751.3V755.6M444.75 751.3V755.6M472.54 751.3V755.6M500.33 751.3V755.6" stroke="#333" fill="none" stroke-width="0.6"/>
<text x="402.7" y="780.5" font-size="6" fill="#222" text-anchor="middle">k</text>
<text font-size="6.5" fill="#222" text-anchor="middle" transform="translate(273.6 657.9) rotate(-90)">relative change in area under CDF curve</text>
<text x="503.6" y="553.8" font-size="27" fill="#000" font-weight="bold" font-family='"Liberation Serif", serif'>G</text>
<text x="629.3" y="537.3" font-size="7.7" fill="#111" text-anchor="middle" font-weight="bold">consensus matrix k=2</text>
<rect x="546.8" y="587.9" width="61.3" height="6.8" fill="#2a78b4"/>
<rect x="608.1" y="587.9" width="103.2" height="6.8" fill="#a6cee3"/>
<rect x="608.1" y="605.3" width="95.5" height="95" fill="#0000f2"/>
<rect x="546.8" y="700.3" width="61.3" height="61.7" fill="#0000f2"/>
<rect x="546.8" y="598.2" width="61.3" height="7.1" fill="#5c5cf3"/>
<rect x="608.1" y="598.2" width="103.2" height="7.1" fill="#2222f1"/>
<path d="M546.8 602.2H711.3M546.8 604.4H711.3" stroke="#a8a8f8" fill="none" stroke-width="0.7"/>
<path d="M546.8 600H608.1" stroke="#9a9af6" fill="none" stroke-width="0.5"/>
<rect x="703.6" y="605.3" width="7.7" height="156.7" fill="#3434f2"/>
<path d="M705.3 605.3V762M708.6 605.3V762" stroke="#a8a8f8" fill="none" stroke-width="0.6"/>
<path d="M547.1 605.3V700.3H546.8" stroke="#c8c8fa" fill="none" stroke-width="0.5"/>
<path d="M608.1 761.7H703.6" stroke="#c8c8fa" fill="none" stroke-width="0.5"/>
<path d="M703.2 700.3V762" stroke="#c8c8fa" fill="none" stroke-width="0.5"/>
<path d="M548.7 570.8V537.9H690.2V561.8M673.3 575V561.8H708.5V570M643.3 585V575H703.1V585M547.9 586V570.8H549.5V586M548.2 580H556.0V585.5M603.5 586V583.2H651.5V586M612 586V584.8H640V586M655 586V584H690V586M665 586V583.5H685V586M704.5 586V566H709.5V586M706 586V574H710.5V586M700 586V579H703.5V586M549 586.3H710.5" stroke="#222" fill="none" stroke-width="0.55"/>
<path d="M623.04 586.3V585.66M570.31 586.3V585.22M548.85 586.3V585.55M693.77 586.3V578.76M648.01 586.3V585.96M609.39 586.3V585.37M621.25 586.3V585.35M573.34 586.3V585.79M565.83 586.3V585.54M697.92 586.3V576.56M610.15 586.3V585.33M564.32 586.3V585.74M657.36 586.3V585.35M616.34 586.3V585.92M591.14 586.3V585.81M593.49 586.3V585.27M580.22 586.3V585.2M690.7 586.3V580.51M627.7 586.3V585.98M616.82 586.3V585.18M566.01 586.3V585.46M567.5 586.3V585.48M693.29 586.3V584.22M561.37 586.3V585.51M550.64 586.3V585.92M628.52 586.3V585.17M616.07 586.3V585.64M651.59 586.3V585.92M642.02 586.3V585.84M646.74 586.3V585.14M556.6 586.3V585.5M646.34 586.3V585.87M591.4 586.3V585.1M709.97 586.3V577.25M702.32 586.3V578.19M554.79 586.3V585.67M657.35 586.3V585.47M673.68 586.3V585.92M604.22 586.3V585.22M642.72 586.3V585.59M613.15 586.3V585.11M641.15 586.3V585.98M677.7 586.3V585.7M618.26 586.3V585.81M619.95 586.3V585.71M562.23 586.3V585.43M564.55 586.3V585.29M551.93 586.3V585.3M679.03 586.3V585.55M663.09 586.3V585.78M667.66 586.3V585.62M585.33 586.3V585.13M612.95 586.3V585.66M687.53 586.3V585.67M656.27 586.3V585.85M684.83 586.3V585.77M556.01 586.3V585.12M575.87 586.3V585.15M708.05 586.3V584.18M557.7 586.3V585.81M610.99 586.3V585.45M704.85 586.3V582.89M639.11 586.3V585.88M561.87 586.3V585.5M660.9 586.3V585.94M621.15 586.3V585.37M671.98 586.3V585.66M691.97 586.3V577.15M673.2 586.3V585.21M628.15 586.3V585.91" stroke="#333" fill="none" stroke-width="0.3"/>
<rect x="730.4" y="562.5" width="21.9" height="22.9" fill="#fff" stroke="#333" stroke-width="0.6"/>
<rect x="735.8" y="568" width="4.6" height="4.4" fill="#a6cee3" stroke="#333" stroke-width="0.4"/>
<rect x="735.8" y="576.1" width="4.6" height="4.2" fill="#2a78b4" stroke="#333" stroke-width="0.4"/>
<text x="747.6" y="574.9" font-size="6.2" fill="#222" text-anchor="middle">1</text>
<text x="747.6" y="582.7" font-size="6.2" fill="#222" text-anchor="middle">2</text>
<text x="9.8" y="814.8" font-size="27" fill="#000" font-weight="bold" font-family='"Liberation Serif", serif'>H</text>
<rect x="74.5" y="806.3" width="138.5" height="3.3" fill="#1ad06a"/>
<rect x="213" y="806.3" width="83" height="3.3" fill="#86b6f0"/>
<rect x="74.5" y="810.2" width="4.42" height="3.2" fill="#d0ae00"/>
<rect x="78.87" y="810.2" width="5.31" height="3.2" fill="#16c9d8"/>
<rect x="84.13" y="810.2" width="3.48" height="3.2" fill="#d0ae00"/>
<rect x="87.56" y="810.2" width="3.48" height="3.2" fill="#16c9d8"/>
<rect x="90.99" y="810.2" width="0.75" height="3.2" fill="#d0ae00"/>
<rect x="91.69" y="810.2" width="0.71" height="3.2" fill="#70c070"/>
<rect x="92.35" y="810.2" width="2.08" height="3.2" fill="#d0ae00"/>
<rect x="94.39" y="810.2" width="3.93" height="3.2" fill="#16c9d8"/>
<rect x="98.27" y="810.2" width="1.81" height="3.2" fill="#70c070"/>
<rect x="100.03" y="810.2" width="3.45" height="3.2" fill="#d0ae00"/>
<rect x="103.43" y="810.2" width="1.63" height="3.2" fill="#16c9d8"/>
<rect x="105" y="810.2" width="1.75" height="3.2" fill="#70c070"/>
<rect x="106.7" y="810.2" width="4.5" height="3.2" fill="#16c9d8"/>
<rect x="111.15" y="810.2" width="1.48" height="3.2" fill="#70c070"/>
<rect x="112.58" y="810.2" width="4.42" height="3.2" fill="#d0ae00"/>
<rect x="116.95" y="810.2" width="0.78" height="3.2" fill="#16c9d8"/>
<rect x="117.69" y="810.2" width="1" height="3.2" fill="#70c070"/>
<rect x="118.64" y="810.2" width="1" height="3.2" fill="#d0ae00"/>
<rect x="119.59" y="810.2" width="0.95" height="3.2" fill="#16c9d8"/>
<rect x="120.49" y="810.2" width="0.64" height="3.2" fill="#d0ae00"/>
<rect x="121.08" y="810.2" width="1.56" height="3.2" fill="#16c9d8"/>
<rect x="122.59" y="810.2" width="1.44" height="3.2" fill="#d0ae00"/>
<rect x="123.98" y="810.2" width="2.75" height="3.2" fill="#70c070"/>
<rect x="126.67" y="810.2" width="3.45" height="3.2" fill="#d0ae00"/>
<rect x="130.07" y="810.2" width="2.68" height="3.2" fill="#16c9d8"/>
<rect x="132.7" y="810.2" width="2.15" height="3.2" fill="#d0ae00"/>
<rect x="134.79" y="810.2" width="4.11" height="3.2" fill="#16c9d8"/>
<rect x="138.85" y="810.2" width="1.72" height="3.2" fill="#70c070"/>
<rect x="140.52" y="810.2" width="1.52" height="3.2" fill="#d0ae00"/>
<rect x="141.99" y="810.2" width="0.88" height="3.2" fill="#70c070"/>
<rect x="142.82" y="810.2" width="1.23" height="3.2" fill="#d0ae00"/>
<rect x="144" y="810.2" width="0.59" height="3.2" fill="#16c9d8"/>
<rect x="144.54" y="810.2" width="4.34" height="3.2" fill="#d0ae00"/>
<rect x="148.83" y="810.2" width="4.35" height="3.2" fill="#16c9d8"/>
<rect x="153.13" y="810.2" width="1.44" height="3.2" fill="#70c070"/>
<rect x="154.52" y="810.2" width="0.58" height="3.2" fill="#d0ae00"/>
<rect x="155.05" y="810.2" width="1.39" height="3.2" fill="#70c070"/>
<rect x="156.39" y="810.2" width="1.31" height="3.2" fill="#16c9d8"/>
<rect x="157.65" y="810.2" width="1.08" height="3.2" fill="#70c070"/>
<rect x="158.67" y="810.2" width="2.88" height="3.2" fill="#16c9d8"/>
<rect x="161.51" y="810.2" width="0.73" height="3.2" fill="#70c070"/>
<rect x="162.19" y="810.2" width="4.46" height="3.2" fill="#16c9d8"/>
<rect x="166.6" y="810.2" width="1.04" height="3.2" fill="#d0ae00"/>
<rect x="167.59" y="810.2" width="1.27" height="3.2" fill="#16c9d8"/>
<rect x="168.81" y="810.2" width="1.47" height="3.2" fill="#70c070"/>
<rect x="170.23" y="810.2" width="4.21" height="3.2" fill="#d0ae00"/>
<rect x="174.39" y="810.2" width="3.63" height="3.2" fill="#16c9d8"/>
<rect x="177.97" y="810.2" width="1.2" height="3.2" fill="#d0ae00"/>
<rect x="179.12" y="810.2" width="1.78" height="3.2" fill="#16c9d8"/>
<rect x="180.86" y="810.2" width="1.33" height="3.2" fill="#d0ae00"/>
<rect x="182.14" y="810.2" width="1.5" height="3.2" fill="#70c070"/>
<rect x="183.59" y="810.2" width="2.72" height="3.2" fill="#d0ae00"/>
<rect x="186.26" y="810.2" width="1.82" height="3.2" fill="#16c9d8"/>
<rect x="188.03" y="810.2" width="0.96" height="3.2" fill="#70c070"/>
<rect x="188.95" y="810.2" width="0.69" height="3.2" fill="#16c9d8"/>
<rect x="189.59" y="810.2" width="0.65" height="3.2" fill="#d0ae00"/>
<rect x="190.18" y="810.2" width="6.94" height="3.2" fill="#16c9d8"/>
<rect x="197.07" y="810.2" width="2.43" height="3.2" fill="#d0ae00"/>
<rect x="199.46" y="810.2" width="1.14" height="3.2" fill="#16c9d8"/>
<rect x="200.55" y="810.2" width="1.05" height="3.2" fill="#d0ae00"/>
<rect x="201.55" y="810.2" width="1.37" height="3.2" fill="#70c070"/>
<rect x="202.87" y="810.2" width="4.77" height="3.2" fill="#d0ae00"/>
<rect x="207.59" y="810.2" width="1.42" height="3.2" fill="#70c070"/>
<rect x="208.96" y="810.2" width="1.46" height="3.2" fill="#d0ae00"/>
<rect x="210.37" y="810.2" width="0.87" height="3.2" fill="#70c070"/>
<rect x="211.19" y="810.2" width="1.05" height="3.2" fill="#d0ae00"/>
<rect x="212.19" y="810.2" width="1.62" height="3.2" fill="#70c070"/>
<rect x="213.76" y="810.2" width="4.97" height="3.2" fill="#16c9d8"/>
<rect x="218.68" y="810.2" width="0.94" height="3.2" fill="#70c070"/>
<rect x="219.58" y="810.2" width="1.52" height="3.2" fill="#d0ae00"/>
<rect x="221.04" y="810.2" width="0.69" height="3.2" fill="#70c070"/>
<rect x="221.68" y="810.2" width="1.47" height="3.2" fill="#16c9d8"/>
<rect x="223.1" y="810.2" width="0.99" height="3.2" fill="#d0ae00"/>
<rect x="224.04" y="810.2" width="3.17" height="3.2" fill="#16c9d8"/>
<rect x="227.16" y="810.2" width="0.88" height="3.2" fill="#70c070"/>
<rect x="227.99" y="810.2" width="1.51" height="3.2" fill="#d0ae00"/>
<rect x="229.45" y="810.2" width="0.91" height="3.2" fill="#16c9d8"/>
<rect x="230.31" y="810.2" width="2.84" height="3.2" fill="#d0ae00"/>
<rect x="233.1" y="810.2" width="1.91" height="3.2" fill="#16c9d8"/>
<rect x="234.96" y="810.2" width="0.79" height="3.2" fill="#70c070"/>
<rect x="235.71" y="810.2" width="3.39" height="3.2" fill="#d0ae00"/>
<rect x="239.04" y="810.2" width="1.46" height="3.2" fill="#16c9d8"/>
<rect x="240.46" y="810.2" width="0.56" height="3.2" fill="#d0ae00"/>
<rect x="240.96" y="810.2" width="0.67" height="3.2" fill="#16c9d8"/>
<rect x="241.59" y="810.2" width="1.14" height="3.2" fill="#70c070"/>
<rect x="242.68" y="810.2" width="1.03" height="3.2" fill="#16c9d8"/>
<rect x="243.66" y="810.2" width="1.58" height="3.2" fill="#70c070"/>
<rect x="245.19" y="810.2" width="3.2" height="3.2" fill="#16c9d8"/>
<rect x="248.34" y="810.2" width="3.3" height="3.2" fill="#70c070"/>
<rect x="251.58" y="810.2" width="0.57" height="3.2" fill="#d0ae00"/>
<rect x="252.11" y="810.2" width="0.65" height="3.2" fill="#70c070"/>
<rect x="252.71" y="810.2" width="1.52" height="3.2" fill="#d0ae00"/>
<rect x="254.18" y="810.2" width="0.79" height="3.2" fill="#16c9d8"/>
<rect x="254.93" y="810.2" width="2.92" height="3.2" fill="#d0ae00"/>
<rect x="257.79" y="810.2" width="2.44" height="3.2" fill="#16c9d8"/>
<rect x="260.18" y="810.2" width="0.94" height="3.2" fill="#d0ae00"/>
<rect x="261.07" y="810.2" width="1.71" height="3.2" fill="#16c9d8"/>
<rect x="262.73" y="810.2" width="0.64" height="3.2" fill="#d0ae00"/>
<rect x="263.32" y="810.2" width="2.28" height="3.2" fill="#16c9d8"/>
<rect x="265.55" y="810.2" width="1.98" height="3.2" fill="#d0ae00"/>
<rect x="267.48" y="810.2" width="0.76" height="3.2" fill="#16c9d8"/>
<rect x="268.19" y="810.2" width="4.24" height="3.2" fill="#d0ae00"/>
<rect x="272.37" y="810.2" width="0.65" height="3.2" fill="#70c070"/>
<rect x="272.98" y="810.2" width="0.83" height="3.2" fill="#16c9d8"/>
<rect x="273.75" y="810.2" width="1.01" height="3.2" fill="#d0ae00"/>
<rect x="274.71" y="810.2" width="1.37" height="3.2" fill="#16c9d8"/>
<rect x="276.03" y="810.2" width="1.47" height="3.2" fill="#d0ae00"/>
<rect x="277.45" y="810.2" width="2.31" height="3.2" fill="#70c070"/>
<rect x="279.71" y="810.2" width="1.43" height="3.2" fill="#16c9d8"/>
<rect x="281.09" y="810.2" width="2.75" height="3.2" fill="#70c070"/>
<rect x="283.8" y="810.2" width="1.81" height="3.2" fill="#16c9d8"/>
<rect x="285.56" y="810.2" width="1.77" height="3.2" fill="#70c070"/>
<rect x="287.28" y="810.2" width="1.58" height="3.2" fill="#16c9d8"/>
<rect x="288.82" y="810.2" width="2.3" height="3.2" fill="#d0ae00"/>
<rect x="291.06" y="810.2" width="1.39" height="3.2" fill="#16c9d8"/>
<rect x="292.4" y="810.2" width="1.76" height="3.2" fill="#d0ae00"/>
<rect x="294.11" y="810.2" width="1.7" height="3.2" fill="#16c9d8"/>
<rect x="295.76" y="810.2" width="0.29" height="3.2" fill="#d0ae00"/>
<rect x="74.5" y="814.6" width="2.12" height="3.3" fill="#f58282"/>
<rect x="76.57" y="814.6" width="16.98" height="3.3" fill="#fb70e8"/>
<rect x="93.5" y="814.6" width="2.11" height="3.3" fill="#f58282"/>
<rect x="95.57" y="814.6" width="6.46" height="3.3" fill="#fb70e8"/>
<rect x="101.97" y="814.6" width="4.43" height="3.3" fill="#f58282"/>
<rect x="106.35" y="814.6" width="5.75" height="3.3" fill="#fb70e8"/>
<rect x="112.05" y="814.6" width="1.75" height="3.3" fill="#f58282"/>
<rect x="113.75" y="814.6" width="1.02" height="3.3" fill="#fb70e8"/>
<rect x="114.72" y="814.6" width="2.04" height="3.3" fill="#f58282"/>
<rect x="116.72" y="814.6" width="1.57" height="3.3" fill="#fb70e8"/>
<rect x="118.23" y="814.6" width="1.35" height="3.3" fill="#f58282"/>
<rect x="119.54" y="814.6" width="2.94" height="3.3" fill="#fb70e8"/>
<rect x="122.43" y="814.6" width="4.03" height="3.3" fill="#f58282"/>
<rect x="126.41" y="814.6" width="1.36" height="3.3" fill="#fb70e8"/>
<rect x="127.72" y="814.6" width="2.14" height="3.3" fill="#f58282"/>
<rect x="129.8" y="814.6" width="2.41" height="3.3" fill="#fb70e8"/>
<rect x="132.17" y="814.6" width="2.26" height="3.3" fill="#f58282"/>
<rect x="134.38" y="814.6" width="7.69" height="3.3" fill="#fb70e8"/>
<rect x="142.02" y="814.6" width="2.61" height="3.3" fill="#f58282"/>
<rect x="144.58" y="814.6" width="5.38" height="3.3" fill="#fb70e8"/>
<rect x="149.91" y="814.6" width="0.88" height="3.3" fill="#f58282"/>
<rect x="150.74" y="814.6" width="14.35" height="3.3" fill="#fb70e8"/>
<rect x="165.04" y="814.6" width="1.07" height="3.3" fill="#f58282"/>
<rect x="166.06" y="814.6" width="4.63" height="3.3" fill="#fb70e8"/>
<rect x="170.65" y="814.6" width="0.96" height="3.3" fill="#f58282"/>
<rect x="171.56" y="814.6" width="3.24" height="3.3" fill="#fb70e8"/>
<rect x="174.74" y="814.6" width="1.84" height="3.3" fill="#f58282"/>
<rect x="176.53" y="814.6" width="2.69" height="3.3" fill="#fb70e8"/>
<rect x="179.17" y="814.6" width="2.41" height="3.3" fill="#f58282"/>
<rect x="181.52" y="814.6" width="3.52" height="3.3" fill="#fb70e8"/>
<rect x="184.99" y="814.6" width="1.75" height="3.3" fill="#f58282"/>
<rect x="186.69" y="814.6" width="2.26" height="3.3" fill="#fb70e8"/>
<rect x="188.89" y="814.6" width="2.53" height="3.3" fill="#f58282"/>
<rect x="191.37" y="814.6" width="0.72" height="3.3" fill="#fb70e8"/>
<rect x="192.04" y="814.6" width="2.34" height="3.3" fill="#f58282"/>
<rect x="194.33" y="814.6" width="4.11" height="3.3" fill="#fb70e8"/>
<rect x="198.4" y="814.6" width="2.48" height="3.3" fill="#f58282"/>
<rect x="200.83" y="814.6" width="4.79" height="3.3" fill="#fb70e8"/>
<rect x="205.57" y="814.6" width="1.39" height="3.3" fill="#f58282"/>
<rect x="206.91" y="814.6" width="1.52" height="3.3" fill="#fb70e8"/>
<rect x="208.38" y="814.6" width="2.16" height="3.3" fill="#f58282"/>
<rect x="210.49" y="814.6" width="3.19" height="3.3" fill="#fb70e8"/>
<rect x="213.63" y="814.6" width="2.77" height="3.3" fill="#f58282"/>
<rect x="216.34" y="814.6" width="5.66" height="3.3" fill="#fb70e8"/>
<rect x="221.95" y="814.6" width="1" height="3.3" fill="#f58282"/>
<rect x="222.9" y="814.6" width="11.38" height="3.3" fill="#fb70e8"/>
<rect x="234.24" y="814.6" width="1.78" height="3.3" fill="#f58282"/>
<rect x="235.97" y="814.6" width="1.96" height="3.3" fill="#fb70e8"/>
<rect x="237.88" y="814.6" width="1.27" height="3.3" fill="#f58282"/>
<rect x="239.11" y="814.6" width="2.26" height="3.3" fill="#fb70e8"/>
<rect x="241.31" y="814.6" width="3.82" height="3.3" fill="#f58282"/>
<rect x="245.09" y="814.6" width="4.81" height="3.3" fill="#fb70e8"/>
<rect x="249.85" y="814.6" width="1.37" height="3.3" fill="#f58282"/>
<rect x="251.17" y="814.6" width="2.76" height="3.3" fill="#fb70e8"/>
<rect x="253.88" y="814.6" width="7.32" height="3.3" fill="#f58282"/>
<rect x="261.15" y="814.6" width="11.4" height="3.3" fill="#fb70e8"/>
<rect x="272.5" y="814.6" width="1.51" height="3.3" fill="#f58282"/>
<rect x="273.97" y="814.6" width="4.67" height="3.3" fill="#fb70e8"/>
<rect x="278.59" y="814.6" width="1.39" height="3.3" fill="#f58282"/>
<rect x="279.93" y="814.6" width="0.87" height="3.3" fill="#fb70e8"/>
<rect x="280.75" y="814.6" width="1.98" height="3.3" fill="#f58282"/>
<rect x="282.68" y="814.6" width="4.3" height="3.3" fill="#fb70e8"/>
<rect x="286.93" y="814.6" width="1.98" height="3.3" fill="#f58282"/>
<rect x="288.87" y="814.6" width="3.29" height="3.3" fill="#fb70e8"/>
<rect x="292.1" y="814.6" width="2.98" height="3.3" fill="#f58282"/>
<rect x="295.03" y="814.6" width="1.02" height="3.3" fill="#fb70e8"/>
<rect x="74.5" y="818.6" width="2.57" height="3.3" fill="#a8dcc4"/>
<rect x="77.02" y="818.6" width="1.41" height="3.3" fill="#c4ead2"/>
<rect x="78.38" y="818.6" width="1.82" height="3.3" fill="#5a9ec8"/>
<rect x="80.16" y="818.6" width="5.9" height="3.3" fill="#a8dcc4"/>
<rect x="86" y="818.6" width="2.93" height="3.3" fill="#80c4c4"/>
<rect x="88.88" y="818.6" width="2.63" height="3.3" fill="#a8dcc4"/>
<rect x="91.46" y="818.6" width="1.2" height="3.3" fill="#e0f2e4"/>
<rect x="92.61" y="818.6" width="2.04" height="3.3" fill="#a8dcc4"/>
<rect x="94.6" y="818.6" width="2" height="3.3" fill="#e0f2e4"/>
<rect x="96.55" y="818.6" width="1.24" height="3.3" fill="#80c4c4"/>
<rect x="97.74" y="818.6" width="1.73" height="3.3" fill="#a8dcc4"/>
<rect x="99.42" y="818.6" width="3.29" height="3.3" fill="#e0f2e4"/>
<rect x="102.66" y="818.6" width="0.68" height="3.3" fill="#80c4c4"/>
<rect x="103.29" y="818.6" width="1.28" height="3.3" fill="#e0f2e4"/>
<rect x="104.52" y="818.6" width="0.8" height="3.3" fill="#c4ead2"/>
<rect x="105.27" y="818.6" width="0.73" height="3.3" fill="#80c4c4"/>
<rect x="105.95" y="818.6" width="2.6" height="3.3" fill="#a8dcc4"/>
<rect x="108.5" y="818.6" width="1.5" height="3.3" fill="#c4ead2"/>
<rect x="109.95" y="818.6" width="0.64" height="3.3" fill="#e0f2e4"/>
<rect x="110.54" y="818.6" width="2" height="3.3" fill="#c4ead2"/>
<rect x="112.49" y="818.6" width="1.41" height="3.3" fill="#a8dcc4"/>
<rect x="113.85" y="818.6" width="1.46" height="3.3" fill="#c4ead2"/>
<rect x="115.26" y="818.6" width="1.21" height="3.3" fill="#80c4c4"/>
<rect x="116.42" y="818.6" width="2.48" height="3.3" fill="#a8dcc4"/>
<rect x="118.85" y="818.6" width="0.65" height="3.3" fill="#e0f2e4"/>
<rect x="119.45" y="818.6" width="0.79" height="3.3" fill="#c4ead2"/>
<rect x="120.19" y="818.6" width="1.02" height="3.3" fill="#a8dcc4"/>
<rect x="121.16" y="818.6" width="1.75" height="3.3" fill="#c4ead2"/>
<rect x="122.86" y="818.6" width="2.44" height="3.3" fill="#a8dcc4"/>
<rect x="125.26" y="818.6" width="3.02" height="3.3" fill="#80c4c4"/>
<rect x="128.22" y="818.6" width="1.58" height="3.3" fill="#a8dcc4"/>
<rect x="129.75" y="818.6" width="2.78" height="3.3" fill="#80c4c4"/>
<rect x="132.47" y="818.6" width="1.5" height="3.3" fill="#e0f2e4"/>
<rect x="133.92" y="818.6" width="0.95" height="3.3" fill="#80c4c4"/>
<rect x="134.82" y="818.6" width="2.02" height="3.3" fill="#c4ead2"/>
<rect x="136.79" y="818.6" width="3.49" height="3.3" fill="#a8dcc4"/>
<rect x="140.23" y="818.6" width="1.68" height="3.3" fill="#c4ead2"/>
<rect x="141.85" y="818.6" width="1.35" height="3.3" fill="#a8dcc4"/>
<rect x="143.16" y="818.6" width="0.94" height="3.3" fill="#e0f2e4"/>
<rect x="144.04" y="818.6" width="1.51" height="3.3" fill="#c4ead2"/>
<rect x="145.51" y="818.6" width="2.68" height="3.3" fill="#a8dcc4"/>
<rect x="148.13" y="818.6" width="1.36" height="3.3" fill="#80c4c4"/>
<rect x="149.44" y="818.6" width="1.32" height="3.3" fill="#c4ead2"/>
<rect x="150.71" y="818.6" width="2.01" height="3.3" fill="#80c4c4"/>
<rect x="152.66" y="818.6" width="0.91" height="3.3" fill="#c4ead2"/>
<rect x="153.52" y="818.6" width="1.18" height="3.3" fill="#80c4c4"/>
<rect x="154.65" y="818.6" width="1.56" height="3.3" fill="#a8dcc4"/>
<rect x="156.16" y="818.6" width="1.59" height="3.3" fill="#c4ead2"/>
<rect x="157.7" y="818.6" width="1.64" height="3.3" fill="#a8dcc4"/>
<rect x="159.28" y="818.6" width="1.56" height="3.3" fill="#e0f2e4"/>
<rect x="160.79" y="818.6" width="3.73" height="3.3" fill="#c4ead2"/>
<rect x="164.47" y="818.6" width="1.43" height="3.3" fill="#e0f2e4"/>
<rect x="165.85" y="818.6" width="2.84" height="3.3" fill="#a8dcc4"/>
<rect x="168.65" y="818.6" width="1.57" height="3.3" fill="#e0f2e4"/>
<rect x="170.16" y="818.6" width="0.9" height="3.3" fill="#a8dcc4"/>
<rect x="171.02" y="818.6" width="1.89" height="3.3" fill="#80c4c4"/>
<rect x="172.86" y="818.6" width="0.81" height="3.3" fill="#c4ead2"/>
<rect x="173.62" y="818.6" width="1.63" height="3.3" fill="#80c4c4"/>
<rect x="175.2" y="818.6" width="0.68" height="3.3" fill="#e0f2e4"/>
<rect x="175.83" y="818.6" width="6.1" height="3.3" fill="#c4ead2"/>
<rect x="181.87" y="818.6" width="0.61" height="3.3" fill="#a8dcc4"/>
<rect x="182.43" y="818.6" width="2.29" height="3.3" fill="#c4ead2"/>
<rect x="184.68" y="818.6" width="1.16" height="3.3" fill="#e0f2e4"/>
<rect x="185.78" y="818.6" width="1.06" height="3.3" fill="#80c4c4"/>
<rect x="186.8" y="818.6" width="0.86" height="3.3" fill="#c4ead2"/>
<rect x="187.61" y="818.6" width="1.82" height="3.3" fill="#a8dcc4"/>
<rect x="189.38" y="818.6" width="1.12" height="3.3" fill="#c4ead2"/>
<rect x="190.45" y="818.6" width="1.37" height="3.3" fill="#80c4c4"/>
<rect x="191.78" y="818.6" width="1.27" height="3.3" fill="#a8dcc4"/>
<rect x="192.99" y="818.6" width="1.64" height="3.3" fill="#c4ead2"/>
<rect x="194.58" y="818.6" width="1.68" height="3.3" fill="#e0f2e4"/>
<rect x="196.21" y="818.6" width="1.34" height="3.3" fill="#a8dcc4"/>
<rect x="197.5" y="818.6" width="1.09" height="3.3" fill="#c4ead2"/>
<rect x="198.53" y="818.6" width="1.03" height="3.3" fill="#a8dcc4"/>
<rect x="199.51" y="818.6" width="4.7" height="3.3" fill="#80c4c4"/>
<rect x="204.16" y="818.6" width="1.17" height="3.3" fill="#c4ead2"/>
<rect x="205.28" y="818.6" width="0.63" height="3.3" fill="#80c4c4"/>
<rect x="205.86" y="818.6" width="2.82" height="3.3" fill="#a8dcc4"/>
<rect x="208.63" y="818.6" width="1.74" height="3.3" fill="#c4ead2"/>
<rect x="210.32" y="818.6" width="1.72" height="3.3" fill="#e0f2e4"/>
<rect x="211.99" y="818.6" width="1.72" height="3.3" fill="#c4ead2"/>
<rect x="213.66" y="818.6" width="1.06" height="3.3" fill="#e0f2e4"/>
<rect x="214.67" y="818.6" width="1.91" height="3.3" fill="#a8dcc4"/>
<rect x="216.53" y="818.6" width="1.09" height="3.3" fill="#80c4c4"/>
<rect x="217.57" y="818.6" width="1.68" height="3.3" fill="#a8dcc4"/>
<rect x="219.21" y="818.6" width="1.22" height="3.3" fill="#e0f2e4"/>
<rect x="220.38" y="818.6" width="0.69" height="3.3" fill="#a8dcc4"/>
<rect x="221.01" y="818.6" width="1.55" height="3.3" fill="#e0f2e4"/>
<rect x="222.51" y="818.6" width="1.97" height="3.3" fill="#c4ead2"/>
<rect x="224.43" y="818.6" width="1.74" height="3.3" fill="#e0f2e4"/>
<rect x="226.11" y="818.6" width="1.04" height="3.3" fill="#a8dcc4"/>
<rect x="227.11" y="818.6" width="0.94" height="3.3" fill="#80c4c4"/>
<rect x="228" y="818.6" width="0.76" height="3.3" fill="#c4ead2"/>
<rect x="228.71" y="818.6" width="1.94" height="3.3" fill="#a8dcc4"/>
<rect x="230.6" y="818.6" width="3.44" height="3.3" fill="#c4ead2"/>
<rect x="233.99" y="818.6" width="1.29" height="3.3" fill="#e0f2e4"/>
<rect x="235.23" y="818.6" width="1.68" height="3.3" fill="#a8dcc4"/>
<rect x="236.86" y="818.6" width="1.76" height="3.3" fill="#c4ead2"/>
<rect x="238.56" y="818.6" width="2" height="3.3" fill="#e0f2e4"/>
<rect x="240.52" y="818.6" width="1.29" height="3.3" fill="#c4ead2"/>
<rect x="241.76" y="818.6" width="3.29" height="3.3" fill="#a8dcc4"/>
<rect x="245" y="818.6" width="3.05" height="3.3" fill="#c4ead2"/>
<rect x="248" y="818.6" width="1.94" height="3.3" fill="#a8dcc4"/>
<rect x="249.89" y="818.6" width="0.69" height="3.3" fill="#c4ead2"/>
<rect x="250.53" y="818.6" width="0.95" height="3.3" fill="#e0f2e4"/>
<rect x="251.44" y="818.6" width="1.93" height="3.3" fill="#80c4c4"/>
<rect x="253.32" y="818.6" width="1.8" height="3.3" fill="#a8dcc4"/>
<rect x="255.07" y="818.6" width="1.28" height="3.3" fill="#c4ead2"/>
<rect x="256.3" y="818.6" width="1.07" height="3.3" fill="#a8dcc4"/>
<rect x="257.32" y="818.6" width="1.8" height="3.3" fill="#c4ead2"/>
<rect x="259.07" y="818.6" width="0.74" height="3.3" fill="#e0f2e4"/>
<rect x="259.76" y="818.6" width="1.38" height="3.3" fill="#c4ead2"/>
<rect x="261.09" y="818.6" width="1.02" height="3.3" fill="#80c4c4"/>
<rect x="262.06" y="818.6" width="1.62" height="3.3" fill="#e0f2e4"/>
<rect x="263.63" y="818.6" width="8.01" height="3.3" fill="#a8dcc4"/>
<rect x="271.59" y="818.6" width="1.82" height="3.3" fill="#c4ead2"/>
<rect x="273.36" y="818.6" width="1.33" height="3.3" fill="#80c4c4"/>
<rect x="274.64" y="818.6" width="2.02" height="3.3" fill="#a8dcc4"/>
<rect x="276.61" y="818.6" width="1.59" height="3.3" fill="#80c4c4"/>
<rect x="278.15" y="818.6" width="1.74" height="3.3" fill="#a8dcc4"/>
<rect x="279.84" y="818.6" width="1.26" height="3.3" fill="#80c4c4"/>
<rect x="281.06" y="818.6" width="0.93" height="3.3" fill="#c4ead2"/>
<rect x="281.93" y="818.6" width="1.5" height="3.3" fill="#5a9ec8"/>
<rect x="283.38" y="818.6" width="0.92" height="3.3" fill="#80c4c4"/>
<rect x="284.25" y="818.6" width="0.88" height="3.3" fill="#a8dcc4"/>
<rect x="285.07" y="818.6" width="1.27" height="3.3" fill="#c4ead2"/>
<rect x="286.29" y="818.6" width="1.51" height="3.3" fill="#e0f2e4"/>
<rect x="287.75" y="818.6" width="0.8" height="3.3" fill="#c4ead2"/>
<rect x="288.5" y="818.6" width="4.04" height="3.3" fill="#a8dcc4"/>
<rect x="292.48" y="818.6" width="1.52" height="3.3" fill="#80c4c4"/>
<rect x="293.95" y="818.6" width="0.89" height="3.3" fill="#e0f2e4"/>
<rect x="294.78" y="818.6" width="1.27" height="3.3" fill="#a8dcc4"/>
<rect x="74.5" y="822.4" width="138.5" height="8.46" fill="#f4f3f6"/>
<rect x="213" y="822.4" width="83" height="8.46" fill="#f4ecef"/>
<rect x="74.5" y="830.86" width="138.5" height="8.46" fill="#f4f3f6"/>
<rect x="213" y="830.86" width="83" height="8.46" fill="#f4ecef"/>
<rect x="74.5" y="839.32" width="138.5" height="8.46" fill="#f4f3f6"/>
<rect x="213" y="839.32" width="83" height="8.46" fill="#f4ecef"/>
<rect x="74.5" y="847.78" width="138.5" height="8.46" fill="#f4f3f6"/>
<rect x="213" y="847.78" width="83" height="8.46" fill="#f4ecef"/>
<rect x="74.5" y="856.24" width="138.5" height="8.46" fill="#f4f3f6"/>
<rect x="213" y="856.24" width="83" height="8.46" fill="#f4ecef"/>
<rect x="74.5" y="864.7" width="138.5" height="8.46" fill="#f4f3f6"/>
<rect x="213" y="864.7" width="83" height="8.46" fill="#f4ecef"/>
<rect x="74.5" y="873.16" width="138.5" height="8.46" fill="#f4f3f6"/>
<rect x="213" y="873.16" width="83" height="8.46" fill="#f4ecef"/>
<rect x="74.5" y="881.62" width="138.5" height="8.46" fill="#f4f3f6"/>
<rect x="213" y="881.62" width="83" height="8.46" fill="#f0f0f4"/>
<rect x="74.5" y="890.08" width="138.5" height="8.46" fill="#f5eff2"/>
<rect x="213" y="890.08" width="83" height="8.46" fill="#f2f0f4"/>
<rect x="74.5" y="898.54" width="138.5" height="8.46" fill="#f4f3f6"/>
<rect x="213" y="898.54" width="83" height="8.46" fill="#f3e9ed"/>
<rect x="74.5" y="907" width="138.5" height="8.46" fill="#f4f3f6"/>
<rect x="213" y="907" width="83" height="8.46" fill="#f3e9ed"/>
<rect x="74.5" y="915.46" width="138.5" height="8.46" fill="#f4f3f6"/>
<rect x="213" y="915.46" width="83" height="8.46" fill="#f3e9ed"/>
<rect x="74.5" y="923.92" width="138.5" height="8.46" fill="#f4f3f6"/>
<rect x="213" y="923.92" width="83" height="8.46" fill="#f4ecef"/>
<rect x="74.5" y="932.38" width="138.5" height="8.46" fill="#f4f3f6"/>
<rect x="213" y="932.38" width="83" height="8.46" fill="#f4ecef"/>
<rect x="74.5" y="940.84" width="138.5" height="8.46" fill="#f4f3f6"/>
<rect x="213" y="940.84" width="83" height="8.46" fill="#f4ecef"/>
<rect x="74.5" y="949.3" width="138.5" height="8.46" fill="#f4f3f6"/>
<rect x="213" y="949.3" width="83" height="8.46" fill="#f4ecef"/>
<rect x="74.5" y="957.76" width="138.5" height="8.46" fill="#f4f3f6"/>
<rect x="213" y="957.76" width="83" height="8.46" fill="#f4ecef"/>
<rect x="74.5" y="966.22" width="138.5" height="8.46" fill="#f4f3f6"/>
<rect x="213" y="966.22" width="83" height="8.46" fill="#f4ecef"/>
<rect x="74.5" y="974.68" width="138.5" height="8.46" fill="#f4f3f6"/>
<rect x="213" y="974.68" width="83" height="8.46" fill="#f4ecef"/>
<rect x="74.5" y="983.14" width="138.5" height="8.46" fill="#f4f3f6"/>
<rect x="213" y="983.14" width="83" height="8.46" fill="#f4ecef"/>
<rect x="74.5" y="991.6" width="138.5" height="8.46" fill="#f4f3f6"/>
<rect x="213" y="991.6" width="83" height="8.46" fill="#f4ecef"/>
<rect x="74.5" y="1000.06" width="138.5" height="8.46" fill="#f4f3f6"/>
<rect x="213" y="1000.06" width="83" height="8.46" fill="#f4ecef"/>
<rect x="74.5" y="1008.52" width="138.5" height="8.46" fill="#f4f3f6"/>
<rect x="213" y="1008.52" width="83" height="8.46" fill="#f4ecef"/>
<rect x="74.5" y="1016.98" width="138.5" height="8.46" fill="#f4f3f6"/>
<rect x="213" y="1016.98" width="83" height="8.46" fill="#f4ecef"/>
<defs><linearGradient id="hL1" gradientUnits="userSpaceOnUse" x1="74.5" y1="0" x2="213" y2="0"><stop offset="0.0%" stop-color="#e8d0d8" stop-opacity="0.20"/><stop offset="0.7%" stop-color="#ffffff" stop-opacity="0.21"/><stop offset="1.4%" stop-color="#e8d0d8" stop-opacity="0.19"/><stop offset="2.2%" stop-color="#ffffff" stop-opacity="0.38"/><stop offset="2.9%" stop-color="#fff" stop-opacity="0.00"/><stop offset="3.6%" stop-color="#ffffff" stop-opacity="0.28"/><stop offset="4.3%" stop-color="#ffffff" stop-opacity="0.28"/><stop offset="5.1%" stop-color="#d8b8c4" stop-opacity="0.23"/><stop offset="5.8%" stop-color="#ffffff" stop-opacity="0.14"/><stop offset="6.5%" stop-color="#fff" stop-opacity="0.00"/><stop offset="7.2%" stop-color="#d8b8c4" stop-opacity="0.38"/><stop offset="8.0%" stop-color="#fff" stop-opacity="0.00"/><stop offset="8.7%" stop-color="#ffffff" stop-opacity="0.27"/><stop offset="9.4%" stop-color="#d8b8c4" stop-opacity="0.24"/><stop offset="10.1%" stop-color="#ffffff" stop-opacity="0.40"/><stop offset="10.9%" stop-color="#ffffff" stop-opacity="0.26"/><stop offset="11.6%" stop-color="#e8d0d8" stop-opacity="0.24"/><stop offset="12.3%" stop-color="#e8d0d8" stop-opacity="0.19"/><stop offset="13.0%" stop-color="#fff" stop-opacity="0.00"/><stop offset="13.8%" stop-color="#ffffff" stop-opacity="0.33"/><stop offset="14.5%" stop-color="#fff" stop-opacity="0.00"/><stop offset="15.2%" stop-color="#b8b8cc" stop-opacity="0.21"/><stop offset="15.9%" stop-color="#fff" stop-opacity="0.00"/><stop offset="16.7%" stop-color="#ffffff" stop-opacity="0.34"/><stop offset="17.4%" stop-color="#e8d0d8" stop-opacity="0.27"/><stop offset="18.1%" stop-color="#e8d0d8" stop-opacity="0.35"/><stop offset="18.8%" stop-color="#d8b8c4" stop-opacity="0.22"/><stop offset="19.6%" stop-color="#fff" stop-opacity="0.00"/><stop offset="20.3%" stop-color="#b8b8cc" stop-opacity="0.36"/><stop offset="21.0%" stop-color="#d8b8c4" stop-opacity="0.45"/><stop offset="21.7%" stop-color="#e8d0d8" stop-opacity="0.11"/><stop offset="22.5%" stop-color="#d8b8c4" stop-opacity="0.38"/><stop offset="23.2%" stop-color="#b8b8cc" stop-opacity="0.22"/><stop offset="23.9%" stop-color="#b8b8cc" stop-opacity="0.30"/><stop offset="24.6%" stop-color="#fff" stop-opacity="0.00"/><stop offset="25.4%" stop-color="#ffffff" stop-opacity="0.19"/><stop offset="26.1%" stop-color="#fff" stop-opacity="0.00"/><stop offset="26.8%" stop-color="#ffffff" stop-opacity="0.35"/><stop offset="27.5%" stop-color="#fff" stop-opacity="0.00"/><stop offset="28.3%" stop-color="#b8b8cc" stop-opacity="0.42"/><stop offset="29.0%" stop-color="#fff" stop-opacity="0.00"/><stop offset="29.7%" stop-color="#ffffff" stop-opacity="0.31"/><stop offset="30.4%" stop-color="#fff" stop-opacity="0.00"/><stop offset="31.2%" stop-color="#fff" stop-opacity="0.00"/><stop offset="31.9%" stop-color="#fff" stop-opacity="0.00"/><stop offset="32.6%" stop-color="#d8b8c4" stop-opacity="0.31"/><stop offset="33.3%" stop-color="#fff" stop-opacity="0.00"/><stop offset="34.1%" stop-color="#e8d0d8" stop-opacity="0.15"/><stop offset="34.8%" stop-color="#e8d0d8" stop-opacity="0.45"/><stop offset="35.5%" stop-color="#d8b8c4" stop-opacity="0.21"/><stop offset="36.2%" stop-color="#ffffff" stop-opacity="0.31"/><stop offset="37.0%" stop-color="#e8d0d8" stop-opacity="0.37"/><stop offset="37.7%" stop-color="#fff" stop-opacity="0.00"/><stop offset="38.4%" stop-color="#fff" stop-opacity="0.00"/><stop offset="39.1%" stop-color="#ffffff" stop-opacity="0.35"/><stop offset="39.9%" stop-color="#d8b8c4" stop-opacity="0.25"/><stop offset="40.6%" stop-color="#d8b8c4" stop-opacity="0.24"/><stop offset="41.3%" stop-color="#ffffff" stop-opacity="0.41"/><stop offset="42.0%" stop-color="#ffffff" stop-opacity="0.11"/><stop offset="42.8%" stop-color="#b8b8cc" stop-opacity="0.21"/><stop offset="43.5%" stop-color="#d8b8c4" stop-opacity="0.11"/><stop offset="44.2%" stop-color="#ffffff" stop-opacity="0.26"/><stop offset="44.9%" stop-color="#e8d0d8" stop-opacity="0.40"/><stop offset="45.7%" stop-color="#e8d0d8" stop-opacity="0.14"/><stop offset="46.4%" stop-color="#ffffff" stop-opacity="0.40"/><stop offset="47.1%" stop-color="#d8b8c4" stop-opacity="0.38"/><stop offset="47.8%" stop-color="#ffffff" stop-opacity="0.12"/><stop offset="48.6%" stop-color="#ffffff" stop-opacity="0.35"/><stop offset="49.3%" stop-color="#fff" stop-opacity="0.00"/><stop offset="50.0%" stop-color="#d8b8c4" stop-opacity="0.25"/><stop offset="50.7%" stop-color="#fff" stop-opacity="0.00"/><stop offset="51.4%" stop-color="#d8b8c4" stop-opacity="0.13"/><stop offset="52.2%" stop-color="#ffffff" stop-opacity="0.24"/><stop offset="52.9%" stop-color="#ffffff" stop-opacity="0.18"/><stop offset="53.6%" stop-color="#ffffff" stop-opacity="0.21"/><stop offset="54.3%" stop-color="#d8b8c4" stop-opacity="0.20"/><stop offset="55.1%" stop-color="#ffffff" stop-opacity="0.19"/><stop offset="55.8%" stop-color="#b8b8cc" stop-opacity="0.24"/><stop offset="56.5%" stop-color="#d8b8c4" stop-opacity="0.18"/><stop offset="57.2%" stop-color="#ffffff" stop-opacity="0.31"/><stop offset="58.0%" stop-color="#d8b8c4" stop-opacity="0.40"/><stop offset="58.7%" stop-color="#e8d0d8" stop-opacity="0.17"/><stop offset="59.4%" stop-color="#ffffff" stop-opacity="0.22"/><stop offset="60.1%" stop-color="#e8d0d8" stop-opacity="0.43"/><stop offset="60.9%" stop-color="#ffffff" stop-opacity="0.12"/><stop offset="61.6%" stop-color="#b8b8cc" stop-opacity="0.34"/><stop offset="62.3%" stop-color="#fff" stop-opacity="0.00"/><stop offset="63.0%" stop-color="#fff" stop-opacity="0.00"/><stop offset="63.8%" stop-color="#ffffff" stop-opacity="0.10"/><stop offset="64.5%" stop-color="#ffffff" stop-opacity="0.38"/><stop offset="65.2%" stop-color="#d8b8c4" stop-opacity="0.42"/><stop offset="65.9%" stop-color="#fff" stop-opacity="0.00"/><stop offset="66.7%" stop-color="#b8b8cc" stop-opacity="0.30"/><stop offset="67.4%" stop-color="#ffffff" stop-opacity="0.31"/><stop offset="68.1%" stop-color="#e8d0d8" stop-opacity="0.42"/><stop offset="68.8%" stop-color="#ffffff" stop-opacity="0.09"/><stop offset="69.6%" stop-color="#ffffff" stop-opacity="0.27"/><stop offset="70.3%" stop-color="#e8d0d8" stop-opacity="0.24"/><stop offset="71.0%" stop-color="#fff" stop-opacity="0.00"/><stop offset="71.7%" stop-color="#e8d0d8" stop-opacity="0.38"/><stop offset="72.5%" stop-color="#fff" stop-opacity="0.00"/><stop offset="73.2%" stop-color="#ffffff" stop-opacity="0.35"/><stop offset="73.9%" stop-color="#e8d0d8" stop-opacity="0.26"/><stop offset="74.6%" stop-color="#fff" stop-opacity="0.00"/><stop offset="75.4%" stop-color="#e8d0d8" stop-opacity="0.23"/><stop offset="76.1%" stop-color="#ffffff" stop-opacity="0.21"/><stop offset="76.8%" stop-color="#ffffff" stop-opacity="0.27"/><stop offset="77.5%" stop-color="#d8b8c4" stop-opacity="0.36"/><stop offset="78.3%" stop-color="#fff" stop-opacity="0.00"/><stop offset="79.0%" stop-color="#d8b8c4" stop-opacity="0.22"/><stop offset="79.7%" stop-color="#fff" stop-opacity="0.00"/><stop offset="80.4%" stop-color="#ffffff" stop-opacity="0.32"/><stop offset="81.2%" stop-color="#ffffff" stop-opacity="0.18"/><stop offset="81.9%" stop-color="#d8b8c4" stop-opacity="0.44"/><stop offset="82.6%" stop-color="#fff" stop-opacity="0.00"/><stop offset="83.3%" stop-color="#e8d0d8" stop-opacity="0.18"/><stop offset="84.1%" stop-color="#b8b8cc" stop-opacity="0.08"/><stop offset="84.8%" stop-color="#fff" stop-opacity="0.00"/><stop offset="85.5%" stop-color="#e8d0d8" stop-opacity="0.34"/><stop offset="86.2%" stop-color="#ffffff" stop-opacity="0.27"/><stop offset="87.0%" stop-color="#fff" stop-opacity="0.00"/><stop offset="87.7%" stop-color="#ffffff" stop-opacity="0.27"/><stop offset="88.4%" stop-color="#ffffff" stop-opacity="0.16"/><stop offset="89.1%" stop-color="#fff" stop-opacity="0.00"/><stop offset="89.9%" stop-color="#fff" stop-opacity="0.00"/><stop offset="90.6%" stop-color="#fff" stop-opacity="0.00"/><stop offset="91.3%" stop-color="#ffffff" stop-opacity="0.35"/><stop offset="92.0%" stop-color="#d8b8c4" stop-opacity="0.19"/><stop offset="92.8%" stop-color="#b8b8cc" stop-opacity="0.23"/><stop offset="93.5%" stop-color="#e8d0d8" stop-opacity="0.14"/><stop offset="94.2%" stop-color="#d8b8c4" stop-opacity="0.29"/><stop offset="94.9%" stop-color="#d8b8c4" stop-opacity="0.11"/><stop offset="95.7%" stop-color="#ffffff" stop-opacity="0.16"/><stop offset="96.4%" stop-color="#fff" stop-opacity="0.00"/><stop offset="97.1%" stop-color="#ffffff" stop-opacity="0.35"/><stop offset="97.8%" stop-color="#e8d0d8" stop-opacity="0.17"/><stop offset="98.6%" stop-color="#ffffff" stop-opacity="0.37"/><stop offset="99.3%" stop-color="#fff" stop-opacity="0.00"/><stop offset="100.0%" stop-color="#ffffff" stop-opacity="0.31"/></linearGradient></defs>
<defs><linearGradient id="hL2" gradientUnits="userSpaceOnUse" x1="74.5" y1="0" x2="213" y2="0" spreadMethod="repeat"><stop offset="0.0%" stop-color="#ffffff" stop-opacity="0.28"/><stop offset="0.9%" stop-color="#fff" stop-opacity="0.00"/><stop offset="1.7%" stop-color="#b8b8cc" stop-opacity="0.15"/><stop offset="2.6%" stop-color="#fff" stop-opacity="0.00"/><stop offset="3.5%" stop-color="#b8b8cc" stop-opacity="0.04"/><stop offset="4.3%" stop-color="#d8b8c4" stop-opacity="0.07"/><stop offset="5.2%" stop-color="#ffffff" stop-opacity="0.06"/><stop offset="6.1%" stop-color="#ffffff" stop-opacity="0.20"/><stop offset="7.0%" stop-color="#ffffff" stop-opacity="0.26"/><stop offset="7.8%" stop-color="#fff" stop-opacity="0.00"/><stop offset="8.7%" stop-color="#ffffff" stop-opacity="0.26"/><stop offset="9.6%" stop-color="#ffffff" stop-opacity="0.09"/><stop offset="10.4%" stop-color="#b8b8cc" stop-opacity="0.27"/><stop offset="11.3%" stop-color="#b8b8cc" stop-opacity="0.25"/><stop offset="12.2%" stop-color="#ffffff" stop-opacity="0.18"/><stop offset="13.0%" stop-color="#d8b8c4" stop-opacity="0.17"/><stop offset="13.9%" stop-color="#b8b8cc" stop-opacity="0.22"/><stop offset="14.8%" stop-color="#ffffff" stop-opacity="0.06"/><stop offset="15.7%" stop-color="#ffffff" stop-opacity="0.11"/><stop offset="16.5%" stop-color="#ffffff" stop-opacity="0.26"/><stop offset="17.4%" stop-color="#d8b8c4" stop-opacity="0.10"/><stop offset="18.3%" stop-color="#ffffff" stop-opacity="0.19"/><stop offset="19.1%" stop-color="#ffffff" stop-opacity="0.06"/><stop offset="20.0%" stop-color="#ffffff" stop-opacity="0.25"/><stop offset="20.9%" stop-color="#fff" stop-opacity="0.00"/><stop offset="21.7%" stop-color="#ffffff" stop-opacity="0.19"/><stop offset="22.6%" stop-color="#d8b8c4" stop-opacity="0.14"/><stop offset="23.5%" stop-color="#d8b8c4" stop-opacity="0.10"/><stop offset="24.3%" stop-color="#b8b8cc" stop-opacity="0.25"/><stop offset="25.2%" stop-color="#ffffff" stop-opacity="0.12"/><stop offset="26.1%" stop-color="#fff" stop-opacity="0.00"/><stop offset="27.0%" stop-color="#ffffff" stop-opacity="0.08"/><stop offset="27.8%" stop-color="#fff" stop-opacity="0.00"/><stop offset="28.7%" stop-color="#b8b8cc" stop-opacity="0.06"/><stop offset="29.6%" stop-color="#ffffff" stop-opacity="0.21"/><stop offset="30.4%" stop-color="#ffffff" stop-opacity="0.21"/><stop offset="31.3%" stop-color="#ffffff" stop-opacity="0.06"/><stop offset="32.2%" stop-color="#b8b8cc" stop-opacity="0.05"/><stop offset="33.0%" stop-color="#fff" stop-opacity="0.00"/><stop offset="33.9%" stop-color="#d8b8c4" stop-opacity="0.15"/><stop offset="34.8%" stop-color="#fff" stop-opacity="0.00"/><stop offset="35.7%" stop-color="#ffffff" stop-opacity="0.06"/><stop offset="36.5%" stop-color="#fff" stop-opacity="0.00"/><stop offset="37.4%" stop-color="#ffffff" stop-opacity="0.15"/><stop offset="38.3%" stop-color="#ffffff" stop-opacity="0.13"/><stop offset="39.1%" stop-color="#d8b8c4" stop-opacity="0.09"/><stop offset="40.0%" stop-color="#b8b8cc" stop-opacity="0.24"/><stop offset="40.9%" stop-color="#ffffff" stop-opacity="0.05"/><stop offset="41.7%" stop-color="#ffffff" stop-opacity="0.27"/><stop offset="42.6%" stop-color="#ffffff" stop-opacity="0.25"/><stop offset="43.5%" stop-color="#d8b8c4" stop-opacity="0.08"/><stop offset="44.3%" stop-color="#d8b8c4" stop-opacity="0.15"/><stop offset="45.2%" stop-color="#fff" stop-opacity="0.00"/><stop offset="46.1%" stop-color="#ffffff" stop-opacity="0.26"/><stop offset="47.0%" stop-color="#d8b8c4" stop-opacity="0.07"/><stop offset="47.8%" stop-color="#b8b8cc" stop-opacity="0.19"/><stop offset="48.7%" stop-color="#b8b8cc" stop-opacity="0.27"/><stop offset="49.6%" stop-color="#ffffff" stop-opacity="0.06"/><stop offset="50.4%" stop-color="#ffffff" stop-opacity="0.05"/><stop offset="51.3%" stop-color="#b8b8cc" stop-opacity="0.10"/><stop offset="52.2%" stop-color="#b8b8cc" stop-opacity="0.27"/><stop offset="53.0%" stop-color="#fff" stop-opacity="0.00"/><stop offset="53.9%" stop-color="#fff" stop-opacity="0.00"/><stop offset="54.8%" stop-color="#b8b8cc" stop-opacity="0.08"/><stop offset="55.7%" stop-color="#fff" stop-opacity="0.00"/><stop offset="56.5%" stop-color="#ffffff" stop-opacity="0.06"/><stop offset="57.4%" stop-color="#fff" stop-opacity="0.00"/><stop offset="58.3%" stop-color="#ffffff" stop-opacity="0.24"/><stop offset="59.1%" stop-color="#fff" stop-opacity="0.00"/><stop offset="60.0%" stop-color="#d8b8c4" stop-opacity="0.13"/><stop offset="60.9%" stop-color="#d8b8c4" stop-opacity="0.07"/><stop offset="61.7%" stop-color="#ffffff" stop-opacity="0.16"/><stop offset="62.6%" stop-color="#ffffff" stop-opacity="0.10"/><stop offset="63.5%" stop-color="#fff" stop-opacity="0.00"/><stop offset="64.3%" stop-color="#ffffff" stop-opacity="0.21"/><stop offset="65.2%" stop-color="#b8b8cc" stop-opacity="0.08"/><stop offset="66.1%" stop-color="#d8b8c4" stop-opacity="0.15"/><stop offset="67.0%" stop-color="#fff" stop-opacity="0.00"/><stop offset="67.8%" stop-color="#d8b8c4" stop-opacity="0.15"/><stop offset="68.7%" stop-color="#ffffff" stop-opacity="0.14"/><stop offset="69.6%" stop-color="#ffffff" stop-opacity="0.27"/><stop offset="70.4%" stop-color="#ffffff" stop-opacity="0.23"/><stop offset="71.3%" stop-color="#b8b8cc" stop-opacity="0.14"/><stop offset="72.2%" stop-color="#ffffff" stop-opacity="0.17"/><stop offset="73.0%" stop-color="#ffffff" stop-opacity="0.12"/><stop offset="73.9%" stop-color="#fff" stop-opacity="0.00"/><stop offset="74.8%" stop-color="#ffffff" stop-opacity="0.28"/><stop offset="75.7%" stop-color="#b8b8cc" stop-opacity="0.09"/><stop offset="76.5%" stop-color="#d8b8c4" stop-opacity="0.06"/><stop offset="77.4%" stop-color="#d8b8c4" stop-opacity="0.05"/><stop offset="78.3%" stop-color="#d8b8c4" stop-opacity="0.08"/><stop offset="79.1%" stop-color="#ffffff" stop-opacity="0.13"/><stop offset="80.0%" stop-color="#ffffff" stop-opacity="0.25"/><stop offset="80.9%" stop-color="#ffffff" stop-opacity="0.06"/><stop offset="81.7%" stop-color="#b8b8cc" stop-opacity="0.10"/><stop offset="82.6%" stop-color="#ffffff" stop-opacity="0.22"/><stop offset="83.5%" stop-color="#b8b8cc" stop-opacity="0.18"/><stop offset="84.3%" stop-color="#fff" stop-opacity="0.00"/><stop offset="85.2%" stop-color="#d8b8c4" stop-opacity="0.27"/><stop offset="86.1%" stop-color="#ffffff" stop-opacity="0.15"/><stop offset="87.0%" stop-color="#d8b8c4" stop-opacity="0.19"/><stop offset="87.8%" stop-color="#ffffff" stop-opacity="0.09"/><stop offset="88.7%" stop-color="#d8b8c4" stop-opacity="0.08"/><stop offset="89.6%" stop-color="#b8b8cc" stop-opacity="0.18"/><stop offset="90.4%" stop-color="#fff" stop-opacity="0.00"/><stop offset="91.3%" stop-color="#d8b8c4" stop-opacity="0.09"/><stop offset="92.2%" stop-color="#b8b8cc" stop-opacity="0.18"/><stop offset="93.0%" stop-color="#ffffff" stop-opacity="0.04"/><stop offset="93.9%" stop-color="#d8b8c4" stop-opacity="0.26"/><stop offset="94.8%" stop-color="#b8b8cc" stop-opacity="0.23"/><stop offset="95.7%" stop-color="#ffffff" stop-opacity="0.08"/><stop offset="96.5%" stop-color="#fff" stop-opacity="0.00"/><stop offset="97.4%" stop-color="#d8b8c4" stop-opacity="0.26"/><stop offset="98.3%" stop-color="#ffffff" stop-opacity="0.18"/><stop offset="99.1%" stop-color="#fff" stop-opacity="0.00"/><stop offset="100.0%" stop-color="#fff" stop-opacity="0.00"/></linearGradient></defs>
<defs><linearGradient id="hR1" gradientUnits="userSpaceOnUse" x1="213" y1="0" x2="296" y2="0"><stop offset="0.0%" stop-color="#ffffff" stop-opacity="0.21"/><stop offset="1.2%" stop-color="#ffffff" stop-opacity="0.15"/><stop offset="2.4%" stop-color="#fff" stop-opacity="0.00"/><stop offset="3.6%" stop-color="#e8e8f0" stop-opacity="0.27"/><stop offset="4.8%" stop-color="#d8a8b4" stop-opacity="0.42"/><stop offset="6.0%" stop-color="#d8a8b4" stop-opacity="0.10"/><stop offset="7.2%" stop-color="#fff" stop-opacity="0.00"/><stop offset="8.4%" stop-color="#ffffff" stop-opacity="0.33"/><stop offset="9.6%" stop-color="#ffffff" stop-opacity="0.15"/><stop offset="10.8%" stop-color="#e8e8f0" stop-opacity="0.37"/><stop offset="12.0%" stop-color="#fff" stop-opacity="0.00"/><stop offset="13.3%" stop-color="#c09aa8" stop-opacity="0.31"/><stop offset="14.5%" stop-color="#e8e8f0" stop-opacity="0.28"/><stop offset="15.7%" stop-color="#ffffff" stop-opacity="0.43"/><stop offset="16.9%" stop-color="#ffffff" stop-opacity="0.34"/><stop offset="18.1%" stop-color="#d8a8b4" stop-opacity="0.21"/><stop offset="19.3%" stop-color="#e8e8f0" stop-opacity="0.48"/><stop offset="20.5%" stop-color="#d8a8b4" stop-opacity="0.24"/><stop offset="21.7%" stop-color="#fff" stop-opacity="0.00"/><stop offset="22.9%" stop-color="#ffffff" stop-opacity="0.28"/><stop offset="24.1%" stop-color="#d8a8b4" stop-opacity="0.50"/><stop offset="25.3%" stop-color="#ffffff" stop-opacity="0.11"/><stop offset="26.5%" stop-color="#ffffff" stop-opacity="0.17"/><stop offset="27.7%" stop-color="#e8e8f0" stop-opacity="0.40"/><stop offset="28.9%" stop-color="#e8e8f0" stop-opacity="0.30"/><stop offset="30.1%" stop-color="#c09aa8" stop-opacity="0.17"/><stop offset="31.3%" stop-color="#fff" stop-opacity="0.00"/><stop offset="32.5%" stop-color="#d8a8b4" stop-opacity="0.35"/><stop offset="33.7%" stop-color="#ffffff" stop-opacity="0.15"/><stop offset="34.9%" stop-color="#d8a8b4" stop-opacity="0.31"/><stop offset="36.1%" stop-color="#d8a8b4" stop-opacity="0.44"/><stop offset="37.3%" stop-color="#d8a8b4" stop-opacity="0.23"/><stop offset="38.6%" stop-color="#ffffff" stop-opacity="0.15"/><stop offset="39.8%" stop-color="#d8a8b4" stop-opacity="0.09"/><stop offset="41.0%" stop-color="#ffffff" stop-opacity="0.11"/><stop offset="42.2%" stop-color="#fff" stop-opacity="0.00"/><stop offset="43.4%" stop-color="#c09aa8" stop-opacity="0.43"/><stop offset="44.6%" stop-color="#ffffff" stop-opacity="0.35"/><stop offset="45.8%" stop-color="#ffffff" stop-opacity="0.22"/><stop offset="47.0%" stop-color="#fff" stop-opacity="0.00"/><stop offset="48.2%" stop-color="#fff" stop-opacity="0.00"/><stop offset="49.4%" stop-color="#ffffff" stop-opacity="0.49"/><stop offset="50.6%" stop-color="#d8a8b4" stop-opacity="0.13"/><stop offset="51.8%" stop-color="#ffffff" stop-opacity="0.29"/><stop offset="53.0%" stop-color="#e8e8f0" stop-opacity="0.12"/><stop offset="54.2%" stop-color="#fff" stop-opacity="0.00"/><stop offset="55.4%" stop-color="#d8a8b4" stop-opacity="0.35"/><stop offset="56.6%" stop-color="#fff" stop-opacity="0.00"/><stop offset="57.8%" stop-color="#d8a8b4" stop-opacity="0.33"/><stop offset="59.0%" stop-color="#ffffff" stop-opacity="0.10"/><stop offset="60.2%" stop-color="#ffffff" stop-opacity="0.11"/><stop offset="61.4%" stop-color="#ffffff" stop-opacity="0.31"/><stop offset="62.7%" stop-color="#fff" stop-opacity="0.00"/><stop offset="63.9%" stop-color="#d8a8b4" stop-opacity="0.31"/><stop offset="65.1%" stop-color="#ffffff" stop-opacity="0.24"/><stop offset="66.3%" stop-color="#ffffff" stop-opacity="0.43"/><stop offset="67.5%" stop-color="#fff" stop-opacity="0.00"/><stop offset="68.7%" stop-color="#e8e8f0" stop-opacity="0.36"/><stop offset="69.9%" stop-color="#ffffff" stop-opacity="0.20"/><stop offset="71.1%" stop-color="#ffffff" stop-opacity="0.43"/><stop offset="72.3%" stop-color="#c09aa8" stop-opacity="0.30"/><stop offset="73.5%" stop-color="#d8a8b4" stop-opacity="0.26"/><stop offset="74.7%" stop-color="#fff" stop-opacity="0.00"/><stop offset="75.9%" stop-color="#ffffff" stop-opacity="0.11"/><stop offset="77.1%" stop-color="#e8e8f0" stop-opacity="0.36"/><stop offset="78.3%" stop-color="#d8a8b4" stop-opacity="0.24"/><stop offset="79.5%" stop-color="#ffffff" stop-opacity="0.44"/><stop offset="80.7%" stop-color="#d8a8b4" stop-opacity="0.31"/><stop offset="81.9%" stop-color="#c09aa8" stop-opacity="0.43"/><stop offset="83.1%" stop-color="#ffffff" stop-opacity="0.46"/><stop offset="84.3%" stop-color="#ffffff" stop-opacity="0.25"/><stop offset="85.5%" stop-color="#ffffff" stop-opacity="0.35"/><stop offset="86.7%" stop-color="#c09aa8" stop-opacity="0.43"/><stop offset="88.0%" stop-color="#fff" stop-opacity="0.00"/><stop offset="89.2%" stop-color="#ffffff" stop-opacity="0.24"/><stop offset="90.4%" stop-color="#e8e8f0" stop-opacity="0.19"/><stop offset="91.6%" stop-color="#d8a8b4" stop-opacity="0.49"/><stop offset="92.8%" stop-color="#ffffff" stop-opacity="0.12"/><stop offset="94.0%" stop-color="#fff" stop-opacity="0.00"/><stop offset="95.2%" stop-color="#ffffff" stop-opacity="0.37"/><stop offset="96.4%" stop-color="#fff" stop-opacity="0.00"/><stop offset="97.6%" stop-color="#fff" stop-opacity="0.00"/><stop offset="98.8%" stop-color="#d8a8b4" stop-opacity="0.40"/><stop offset="100.0%" stop-color="#ffffff" stop-opacity="0.11"/></linearGradient></defs>
<defs><linearGradient id="hR2" gradientUnits="userSpaceOnUse" x1="213" y1="0" x2="296" y2="0" spreadMethod="repeat"><stop offset="0.0%" stop-color="#d8b0b8" stop-opacity="0.10"/><stop offset="1.4%" stop-color="#fff" stop-opacity="0.00"/><stop offset="2.9%" stop-color="#c8c8d8" stop-opacity="0.22"/><stop offset="4.3%" stop-color="#c8c8d8" stop-opacity="0.07"/><stop offset="5.8%" stop-color="#fff" stop-opacity="0.00"/><stop offset="7.2%" stop-color="#ffffff" stop-opacity="0.16"/><stop offset="8.7%" stop-color="#ffffff" stop-opacity="0.24"/><stop offset="10.1%" stop-color="#d8b0b8" stop-opacity="0.06"/><stop offset="11.6%" stop-color="#fff" stop-opacity="0.00"/><stop offset="13.0%" stop-color="#fff" stop-opacity="0.00"/><stop offset="14.5%" stop-color="#ffffff" stop-opacity="0.21"/><stop offset="15.9%" stop-color="#c8c8d8" stop-opacity="0.13"/><stop offset="17.4%" stop-color="#d8b0b8" stop-opacity="0.13"/><stop offset="18.8%" stop-color="#d8b0b8" stop-opacity="0.18"/><stop offset="20.3%" stop-color="#ffffff" stop-opacity="0.17"/><stop offset="21.7%" stop-color="#ffffff" stop-opacity="0.28"/><stop offset="23.2%" stop-color="#fff" stop-opacity="0.00"/><stop offset="24.6%" stop-color="#ffffff" stop-opacity="0.06"/><stop offset="26.1%" stop-color="#ffffff" stop-opacity="0.16"/><stop offset="27.5%" stop-color="#d8b0b8" stop-opacity="0.26"/><stop offset="29.0%" stop-color="#fff" stop-opacity="0.00"/><stop offset="30.4%" stop-color="#c8c8d8" stop-opacity="0.08"/><stop offset="31.9%" stop-color="#fff" stop-opacity="0.00"/><stop offset="33.3%" stop-color="#ffffff" stop-opacity="0.07"/><stop offset="34.8%" stop-color="#ffffff" stop-opacity="0.18"/><stop offset="36.2%" stop-color="#d8b0b8" stop-opacity="0.19"/><stop offset="37.7%" stop-color="#fff" stop-opacity="0.00"/><stop offset="39.1%" stop-color="#c8c8d8" stop-opacity="0.28"/><stop offset="40.6%" stop-color="#fff" stop-opacity="0.00"/><stop offset="42.0%" stop-color="#ffffff" stop-opacity="0.14"/><stop offset="43.5%" stop-color="#ffffff" stop-opacity="0.19"/><stop offset="44.9%" stop-color="#fff" stop-opacity="0.00"/><stop offset="46.4%" stop-color="#ffffff" stop-opacity="0.19"/><stop offset="47.8%" stop-color="#ffffff" stop-opacity="0.07"/><stop offset="49.3%" stop-color="#ffffff" stop-opacity="0.08"/><stop offset="50.7%" stop-color="#fff" stop-opacity="0.00"/><stop offset="52.2%" stop-color="#d8b0b8" stop-opacity="0.07"/><stop offset="53.6%" stop-color="#ffffff" stop-opacity="0.24"/><stop offset="55.1%" stop-color="#c8c8d8" stop-opacity="0.13"/><stop offset="56.5%" stop-color="#ffffff" stop-opacity="0.19"/><stop offset="58.0%" stop-color="#ffffff" stop-opacity="0.05"/><stop offset="59.4%" stop-color="#ffffff" stop-opacity="0.09"/><stop offset="60.9%" stop-color="#ffffff" stop-opacity="0.10"/><stop offset="62.3%" stop-color="#ffffff" stop-opacity="0.24"/><stop offset="63.8%" stop-color="#d8b0b8" stop-opacity="0.15"/><stop offset="65.2%" stop-color="#ffffff" stop-opacity="0.17"/><stop offset="66.7%" stop-color="#fff" stop-opacity="0.00"/><stop offset="68.1%" stop-color="#ffffff" stop-opacity="0.20"/><stop offset="69.6%" stop-color="#d8b0b8" stop-opacity="0.12"/><stop offset="71.0%" stop-color="#ffffff" stop-opacity="0.23"/><stop offset="72.5%" stop-color="#fff" stop-opacity="0.00"/><stop offset="73.9%" stop-color="#d8b0b8" stop-opacity="0.28"/><stop offset="75.4%" stop-color="#d8b0b8" stop-opacity="0.14"/><stop offset="76.8%" stop-color="#ffffff" stop-opacity="0.15"/><stop offset="78.3%" stop-color="#c8c8d8" stop-opacity="0.11"/><stop offset="79.7%" stop-color="#c8c8d8" stop-opacity="0.12"/><stop offset="81.2%" stop-color="#ffffff" stop-opacity="0.11"/><stop offset="82.6%" stop-color="#ffffff" stop-opacity="0.15"/><stop offset="84.1%" stop-color="#d8b0b8" stop-opacity="0.26"/><stop offset="85.5%" stop-color="#ffffff" stop-opacity="0.23"/><stop offset="87.0%" stop-color="#d8b0b8" stop-opacity="0.16"/><stop offset="88.4%" stop-color="#ffffff" stop-opacity="0.27"/><stop offset="89.9%" stop-color="#fff" stop-opacity="0.00"/><stop offset="91.3%" stop-color="#ffffff" stop-opacity="0.21"/><stop offset="92.8%" stop-color="#ffffff" stop-opacity="0.12"/><stop offset="94.2%" stop-color="#ffffff" stop-opacity="0.16"/><stop offset="95.7%" stop-color="#ffffff" stop-opacity="0.09"/><stop offset="97.1%" stop-color="#d8b0b8" stop-opacity="0.18"/><stop offset="98.6%" stop-color="#ffffff" stop-opacity="0.26"/><stop offset="100.0%" stop-color="#ffffff" stop-opacity="0.18"/></linearGradient></defs>
<rect x="74.5" y="822.4" width="138.5" height="203.04" fill="url(#hL1)"/>
<rect x="213" y="822.4" width="83" height="203.04" fill="url(#hR1)"/>
<rect x="44" y="822.4" width="138.5" height="8.46" fill="url(#hL2)" transform="translate(30.5 0)"/>
<rect x="226.1" y="822.4" width="83" height="8.46" fill="url(#hR2)" transform="translate(-13.1 0)"/>
<rect x="96.2" y="830.86" width="138.5" height="8.46" fill="url(#hL2)" transform="translate(-21.7 0)"/>
<rect x="213.1" y="830.86" width="83" height="8.46" fill="url(#hR2)" transform="translate(-0.1 0)"/>
<rect x="73.9" y="839.32" width="138.5" height="8.46" fill="url(#hL2)" transform="translate(0.6 0)"/>
<rect x="239.9" y="839.32" width="83" height="8.46" fill="url(#hR2)" transform="translate(-26.9 0)"/>
<rect x="74.2" y="847.78" width="138.5" height="8.46" fill="url(#hL2)" transform="translate(0.3 0)"/>
<rect x="187.9" y="847.78" width="83" height="8.46" fill="url(#hR2)" transform="translate(25.1 0)"/>
<rect x="38" y="856.24" width="138.5" height="8.46" fill="url(#hL2)" transform="translate(36.5 0)"/>
<rect x="210.6" y="856.24" width="83" height="8.46" fill="url(#hR2)" transform="translate(2.4 0)"/>
<rect x="54.5" y="864.7" width="138.5" height="8.46" fill="url(#hL2)" transform="translate(20 0)"/>
<rect x="220.7" y="864.7" width="83" height="8.46" fill="url(#hR2)" transform="translate(-7.7 0)"/>
<rect x="117.3" y="873.16" width="138.5" height="8.46" fill="url(#hL2)" transform="translate(-42.8 0)"/>
<rect x="193.6" y="873.16" width="83" height="8.46" fill="url(#hR2)" transform="translate(19.4 0)"/>
<rect x="70.6" y="881.62" width="138.5" height="8.46" fill="url(#hL2)" transform="translate(3.9 0)"/>
<rect x="206.4" y="881.62" width="83" height="8.46" fill="url(#hR2)" transform="translate(6.6 0)"/>
<rect x="63.2" y="890.08" width="138.5" height="8.46" fill="url(#hL2)" transform="translate(11.3 0)"/>
<rect x="184.5" y="890.08" width="83" height="8.46" fill="url(#hR2)" transform="translate(28.5 0)"/>
<rect x="94.3" y="898.54" width="138.5" height="8.46" fill="url(#hL2)" transform="translate(-19.8 0)"/>
<rect x="208.8" y="898.54" width="83" height="8.46" fill="url(#hR2)" transform="translate(4.2 0)"/>
<rect x="51" y="907" width="138.5" height="8.46" fill="url(#hL2)" transform="translate(23.5 0)"/>
<rect x="201.8" y="907" width="83" height="8.46" fill="url(#hR2)" transform="translate(11.2 0)"/>
<rect x="33.5" y="915.46" width="138.5" height="8.46" fill="url(#hL2)" transform="translate(41 0)"/>
<rect x="240.5" y="915.46" width="83" height="8.46" fill="url(#hR2)" transform="translate(-27.5 0)"/>
<rect x="44.8" y="923.92" width="138.5" height="8.46" fill="url(#hL2)" transform="translate(29.7 0)"/>
<rect x="240.7" y="923.92" width="83" height="8.46" fill="url(#hR2)" transform="translate(-27.7 0)"/>
<rect x="92.7" y="932.38" width="138.5" height="8.46" fill="url(#hL2)" transform="translate(-18.2 0)"/>
<rect x="221.8" y="932.38" width="83" height="8.46" fill="url(#hR2)" transform="translate(-8.8 0)"/>
<rect x="44.4" y="940.84" width="138.5" height="8.46" fill="url(#hL2)" transform="translate(30.1 0)"/>
<rect x="189.7" y="940.84" width="83" height="8.46" fill="url(#hR2)" transform="translate(23.3 0)"/>
<rect x="69.1" y="949.3" width="138.5" height="8.46" fill="url(#hL2)" transform="translate(5.4 0)"/>
<rect x="209.7" y="949.3" width="83" height="8.46" fill="url(#hR2)" transform="translate(3.3 0)"/>
<rect x="58" y="957.76" width="138.5" height="8.46" fill="url(#hL2)" transform="translate(16.5 0)"/>
<rect x="241.4" y="957.76" width="83" height="8.46" fill="url(#hR2)" transform="translate(-28.4 0)"/>
<rect x="87.3" y="966.22" width="138.5" height="8.46" fill="url(#hL2)" transform="translate(-12.8 0)"/>
<rect x="215.9" y="966.22" width="83" height="8.46" fill="url(#hR2)" transform="translate(-2.9 0)"/>
<rect x="119.6" y="974.68" width="138.5" height="8.46" fill="url(#hL2)" transform="translate(-45.1 0)"/>
<rect x="224.5" y="974.68" width="83" height="8.46" fill="url(#hR2)" transform="translate(-11.5 0)"/>
<rect x="96.5" y="983.14" width="138.5" height="8.46" fill="url(#hL2)" transform="translate(-22 0)"/>
<rect x="235.3" y="983.14" width="83" height="8.46" fill="url(#hR2)" transform="translate(-22.3 0)"/>
<rect x="105.6" y="991.6" width="138.5" height="8.46" fill="url(#hL2)" transform="translate(-31.1 0)"/>
<rect x="220.8" y="991.6" width="83" height="8.46" fill="url(#hR2)" transform="translate(-7.8 0)"/>
<rect x="58.4" y="1000.06" width="138.5" height="8.46" fill="url(#hL2)" transform="translate(16.1 0)"/>
<rect x="191.9" y="1000.06" width="83" height="8.46" fill="url(#hR2)" transform="translate(21.1 0)"/>
<rect x="92.6" y="1008.52" width="138.5" height="8.46" fill="url(#hL2)" transform="translate(-18.1 0)"/>
<rect x="195.8" y="1008.52" width="83" height="8.46" fill="url(#hR2)" transform="translate(17.2 0)"/>
<rect x="53.2" y="1016.98" width="138.5" height="8.46" fill="url(#hL2)" transform="translate(21.3 0)"/>
<rect x="236.8" y="1016.98" width="83" height="8.46" fill="url(#hR2)" transform="translate(-23.8 0)"/>
<g font-size="3.7" font-weight="bold" fill="#222">
<text x="297.4" y="827.93">ZC3H7B</text>
<text x="297.4" y="836.39">ZC3H13</text>
<text x="297.4" y="844.85">FTO</text>
<text x="297.4" y="853.31">CAPRIN1</text>
<text x="297.4" y="861.77">YTHDF3</text>
<text x="297.4" y="870.23">RBM27</text>
<text x="297.4" y="878.69">METTL14</text>
<text x="297.4" y="887.15">YWHAG</text>
<text x="297.4" y="895.61">ALKBH5</text>
<text x="297.4" y="904.07">HNRNPC</text>
<text x="297.4" y="912.53">KIAA1429</text>
<text x="297.4" y="920.99">PCIF1</text>
<text x="297.4" y="929.45">WTAP</text>
<text x="297.4" y="937.91">ZCCHC4</text>
<text x="297.4" y="946.37">YTHDF1</text>
<text x="297.4" y="954.83">YTHDC2</text>
<text x="297.4" y="963.29">TRA2A</text>
<text x="297.4" y="971.75">METTL3</text>
<text x="297.4" y="980.21">GNL3</text>
<text x="297.4" y="988.67">YTHDC1</text>
<text x="297.4" y="997.13">HNRNPD</text>
<text x="297.4" y="1005.59">MSI2</text>
<text x="297.4" y="1014.05">RBM15</text>
<text x="297.4" y="1022.51">YTHDF2</text>
</g><g font-size="3.6" fill="#222">
<text x="297.6" y="809.3">Cluster</text>
<text x="297.6" y="813.1">grade</text>
<text x="297.6" y="817.4">gender</text>
<text x="297.6" y="821.5">age</text>
</g>
<defs><linearGradient id="gH" x1="0" y1="0" x2="0" y2="1"><stop offset="0" stop-color="#2b3556"/><stop offset="0.25" stop-color="#8890a8"/><stop offset="0.5" stop-color="#ffffff"/><stop offset="0.75" stop-color="#c48890"/><stop offset="1" stop-color="#7a1020"/></linearGradient></defs>
<rect x="315.2" y="805.9" width="3.7" height="60.3" fill="url(#gH)"/>
<g font-size="3.8" fill="#222">
<text x="321" y="821.5">5</text><text x="321" y="837.5">0</text><text x="320" y="853.5">−5</text>
<text x="327.4" y="808.3">Cluster</text><text x="333.6" y="813.2">cluster1</text><text x="333.6" y="817.6">cluster2</text>
<text x="327.4" y="824.6">grade</text><text x="333.6" y="829.3">G2</text><text x="333.6" y="833.7">G3</text>
<text x="327.4" y="840.9">gender</text><text x="333.6" y="845.9">FEMALE</text><text x="333.6" y="850.4">MALE</text>
<text x="327.4" y="856.9">age</text><text x="333.6" y="861.6">88</text><text x="333.6" y="875.6">28</text>
</g>
<rect x="327.6" y="809.8" width="4.6" height="4.3" fill="#1ad06a"/>
<rect x="327.6" y="814.1" width="4.6" height="4.4" fill="#86b6f0"/>
<rect x="327.6" y="825.8" width="4.6" height="4.4" fill="#d0ae00"/>
<rect x="327.6" y="830.2" width="4.6" height="4.4" fill="#16c9d8"/>
<rect x="327.6" y="842.4" width="4.6" height="4.5" fill="#fb70e8"/>
<rect x="327.6" y="846.9" width="4.6" height="4.5" fill="#f58282"/>
<defs><linearGradient id="gAge" x1="0" y1="0" x2="0" y2="1"><stop offset="0" stop-color="#4a8ec4"/><stop offset="0.35" stop-color="#84c4c8"/><stop offset="0.65" stop-color="#b8e2c8"/><stop offset="1" stop-color="#f2faf0"/></linearGradient></defs>
<rect x="327.6" y="858" width="4.6" height="17.6" fill="url(#gAge)"/>
<path d="M74.5 835.09H64.6V843.55H74.5M74.5 852.01H65.5V860.47H74.5M74.5 868.93H66.5V877.39H74.5M65.5 856.24H63V873.16H66.5M64.6 839.32H61.5V864.7H63M74.5 826.63H60.2V852.01H61.5M74.5 885.85H59.2V894.31H74.5M60.2 839.32H55.6V890.08H59.2M74.5 902.77H62.3V911.23H74.5M62.3 907H61V919.69H74.5M74.5 928.15H63V936.61H74.5M61 913.35H59.5V932.38H63M59.5 922.86H58.4V945.07H74.5M74.5 953.53H63.3V961.99H74.5M74.5 970.45H62V978.91H74.5M63.3 957.76H60V974.68H62M74.5 987.37H63V995.83H74.5M74.5 1004.29H64V1012.75H74.5M64 1008.52H62V1021.21H74.5M63 991.6H60.5V1014.87H62M60 966.22H56.8V1003.23H60.5M58.4 933.97H55V984.73H56.8M55.6 864.7H52.9V959.35H55" stroke="#555" fill="none" stroke-width="0.6"/>
<text x="391.2" y="815.8" font-size="28" fill="#000" font-weight="bold" font-family='"Liberation Serif", serif'>I</text>
<path d="M473.6 814.7H475.04V815.82H476.61V816.93H478.62V818.05H480.43V819.16H481.78V820.73H483.4V822.29H485.45V823.85H487.26V825.42H489.54V827.2H491.23V828.99H493.01V830.77H494.24V832.56H496.41V834.35H498.19V836.13H499.67V837.92H501.27V839.7H502.91V841.49H504.73V843.28H507.16V845.06H508.77V846.85H510.45V848.63H511.85V850.42H513.92V852.72H515.04V855.01H516.92V857.31H519.01V859.61H520.87V861.9H522.76V864.2H524.14V866.49H526.38V867.83H527.33V869.17H529.72V870.51H531.61V871.85H533.26V873.19H535.07V874.53H536.59V876.09H538.8V877.66H540.24V879.22H542.58V880.78H544.95V882.79H546.75V884.8H548.27V886.81H550.1V888.82H551.6V890.38H553.93V891.94H555.29V893.51H556.93V895.07H559.28V895.89H561.15V896.71H562.67V897.53H564.48V898.36H566.49V899.18H568.51V900.14H570.23V901.11H571.84V902.07H573.91V903.04H576.05V904H578.21V906.38H579.19V908.76H581.51V911.14H582.84V914.12H585.29V917.1H586.98V920.07H603.37V923.65H608.83V929H621.13V934.36H625.23V939.72H627.96V946.86H640.25V954.01H651.18V961.15H668.94V968.3H714.02V968.3" stroke="#d62020" fill="none" stroke-width="1.3"/>
<path d="M473.6 814.7H475.08V816.04H477.05V817.38H478.69V818.72H480.43V820.06H481.98V821.84H484.35V823.63H485.24V825.42H487.26V827.2H488.99V828.99H490.58V830.77H492.87V832.56H494.3V834.35H496.21V836.13H498.19V837.92H500.15V839.7H501.42V841.49H503.37V843.28H505.43V845.06H506.32V846.85H507.98V848.63H509.86V850.42H511.85V852.21H513.88V854.76H515.48V857.31H516.84V859.86H518.7V862.41H520.29V864.96H522.34V867.51H524.14V870.07H525.46V873.64H528V877.21H529.61V880.78H531.78V881.55H533.6V882.31H535.12V883.08H537.12V883.84H537.88V884.61H539.92V885.37H541.9V886.14H544.52V887.48H546.34V888.82H547.94V890.16H550.1V891.5H552.26V893.73H553.63V895.96H555.54V898.2H556.93V900.43H593.81V920.07H631.37V957.58H640.25V993.3H640.25V993.3" stroke="#2ae0ea" fill="none" stroke-width="1.3"/>
<path d="M481.04 821.84h4M483.04 819.84v4M523.9 873.64h4M525.9 871.64v4M518.87 864.96h4M520.87 862.96v4M488.3 828.99h4M490.3 826.99v4M502.74 843.28h4M504.74 841.28v4M499.98 841.49h4M501.98 839.49v4M512.13 854.76h4M514.13 852.76v4M520.37 867.51h4M522.37 865.51v4M478.61 820.06h4M480.61 818.06v4M474.67 816.04h4M476.67 814.04v4M523.2 870.07h4M525.2 868.07v4M498.98 839.7h4M500.98 837.7v4M518.78 864.96h4M520.78 862.96v4M473.09 816.04h4M475.09 814.04v4M499.74 841.49h4M501.74 839.49v4M516.33 859.86h4M518.33 857.86v4M486.72 827.2h4M488.72 825.2v4M529.78 881.55h4M531.78 879.55v4M527.15 877.21h4M529.15 875.21v4M474.8 816.04h4M476.8 814.04v4M474.5 816.04h4M476.5 814.04v4M505.51 846.85h4M507.51 844.85v4M529.41 880.78h4M531.41 878.78v4M495.88 836.13h4M497.88 834.13v4M485.98 827.2h4M487.98 825.2v4M498.34 839.7h4M500.34 837.7v4M474.71 816.04h4M476.71 814.04v4M486.29 827.2h4M488.29 825.2v4M499.28 839.7h4M501.28 837.7v4M502.77 843.28h4M504.77 841.28v4M486.98 827.2h4M488.98 825.2v4M486.84 827.2h4M488.84 825.2v4M486.12 827.2h4M488.12 825.2v4M500.59 841.49h4M502.59 839.49v4M490.38 830.77h4M492.38 828.77v4M474.26 816.04h4M476.26 814.04v4M523.31 870.07h4M525.31 868.07v4M506.41 848.63h4M508.41 846.63v4M511.57 852.21h4M513.57 850.21v4M484.14 825.42h4M486.14 823.42v4M532.62 882.31h4M534.62 880.31v4M524.65 873.64h4M526.65 871.64v4M480.23 821.84h4M482.23 819.84v4M492.96 834.35h4M494.96 832.35v4M516.33 859.86h4M518.33 857.86v4M515.71 859.86h4M517.71 857.86v4M529.25 880.78h4M531.25 878.78v4M498.34 839.7h4M500.34 837.7v4M522.85 870.07h4M524.85 868.07v4M513.25 854.76h4M515.25 852.76v4M491.2 832.56h4M493.2 830.56v4M508.28 850.42h4M510.28 848.42v4M526.01 877.21h4M528.01 875.21v4M523.83 873.64h4M525.83 871.64v4M503.34 843.28h4M505.34 841.28v4M508.37 850.42h4M510.37 848.42v4M475.04 816.04h4M477.04 814.04v4M487.56 828.99h4M489.56 826.99v4M520.89 867.51h4M522.89 865.51v4M497.87 837.92h4M499.87 835.92v4M483.36 825.42h4M485.36 823.42v4M505.95 846.85h4M507.95 844.85v4M515.22 859.86h4M517.22 857.86v4M513.51 857.31h4M515.51 855.31v4M495.49 836.13h4M497.49 834.13v4M499.35 839.7h4M501.35 837.7v4M503.52 845.06h4M505.52 843.06v4M519.75 864.96h4M521.75 862.96v4M504.28 845.06h4M506.28 843.06v4M496.6 837.92h4M498.6 835.92v4" stroke="#2ae0ea" fill="none" stroke-width="0.9"/>
<path d="M510.4 850.42h4M512.4 848.42v4M517.55 859.61h4M519.55 857.61v4M520.76 864.2h4M522.76 862.2v4M529.61 870.51h4M531.61 868.51v4M517.44 859.61h4M519.44 857.61v4M528.4 870.51h4M530.4 868.51v4M474.71 816.93h4M476.71 814.93v4M500.95 841.49h4M502.95 839.49v4M529.67 871.85h4M531.67 869.85v4M511.97 852.72h4M513.97 850.72v4M527.11 869.17h4M529.11 867.17v4M479.77 819.16h4M481.77 817.16v4M501.16 841.49h4M503.16 839.49v4M487.79 827.2h4M489.79 825.2v4M505.65 845.06h4M507.65 843.06v4M507.46 846.85h4M509.46 844.85v4M473.75 815.82h4M475.75 813.82v4M485.99 825.42h4M487.99 823.42v4M489.76 828.99h4M491.76 826.99v4M528.04 870.51h4M530.04 868.51v4M518.99 861.9h4M520.99 859.9v4M482.56 822.29h4M484.56 820.29v4M520.88 864.2h4M522.88 862.2v4M481.31 820.73h4M483.31 818.73v4M510.08 850.42h4M512.08 848.42v4M480.58 820.73h4M482.58 818.73v4M473.07 815.82h4M475.07 813.82v4M525.34 869.17h4M527.34 867.17v4M485.56 825.42h4M487.56 823.42v4M485.92 825.42h4M487.92 823.42v4" stroke="#d62020" fill="none" stroke-width="0.9"/>
<path d="M595.72 920.07h4M597.72 918.07v4M594.67 920.07h4M596.67 918.07v4M480.23 821.84h4M482.23 819.84v4M483.86 825.42h4M485.86 823.42v4M580.25 900.43h4M582.25 898.43v4M567.47 900.43h4M569.47 898.43v4M558.96 900.43h4M560.96 898.43v4M512.53 854.76h4M514.53 852.76v4" stroke="#2ae0ea" fill="none" stroke-width="0.9"/>
<path d="M500.27 839.7h4M502.27 837.7v4M535.41 876.09h4M537.41 874.09v4M515.42 857.31h4M517.42 855.31v4M542.26 880.78h4M544.26 878.78v4M544.76 884.8h4M546.76 882.8v4M480.49 820.73h4M482.49 818.73v4M474.48 815.82h4M476.48 813.82v4M569.06 901.11h4M571.06 899.11v4M502.73 841.49h4M504.73 839.49v4M499.85 839.7h4M501.85 837.7v4M587.21 920.07h4M589.21 918.07v4M526.93 869.17h4M528.93 867.17v4M568.94 901.11h4M570.94 899.11v4M527.62 869.17h4M529.62 867.17v4M546.3 886.81h4M548.3 884.81v4M490.25 828.99h4M492.25 826.99v4M545.81 884.8h4M547.81 882.8v4M572.57 903.04h4M574.57 901.04v4M533 873.19h4M535 871.19v4M558.02 895.89h4M560.02 893.89v4M550.01 890.38h4M552.01 888.38v4M480.31 820.73h4M482.31 818.73v4M559.97 896.71h4M561.97 894.71v4M540.79 880.78h4M542.79 878.78v4M507.53 846.85h4M509.53 844.85v4" stroke="#d62020" fill="none" stroke-width="0.9"/>
<path d="M611.23 929h3.4M612.93 927.3v3.4M613.96 929h3.4M615.66 927.3v3.4M626.26 946.86h3.4M627.96 945.16v3.4M648.11 961.15h3.4M649.81 959.45v3.4M668.6 968.3h3.4M670.3 966.6v3.4M679.53 968.3h3.4M681.23 966.6v3.4M712.32 968.3h3.4M714.02 966.6v3.4M570.25 900.43h3.4M571.95 898.73v3.4M564.79 900.43h3.4M566.49 898.73v3.4M581.18 920.07h3.4M582.88 918.37v3.4M593.47 920.07h3.4M595.17 918.37v3.4" stroke="#d62020" fill="none" stroke-width="0.8"/>
<path d="M597.57 920.07h3.4M599.27 918.37v3.4M603.04 920.07h3.4M604.74 918.37v3.4M608.5 920.07h3.4M610.2 918.37v3.4M567.52 900.43h3.4M569.22 898.73v3.4M572.98 900.43h3.4M574.68 898.73v3.4M559.32 900.43h3.4M561.02 898.73v3.4" stroke="#2ae0ea" fill="none" stroke-width="0.8"/>
<rect x="463.5" y="807.6" width="260.1" height="192.1" fill="none" stroke="#333" stroke-width="0.9"/>
<g font-size="10.8" font-weight="bold" fill="#111" text-anchor="middle">
<text transform="translate(449.3 993.3) rotate(-90)">0.0</text>
<text transform="translate(449.3 957.58) rotate(-90)">0.2</text>
<text transform="translate(449.3 921.86) rotate(-90)">0.4</text>
<text transform="translate(449.3 886.14) rotate(-90)">0.6</text>
<text transform="translate(449.3 850.42) rotate(-90)">0.8</text>
<text transform="translate(449.3 814.7) rotate(-90)">1.0</text>
<text x="473.6" y="1021.2">0</text>
<text x="541.9" y="1021.2">5</text>
<text x="610.2" y="1021.2">10</text>
<text x="678.5" y="1021.2">15</text>
</g>
<path d="M458.6 993.3H463.5M458.6 957.58H463.5M458.6 921.86H463.5M458.6 886.14H463.5M458.6 850.42H463.5M458.6 814.7H463.5M473.6 999.7V1004.6M541.9 999.7V1004.6M610.2 999.7V1004.6M678.5 999.7V1004.6" stroke="#333" fill="none" stroke-width="0.8"/>
<text font-size="11.2" font-weight="bold" fill="#111" text-anchor="middle" transform="translate(436.8 900.5) rotate(-90)">Survival rate</text>
<text x="582.9" y="1033.6" font-size="11.6" fill="#111" text-anchor="middle" font-weight="bold">Time (year)</text>
<text x="667.4" y="946.3" font-size="11.6" fill="#111" font-weight="bold">P = 0.771</text>
<path d="M644.7 817.8H663.9" stroke="#d62020" fill="none" stroke-width="1.4"/>
<path d="M644.7 830.3H663.9" stroke="#2ae0ea" fill="none" stroke-width="1.4"/>
<text x="673.2" y="821.7" font-size="11.7" fill="#111" font-weight="bold">cluster1</text>
<text x="673.2" y="834.3" font-size="11.7" fill="#111" font-weight="bold">cluster2</text>
</svg></body></html>
